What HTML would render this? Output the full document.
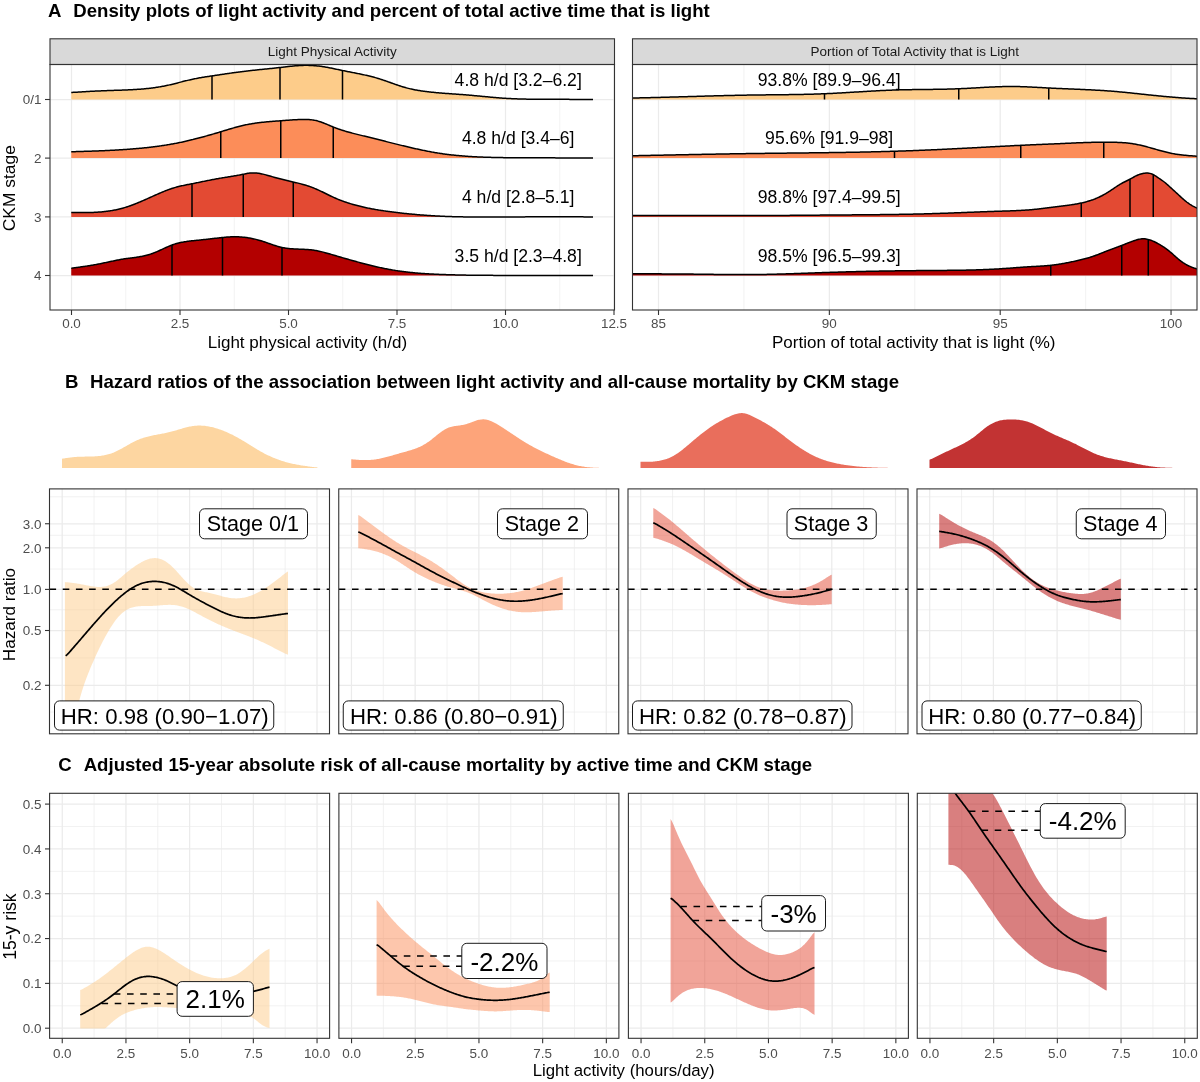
<!DOCTYPE html>
<html><head><meta charset="utf-8"><style>
html,body{margin:0;padding:0;background:#fff;}
svg{display:block;will-change:transform;font-family:"Liberation Sans", sans-serif;}
</style></head><body>
<svg width="1200" height="1082" viewBox="0 0 1200 1082">
<rect width="1200" height="1082" fill="#fff"/>
<text x="48.00" y="16.50" font-size="18.6" text-anchor="start" font-weight="bold" fill="#000" >A</text>
<text x="73.30" y="16.50" font-size="18.6" text-anchor="start" font-weight="bold" fill="#000" >Density plots of light activity and percent of total active time that is light</text>
<text x="65.00" y="387.50" font-size="18.6" text-anchor="start" font-weight="bold" fill="#000" >B</text>
<text x="90.00" y="387.50" font-size="18.6" text-anchor="start" font-weight="bold" fill="#000" >Hazard ratios of the association between light activity and all-cause mortality by CKM stage</text>
<text x="58.30" y="770.80" font-size="18.6" text-anchor="start" font-weight="bold" fill="#000" >C</text>
<text x="83.70" y="770.80" font-size="18.6" text-anchor="start" font-weight="bold" fill="#000" >Adjusted 15-year absolute risk of all-cause mortality by active time and CKM stage</text>
<rect x="50" y="64.5" width="564.5" height="245.5" fill="#fff"/>
<line x1="125.75" y1="64.5" x2="125.75" y2="310.0" stroke="#EBEBEB" stroke-width="0.65"/>
<line x1="234.25" y1="64.5" x2="234.25" y2="310.0" stroke="#EBEBEB" stroke-width="0.65"/>
<line x1="342.75" y1="64.5" x2="342.75" y2="310.0" stroke="#EBEBEB" stroke-width="0.65"/>
<line x1="451.25" y1="64.5" x2="451.25" y2="310.0" stroke="#EBEBEB" stroke-width="0.65"/>
<line x1="559.75" y1="64.5" x2="559.75" y2="310.0" stroke="#EBEBEB" stroke-width="0.65"/>
<line x1="71.5" y1="64.5" x2="71.5" y2="310.0" stroke="#EBEBEB" stroke-width="1.25"/>
<line x1="180.0" y1="64.5" x2="180.0" y2="310.0" stroke="#EBEBEB" stroke-width="1.25"/>
<line x1="288.5" y1="64.5" x2="288.5" y2="310.0" stroke="#EBEBEB" stroke-width="1.25"/>
<line x1="397.0" y1="64.5" x2="397.0" y2="310.0" stroke="#EBEBEB" stroke-width="1.25"/>
<line x1="505.5" y1="64.5" x2="505.5" y2="310.0" stroke="#EBEBEB" stroke-width="1.25"/>
<line x1="614.0" y1="64.5" x2="614.0" y2="310.0" stroke="#EBEBEB" stroke-width="1.25"/>
<line x1="50" y1="99.5" x2="614.5" y2="99.5" stroke="#EBEBEB" stroke-width="1.25"/>
<line x1="50" y1="158.1" x2="614.5" y2="158.1" stroke="#EBEBEB" stroke-width="1.25"/>
<line x1="50" y1="216.9" x2="614.5" y2="216.9" stroke="#EBEBEB" stroke-width="1.25"/>
<line x1="50" y1="275.5" x2="614.5" y2="275.5" stroke="#EBEBEB" stroke-width="1.25"/>
<clipPath id="clipA50"><rect x="50" y="64.5" width="564.5" height="245.5"/></clipPath>
<g clip-path="url(#clipA50)">
<path d="M71.25,92.46 L72.25,92.42 L73.26,92.37 L74.26,92.31 L75.26,92.25 L76.27,92.19 L77.27,92.13 L78.27,92.07 L79.28,92.01 L80.28,91.95 L81.28,91.89 L82.29,91.83 L83.29,91.77 L84.29,91.71 L85.30,91.65 L86.30,91.59 L87.30,91.54 L88.31,91.48 L89.31,91.43 L90.31,91.37 L91.32,91.32 L92.32,91.27 L93.32,91.22 L94.33,91.16 L95.33,91.12 L96.33,91.07 L97.34,91.02 L98.34,90.97 L99.34,90.93 L100.35,90.89 L101.35,90.85 L102.35,90.80 L103.36,90.76 L104.36,90.73 L105.36,90.69 L106.37,90.65 L107.37,90.62 L108.37,90.58 L109.38,90.54 L110.38,90.51 L111.38,90.48 L112.39,90.44 L113.39,90.41 L114.39,90.37 L115.40,90.34 L116.40,90.31 L117.40,90.27 L118.41,90.24 L119.41,90.20 L120.41,90.17 L121.42,90.13 L122.42,90.10 L123.43,90.06 L124.43,90.02 L125.43,89.98 L126.44,89.94 L127.44,89.90 L128.44,89.86 L129.45,89.81 L130.45,89.76 L131.45,89.72 L132.46,89.66 L133.46,89.61 L134.46,89.56 L135.47,89.50 L136.47,89.44 L137.47,89.37 L138.48,89.30 L139.48,89.23 L140.48,89.16 L141.49,89.08 L142.49,89.00 L143.49,88.91 L144.50,88.82 L145.50,88.72 L146.50,88.62 L147.51,88.52 L148.51,88.41 L149.51,88.30 L150.52,88.18 L151.52,88.06 L152.52,87.93 L153.53,87.80 L154.53,87.66 L155.53,87.51 L156.54,87.36 L157.54,87.21 L158.54,87.05 L159.55,86.88 L160.55,86.71 L161.55,86.53 L162.56,86.35 L163.56,86.16 L164.56,85.96 L165.57,85.76 L166.57,85.55 L167.57,85.33 L168.58,85.11 L169.58,84.89 L170.58,84.65 L171.59,84.42 L172.59,84.17 L173.59,83.92 L174.60,83.67 L175.60,83.42 L176.60,83.16 L177.61,82.90 L178.61,82.64 L179.61,82.38 L180.62,82.12 L181.62,81.86 L182.62,81.60 L183.63,81.35 L184.63,81.10 L185.63,80.85 L186.64,80.61 L187.64,80.37 L188.64,80.13 L189.65,79.90 L190.65,79.68 L191.65,79.46 L192.66,79.24 L193.66,79.03 L194.66,78.83 L195.67,78.62 L196.67,78.43 L197.67,78.23 L198.68,78.05 L199.68,77.86 L200.68,77.69 L201.69,77.51 L202.69,77.34 L203.69,77.18 L204.70,77.02 L205.70,76.86 L206.70,76.70 L207.71,76.55 L208.71,76.39 L209.71,76.24 L210.72,76.09 L211.72,75.94 L212.72,75.79 L213.73,75.64 L214.73,75.49 L215.73,75.34 L216.74,75.19 L217.74,75.04 L218.74,74.89 L219.75,74.74 L220.75,74.59 L221.75,74.44 L222.76,74.29 L223.76,74.15 L224.76,74.00 L225.77,73.85 L226.77,73.71 L227.78,73.56 L228.78,73.42 L229.78,73.27 L230.79,73.13 L231.79,72.99 L232.79,72.85 L233.80,72.71 L234.80,72.57 L235.80,72.43 L236.81,72.30 L237.81,72.16 L238.81,72.03 L239.82,71.90 L240.82,71.77 L241.82,71.64 L242.83,71.52 L243.83,71.40 L244.83,71.27 L245.84,71.15 L246.84,71.03 L247.84,70.92 L248.85,70.80 L249.85,70.69 L250.85,70.58 L251.86,70.47 L252.86,70.36 L253.86,70.25 L254.87,70.14 L255.87,70.04 L256.87,69.93 L257.88,69.83 L258.88,69.73 L259.88,69.62 L260.89,69.52 L261.89,69.42 L262.89,69.31 L263.90,69.21 L264.90,69.11 L265.90,69.01 L266.91,68.91 L267.91,68.80 L268.91,68.70 L269.92,68.60 L270.92,68.49 L271.92,68.39 L272.93,68.28 L273.93,68.17 L274.93,68.06 L275.94,67.95 L276.94,67.84 L277.94,67.73 L278.95,67.62 L279.95,67.50 L280.95,67.39 L281.96,67.27 L282.96,67.15 L283.96,67.03 L284.97,66.92 L285.97,66.80 L286.97,66.68 L287.98,66.57 L288.98,66.46 L289.98,66.35 L290.99,66.24 L291.99,66.14 L292.99,66.04 L294.00,65.95 L295.00,65.86 L296.00,65.78 L297.01,65.70 L298.01,65.63 L299.01,65.57 L300.02,65.51 L301.02,65.46 L302.02,65.43 L303.03,65.39 L304.03,65.37 L305.03,65.36 L306.04,65.35 L307.04,65.36 L308.04,65.37 L309.05,65.39 L310.05,65.42 L311.05,65.46 L312.06,65.50 L313.06,65.56 L314.06,65.63 L315.07,65.70 L316.07,65.79 L317.07,65.88 L318.08,65.99 L319.08,66.10 L320.08,66.23 L321.09,66.36 L322.09,66.50 L323.09,66.65 L324.10,66.81 L325.10,66.98 L326.10,67.15 L327.11,67.33 L328.11,67.52 L329.11,67.71 L330.12,67.90 L331.12,68.10 L332.12,68.31 L333.13,68.52 L334.13,68.72 L335.14,68.94 L336.14,69.15 L337.14,69.36 L338.15,69.58 L339.15,69.79 L340.15,70.00 L341.16,70.22 L342.16,70.43 L343.16,70.63 L344.17,70.84 L345.17,71.04 L346.17,71.24 L347.18,71.44 L348.18,71.64 L349.18,71.84 L350.19,72.04 L351.19,72.24 L352.19,72.43 L353.20,72.63 L354.20,72.83 L355.20,73.02 L356.21,73.22 L357.21,73.42 L358.21,73.63 L359.22,73.83 L360.22,74.04 L361.22,74.25 L362.23,74.46 L363.23,74.67 L364.23,74.89 L365.24,75.11 L366.24,75.34 L367.24,75.57 L368.25,75.81 L369.25,76.05 L370.25,76.29 L371.26,76.54 L372.26,76.80 L373.26,77.06 L374.27,77.33 L375.27,77.61 L376.27,77.89 L377.28,78.18 L378.28,78.48 L379.28,78.79 L380.29,79.10 L381.29,79.43 L382.29,79.75 L383.30,80.09 L384.30,80.43 L385.30,80.78 L386.31,81.13 L387.31,81.48 L388.31,81.84 L389.32,82.20 L390.32,82.56 L391.32,82.92 L392.33,83.28 L393.33,83.64 L394.33,84.00 L395.34,84.36 L396.34,84.71 L397.34,85.05 L398.35,85.40 L399.35,85.73 L400.35,86.06 L401.36,86.39 L402.36,86.70 L403.36,87.01 L404.37,87.30 L405.37,87.59 L406.37,87.86 L407.38,88.13 L408.38,88.38 L409.38,88.63 L410.39,88.87 L411.39,89.09 L412.39,89.31 L413.40,89.52 L414.40,89.72 L415.40,89.91 L416.41,90.10 L417.41,90.27 L418.41,90.44 L419.42,90.61 L420.42,90.76 L421.42,90.91 L422.43,91.06 L423.43,91.20 L424.43,91.33 L425.44,91.46 L426.44,91.59 L427.44,91.71 L428.45,91.82 L429.45,91.93 L430.45,92.04 L431.46,92.15 L432.46,92.25 L433.46,92.35 L434.47,92.45 L435.47,92.54 L436.48,92.64 L437.48,92.73 L438.48,92.81 L439.49,92.90 L440.49,92.98 L441.49,93.06 L442.50,93.15 L443.50,93.22 L444.50,93.30 L445.51,93.38 L446.51,93.45 L447.51,93.53 L448.52,93.60 L449.52,93.67 L450.52,93.74 L451.53,93.82 L452.53,93.89 L453.53,93.96 L454.54,94.03 L455.54,94.10 L456.54,94.17 L457.55,94.24 L458.55,94.32 L459.55,94.39 L460.56,94.46 L461.56,94.54 L462.56,94.61 L463.57,94.69 L464.57,94.77 L465.57,94.85 L466.58,94.93 L467.58,95.01 L468.58,95.09 L469.59,95.18 L470.59,95.27 L471.59,95.36 L472.60,95.45 L473.60,95.54 L474.60,95.63 L475.61,95.72 L476.61,95.82 L477.61,95.91 L478.62,96.01 L479.62,96.10 L480.62,96.20 L481.63,96.30 L482.63,96.39 L483.63,96.49 L484.64,96.58 L485.64,96.68 L486.64,96.78 L487.65,96.87 L488.65,96.97 L489.65,97.06 L490.66,97.15 L491.66,97.24 L492.66,97.33 L493.67,97.42 L494.67,97.51 L495.67,97.59 L496.68,97.68 L497.68,97.76 L498.68,97.84 L499.69,97.92 L500.69,98.00 L501.69,98.07 L502.70,98.14 L503.70,98.21 L504.70,98.28 L505.71,98.34 L506.71,98.40 L507.71,98.46 L508.72,98.51 L509.72,98.57 L510.72,98.62 L511.73,98.66 L512.73,98.71 L513.73,98.75 L514.74,98.79 L515.74,98.83 L516.74,98.87 L517.75,98.90 L518.75,98.94 L519.75,98.97 L520.76,98.99 L521.76,99.02 L522.76,99.05 L523.77,99.07 L524.77,99.09 L525.77,99.11 L526.78,99.13 L527.78,99.15 L528.78,99.16 L529.79,99.18 L530.79,99.19 L531.79,99.20 L532.80,99.21 L533.80,99.22 L534.80,99.23 L535.81,99.24 L536.81,99.25 L537.81,99.25 L538.82,99.26 L539.82,99.27 L540.83,99.27 L541.83,99.27 L542.83,99.28 L543.84,99.28 L544.84,99.29 L545.84,99.29 L546.85,99.29 L547.85,99.29 L548.85,99.30 L549.86,99.30 L550.86,99.30 L551.86,99.31 L552.87,99.31 L553.87,99.31 L554.87,99.32 L555.88,99.32 L556.88,99.32 L557.88,99.33 L558.89,99.33 L559.89,99.33 L560.89,99.34 L561.90,99.34 L562.90,99.35 L563.90,99.35 L564.91,99.35 L565.91,99.36 L566.91,99.36 L567.92,99.37 L568.92,99.37 L569.92,99.38 L570.93,99.38 L571.93,99.39 L572.93,99.39 L573.94,99.40 L574.94,99.40 L575.94,99.41 L576.95,99.41 L577.95,99.42 L578.95,99.42 L579.96,99.43 L580.96,99.43 L581.96,99.44 L582.97,99.44 L583.97,99.45 L584.97,99.46 L585.98,99.46 L586.98,99.47 L587.98,99.47 L588.99,99.48 L589.99,99.48 L590.99,99.49 L592.00,99.49 L593.00,99.50 L593.00,99.50 L71.25,99.50Z" fill="#FDCC8A"/>
<line x1="212" y1="99.5" x2="212" y2="75.90" stroke="#000" stroke-width="1.5"/>
<line x1="280" y1="99.5" x2="280" y2="67.50" stroke="#000" stroke-width="1.5"/>
<line x1="342.5" y1="99.5" x2="342.5" y2="70.50" stroke="#000" stroke-width="1.5"/>
<path d="M71.25,92.46 L72.25,92.42 L73.26,92.37 L74.26,92.31 L75.26,92.25 L76.27,92.19 L77.27,92.13 L78.27,92.07 L79.28,92.01 L80.28,91.95 L81.28,91.89 L82.29,91.83 L83.29,91.77 L84.29,91.71 L85.30,91.65 L86.30,91.59 L87.30,91.54 L88.31,91.48 L89.31,91.43 L90.31,91.37 L91.32,91.32 L92.32,91.27 L93.32,91.22 L94.33,91.16 L95.33,91.12 L96.33,91.07 L97.34,91.02 L98.34,90.97 L99.34,90.93 L100.35,90.89 L101.35,90.85 L102.35,90.80 L103.36,90.76 L104.36,90.73 L105.36,90.69 L106.37,90.65 L107.37,90.62 L108.37,90.58 L109.38,90.54 L110.38,90.51 L111.38,90.48 L112.39,90.44 L113.39,90.41 L114.39,90.37 L115.40,90.34 L116.40,90.31 L117.40,90.27 L118.41,90.24 L119.41,90.20 L120.41,90.17 L121.42,90.13 L122.42,90.10 L123.43,90.06 L124.43,90.02 L125.43,89.98 L126.44,89.94 L127.44,89.90 L128.44,89.86 L129.45,89.81 L130.45,89.76 L131.45,89.72 L132.46,89.66 L133.46,89.61 L134.46,89.56 L135.47,89.50 L136.47,89.44 L137.47,89.37 L138.48,89.30 L139.48,89.23 L140.48,89.16 L141.49,89.08 L142.49,89.00 L143.49,88.91 L144.50,88.82 L145.50,88.72 L146.50,88.62 L147.51,88.52 L148.51,88.41 L149.51,88.30 L150.52,88.18 L151.52,88.06 L152.52,87.93 L153.53,87.80 L154.53,87.66 L155.53,87.51 L156.54,87.36 L157.54,87.21 L158.54,87.05 L159.55,86.88 L160.55,86.71 L161.55,86.53 L162.56,86.35 L163.56,86.16 L164.56,85.96 L165.57,85.76 L166.57,85.55 L167.57,85.33 L168.58,85.11 L169.58,84.89 L170.58,84.65 L171.59,84.42 L172.59,84.17 L173.59,83.92 L174.60,83.67 L175.60,83.42 L176.60,83.16 L177.61,82.90 L178.61,82.64 L179.61,82.38 L180.62,82.12 L181.62,81.86 L182.62,81.60 L183.63,81.35 L184.63,81.10 L185.63,80.85 L186.64,80.61 L187.64,80.37 L188.64,80.13 L189.65,79.90 L190.65,79.68 L191.65,79.46 L192.66,79.24 L193.66,79.03 L194.66,78.83 L195.67,78.62 L196.67,78.43 L197.67,78.23 L198.68,78.05 L199.68,77.86 L200.68,77.69 L201.69,77.51 L202.69,77.34 L203.69,77.18 L204.70,77.02 L205.70,76.86 L206.70,76.70 L207.71,76.55 L208.71,76.39 L209.71,76.24 L210.72,76.09 L211.72,75.94 L212.72,75.79 L213.73,75.64 L214.73,75.49 L215.73,75.34 L216.74,75.19 L217.74,75.04 L218.74,74.89 L219.75,74.74 L220.75,74.59 L221.75,74.44 L222.76,74.29 L223.76,74.15 L224.76,74.00 L225.77,73.85 L226.77,73.71 L227.78,73.56 L228.78,73.42 L229.78,73.27 L230.79,73.13 L231.79,72.99 L232.79,72.85 L233.80,72.71 L234.80,72.57 L235.80,72.43 L236.81,72.30 L237.81,72.16 L238.81,72.03 L239.82,71.90 L240.82,71.77 L241.82,71.64 L242.83,71.52 L243.83,71.40 L244.83,71.27 L245.84,71.15 L246.84,71.03 L247.84,70.92 L248.85,70.80 L249.85,70.69 L250.85,70.58 L251.86,70.47 L252.86,70.36 L253.86,70.25 L254.87,70.14 L255.87,70.04 L256.87,69.93 L257.88,69.83 L258.88,69.73 L259.88,69.62 L260.89,69.52 L261.89,69.42 L262.89,69.31 L263.90,69.21 L264.90,69.11 L265.90,69.01 L266.91,68.91 L267.91,68.80 L268.91,68.70 L269.92,68.60 L270.92,68.49 L271.92,68.39 L272.93,68.28 L273.93,68.17 L274.93,68.06 L275.94,67.95 L276.94,67.84 L277.94,67.73 L278.95,67.62 L279.95,67.50 L280.95,67.39 L281.96,67.27 L282.96,67.15 L283.96,67.03 L284.97,66.92 L285.97,66.80 L286.97,66.68 L287.98,66.57 L288.98,66.46 L289.98,66.35 L290.99,66.24 L291.99,66.14 L292.99,66.04 L294.00,65.95 L295.00,65.86 L296.00,65.78 L297.01,65.70 L298.01,65.63 L299.01,65.57 L300.02,65.51 L301.02,65.46 L302.02,65.43 L303.03,65.39 L304.03,65.37 L305.03,65.36 L306.04,65.35 L307.04,65.36 L308.04,65.37 L309.05,65.39 L310.05,65.42 L311.05,65.46 L312.06,65.50 L313.06,65.56 L314.06,65.63 L315.07,65.70 L316.07,65.79 L317.07,65.88 L318.08,65.99 L319.08,66.10 L320.08,66.23 L321.09,66.36 L322.09,66.50 L323.09,66.65 L324.10,66.81 L325.10,66.98 L326.10,67.15 L327.11,67.33 L328.11,67.52 L329.11,67.71 L330.12,67.90 L331.12,68.10 L332.12,68.31 L333.13,68.52 L334.13,68.72 L335.14,68.94 L336.14,69.15 L337.14,69.36 L338.15,69.58 L339.15,69.79 L340.15,70.00 L341.16,70.22 L342.16,70.43 L343.16,70.63 L344.17,70.84 L345.17,71.04 L346.17,71.24 L347.18,71.44 L348.18,71.64 L349.18,71.84 L350.19,72.04 L351.19,72.24 L352.19,72.43 L353.20,72.63 L354.20,72.83 L355.20,73.02 L356.21,73.22 L357.21,73.42 L358.21,73.63 L359.22,73.83 L360.22,74.04 L361.22,74.25 L362.23,74.46 L363.23,74.67 L364.23,74.89 L365.24,75.11 L366.24,75.34 L367.24,75.57 L368.25,75.81 L369.25,76.05 L370.25,76.29 L371.26,76.54 L372.26,76.80 L373.26,77.06 L374.27,77.33 L375.27,77.61 L376.27,77.89 L377.28,78.18 L378.28,78.48 L379.28,78.79 L380.29,79.10 L381.29,79.43 L382.29,79.75 L383.30,80.09 L384.30,80.43 L385.30,80.78 L386.31,81.13 L387.31,81.48 L388.31,81.84 L389.32,82.20 L390.32,82.56 L391.32,82.92 L392.33,83.28 L393.33,83.64 L394.33,84.00 L395.34,84.36 L396.34,84.71 L397.34,85.05 L398.35,85.40 L399.35,85.73 L400.35,86.06 L401.36,86.39 L402.36,86.70 L403.36,87.01 L404.37,87.30 L405.37,87.59 L406.37,87.86 L407.38,88.13 L408.38,88.38 L409.38,88.63 L410.39,88.87 L411.39,89.09 L412.39,89.31 L413.40,89.52 L414.40,89.72 L415.40,89.91 L416.41,90.10 L417.41,90.27 L418.41,90.44 L419.42,90.61 L420.42,90.76 L421.42,90.91 L422.43,91.06 L423.43,91.20 L424.43,91.33 L425.44,91.46 L426.44,91.59 L427.44,91.71 L428.45,91.82 L429.45,91.93 L430.45,92.04 L431.46,92.15 L432.46,92.25 L433.46,92.35 L434.47,92.45 L435.47,92.54 L436.48,92.64 L437.48,92.73 L438.48,92.81 L439.49,92.90 L440.49,92.98 L441.49,93.06 L442.50,93.15 L443.50,93.22 L444.50,93.30 L445.51,93.38 L446.51,93.45 L447.51,93.53 L448.52,93.60 L449.52,93.67 L450.52,93.74 L451.53,93.82 L452.53,93.89 L453.53,93.96 L454.54,94.03 L455.54,94.10 L456.54,94.17 L457.55,94.24 L458.55,94.32 L459.55,94.39 L460.56,94.46 L461.56,94.54 L462.56,94.61 L463.57,94.69 L464.57,94.77 L465.57,94.85 L466.58,94.93 L467.58,95.01 L468.58,95.09 L469.59,95.18 L470.59,95.27 L471.59,95.36 L472.60,95.45 L473.60,95.54 L474.60,95.63 L475.61,95.72 L476.61,95.82 L477.61,95.91 L478.62,96.01 L479.62,96.10 L480.62,96.20 L481.63,96.30 L482.63,96.39 L483.63,96.49 L484.64,96.58 L485.64,96.68 L486.64,96.78 L487.65,96.87 L488.65,96.97 L489.65,97.06 L490.66,97.15 L491.66,97.24 L492.66,97.33 L493.67,97.42 L494.67,97.51 L495.67,97.59 L496.68,97.68 L497.68,97.76 L498.68,97.84 L499.69,97.92 L500.69,98.00 L501.69,98.07 L502.70,98.14 L503.70,98.21 L504.70,98.28 L505.71,98.34 L506.71,98.40 L507.71,98.46 L508.72,98.51 L509.72,98.57 L510.72,98.62 L511.73,98.66 L512.73,98.71 L513.73,98.75 L514.74,98.79 L515.74,98.83 L516.74,98.87 L517.75,98.90 L518.75,98.94 L519.75,98.97 L520.76,98.99 L521.76,99.02 L522.76,99.05 L523.77,99.07 L524.77,99.09 L525.77,99.11 L526.78,99.13 L527.78,99.15 L528.78,99.16 L529.79,99.18 L530.79,99.19 L531.79,99.20 L532.80,99.21 L533.80,99.22 L534.80,99.23 L535.81,99.24 L536.81,99.25 L537.81,99.25 L538.82,99.26 L539.82,99.27 L540.83,99.27 L541.83,99.27 L542.83,99.28 L543.84,99.28 L544.84,99.29 L545.84,99.29 L546.85,99.29 L547.85,99.29 L548.85,99.30 L549.86,99.30 L550.86,99.30 L551.86,99.31 L552.87,99.31 L553.87,99.31 L554.87,99.32 L555.88,99.32 L556.88,99.32 L557.88,99.33 L558.89,99.33 L559.89,99.33 L560.89,99.34 L561.90,99.34 L562.90,99.35 L563.90,99.35 L564.91,99.35 L565.91,99.36 L566.91,99.36 L567.92,99.37 L568.92,99.37 L569.92,99.38 L570.93,99.38 L571.93,99.39 L572.93,99.39 L573.94,99.40 L574.94,99.40 L575.94,99.41 L576.95,99.41 L577.95,99.42 L578.95,99.42 L579.96,99.43 L580.96,99.43 L581.96,99.44 L582.97,99.44 L583.97,99.45 L584.97,99.46 L585.98,99.46 L586.98,99.47 L587.98,99.47 L588.99,99.48 L589.99,99.48 L590.99,99.49 L592.00,99.49 L593.00,99.50" fill="none" stroke="#000" stroke-width="1.5" stroke-linejoin="round"/>
<path d="M71.25,151.73 L72.25,151.71 L73.26,151.69 L74.26,151.66 L75.26,151.63 L76.27,151.60 L77.27,151.57 L78.27,151.54 L79.28,151.51 L80.28,151.48 L81.28,151.45 L82.29,151.42 L83.29,151.39 L84.29,151.36 L85.30,151.33 L86.30,151.30 L87.30,151.27 L88.31,151.23 L89.31,151.20 L90.31,151.17 L91.32,151.13 L92.32,151.10 L93.32,151.06 L94.33,151.03 L95.33,150.99 L96.33,150.95 L97.34,150.91 L98.34,150.88 L99.34,150.84 L100.35,150.80 L101.35,150.75 L102.35,150.71 L103.36,150.67 L104.36,150.63 L105.36,150.58 L106.37,150.54 L107.37,150.49 L108.37,150.44 L109.38,150.40 L110.38,150.35 L111.38,150.30 L112.39,150.25 L113.39,150.19 L114.39,150.14 L115.40,150.09 L116.40,150.03 L117.40,149.97 L118.41,149.91 L119.41,149.85 L120.41,149.79 L121.42,149.73 L122.42,149.67 L123.43,149.60 L124.43,149.54 L125.43,149.47 L126.44,149.40 L127.44,149.33 L128.44,149.26 L129.45,149.18 L130.45,149.11 L131.45,149.03 L132.46,148.95 L133.46,148.87 L134.46,148.79 L135.47,148.70 L136.47,148.62 L137.47,148.53 L138.48,148.44 L139.48,148.35 L140.48,148.25 L141.49,148.16 L142.49,148.06 L143.49,147.96 L144.50,147.86 L145.50,147.75 L146.50,147.64 L147.51,147.53 L148.51,147.42 L149.51,147.31 L150.52,147.19 L151.52,147.07 L152.52,146.95 L153.53,146.83 L154.53,146.70 L155.53,146.57 L156.54,146.44 L157.54,146.30 L158.54,146.17 L159.55,146.03 L160.55,145.88 L161.55,145.74 L162.56,145.59 L163.56,145.44 L164.56,145.28 L165.57,145.12 L166.57,144.96 L167.57,144.80 L168.58,144.63 L169.58,144.46 L170.58,144.29 L171.59,144.11 L172.59,143.93 L173.59,143.75 L174.60,143.56 L175.60,143.37 L176.60,143.18 L177.61,142.98 L178.61,142.78 L179.61,142.57 L180.62,142.37 L181.62,142.15 L182.62,141.94 L183.63,141.72 L184.63,141.50 L185.63,141.27 L186.64,141.04 L187.64,140.81 L188.64,140.58 L189.65,140.34 L190.65,140.10 L191.65,139.85 L192.66,139.61 L193.66,139.35 L194.66,139.10 L195.67,138.85 L196.67,138.59 L197.67,138.33 L198.68,138.06 L199.68,137.80 L200.68,137.53 L201.69,137.26 L202.69,136.98 L203.69,136.71 L204.70,136.43 L205.70,136.15 L206.70,135.87 L207.71,135.59 L208.71,135.30 L209.71,135.01 L210.72,134.72 L211.72,134.43 L212.72,134.14 L213.73,133.85 L214.73,133.55 L215.73,133.25 L216.74,132.96 L217.74,132.66 L218.74,132.35 L219.75,132.05 L220.75,131.75 L221.75,131.44 L222.76,131.14 L223.76,130.83 L224.76,130.53 L225.77,130.22 L226.77,129.92 L227.78,129.62 L228.78,129.32 L229.78,129.02 L230.79,128.72 L231.79,128.43 L232.79,128.14 L233.80,127.85 L234.80,127.57 L235.80,127.29 L236.81,127.02 L237.81,126.75 L238.81,126.49 L239.82,126.23 L240.82,125.98 L241.82,125.74 L242.83,125.50 L243.83,125.27 L244.83,125.05 L245.84,124.84 L246.84,124.63 L247.84,124.43 L248.85,124.24 L249.85,124.06 L250.85,123.89 L251.86,123.72 L252.86,123.56 L253.86,123.40 L254.87,123.26 L255.87,123.11 L256.87,122.98 L257.88,122.84 L258.88,122.72 L259.88,122.60 L260.89,122.48 L261.89,122.37 L262.89,122.26 L263.90,122.16 L264.90,122.05 L265.90,121.96 L266.91,121.86 L267.91,121.77 L268.91,121.68 L269.92,121.60 L270.92,121.51 L271.92,121.43 L272.93,121.35 L273.93,121.27 L274.93,121.19 L275.94,121.12 L276.94,121.04 L277.94,120.96 L278.95,120.89 L279.95,120.81 L280.95,120.73 L281.96,120.66 L282.96,120.58 L283.96,120.50 L284.97,120.43 L285.97,120.35 L286.97,120.28 L287.98,120.20 L288.98,120.13 L289.98,120.06 L290.99,119.99 L291.99,119.92 L292.99,119.86 L294.00,119.80 L295.00,119.74 L296.00,119.69 L297.01,119.64 L298.01,119.59 L299.01,119.55 L300.02,119.51 L301.02,119.48 L302.02,119.45 L303.03,119.43 L304.03,119.43 L305.03,119.43 L306.04,119.44 L307.04,119.47 L308.04,119.52 L309.05,119.58 L310.05,119.66 L311.05,119.76 L312.06,119.88 L313.06,120.02 L314.06,120.18 L315.07,120.38 L316.07,120.59 L317.07,120.84 L318.08,121.11 L319.08,121.41 L320.08,121.73 L321.09,122.07 L322.09,122.43 L323.09,122.80 L324.10,123.20 L325.10,123.60 L326.10,124.01 L327.11,124.43 L328.11,124.85 L329.11,125.27 L330.12,125.69 L331.12,126.11 L332.12,126.53 L333.13,126.94 L334.13,127.33 L335.14,127.72 L336.14,128.10 L337.14,128.47 L338.15,128.84 L339.15,129.19 L340.15,129.53 L341.16,129.87 L342.16,130.19 L343.16,130.51 L344.17,130.82 L345.17,131.13 L346.17,131.43 L347.18,131.72 L348.18,132.01 L349.18,132.29 L350.19,132.57 L351.19,132.84 L352.19,133.11 L353.20,133.37 L354.20,133.63 L355.20,133.89 L356.21,134.14 L357.21,134.39 L358.21,134.64 L359.22,134.88 L360.22,135.13 L361.22,135.37 L362.23,135.62 L363.23,135.86 L364.23,136.10 L365.24,136.35 L366.24,136.59 L367.24,136.83 L368.25,137.08 L369.25,137.32 L370.25,137.57 L371.26,137.82 L372.26,138.07 L373.26,138.32 L374.27,138.57 L375.27,138.82 L376.27,139.07 L377.28,139.32 L378.28,139.58 L379.28,139.83 L380.29,140.08 L381.29,140.34 L382.29,140.59 L383.30,140.84 L384.30,141.10 L385.30,141.35 L386.31,141.61 L387.31,141.86 L388.31,142.11 L389.32,142.37 L390.32,142.62 L391.32,142.87 L392.33,143.12 L393.33,143.38 L394.33,143.63 L395.34,143.88 L396.34,144.13 L397.34,144.38 L398.35,144.63 L399.35,144.87 L400.35,145.12 L401.36,145.37 L402.36,145.61 L403.36,145.85 L404.37,146.10 L405.37,146.34 L406.37,146.58 L407.38,146.81 L408.38,147.05 L409.38,147.29 L410.39,147.52 L411.39,147.75 L412.39,147.98 L413.40,148.21 L414.40,148.44 L415.40,148.66 L416.41,148.88 L417.41,149.10 L418.41,149.32 L419.42,149.54 L420.42,149.75 L421.42,149.96 L422.43,150.17 L423.43,150.38 L424.43,150.58 L425.44,150.78 L426.44,150.98 L427.44,151.18 L428.45,151.37 L429.45,151.56 L430.45,151.75 L431.46,151.93 L432.46,152.12 L433.46,152.29 L434.47,152.47 L435.47,152.64 L436.48,152.81 L437.48,152.97 L438.48,153.13 L439.49,153.29 L440.49,153.45 L441.49,153.60 L442.50,153.74 L443.50,153.89 L444.50,154.03 L445.51,154.16 L446.51,154.29 L447.51,154.42 L448.52,154.55 L449.52,154.67 L450.52,154.78 L451.53,154.90 L452.53,155.01 L453.53,155.12 L454.54,155.22 L455.54,155.32 L456.54,155.42 L457.55,155.52 L458.55,155.61 L459.55,155.70 L460.56,155.79 L461.56,155.87 L462.56,155.95 L463.57,156.03 L464.57,156.11 L465.57,156.18 L466.58,156.25 L467.58,156.32 L468.58,156.39 L469.59,156.45 L470.59,156.51 L471.59,156.57 L472.60,156.63 L473.60,156.69 L474.60,156.74 L475.61,156.79 L476.61,156.84 L477.61,156.89 L478.62,156.94 L479.62,156.98 L480.62,157.02 L481.63,157.06 L482.63,157.10 L483.63,157.14 L484.64,157.18 L485.64,157.21 L486.64,157.25 L487.65,157.28 L488.65,157.31 L489.65,157.34 L490.66,157.37 L491.66,157.40 L492.66,157.42 L493.67,157.45 L494.67,157.47 L495.67,157.49 L496.68,157.51 L497.68,157.53 L498.68,157.55 L499.69,157.57 L500.69,157.59 L501.69,157.60 L502.70,157.62 L503.70,157.63 L504.70,157.64 L505.71,157.66 L506.71,157.67 L507.71,157.68 L508.72,157.69 L509.72,157.70 L510.72,157.71 L511.73,157.72 L512.73,157.72 L513.73,157.73 L514.74,157.74 L515.74,157.74 L516.74,157.75 L517.75,157.76 L518.75,157.76 L519.75,157.77 L520.76,157.77 L521.76,157.77 L522.76,157.78 L523.77,157.78 L524.77,157.78 L525.77,157.79 L526.78,157.79 L527.78,157.79 L528.78,157.80 L529.79,157.80 L530.79,157.80 L531.79,157.81 L532.80,157.81 L533.80,157.81 L534.80,157.81 L535.81,157.82 L536.81,157.82 L537.81,157.82 L538.82,157.83 L539.82,157.83 L540.83,157.83 L541.83,157.83 L542.83,157.84 L543.84,157.84 L544.84,157.84 L545.84,157.85 L546.85,157.85 L547.85,157.85 L548.85,157.86 L549.86,157.86 L550.86,157.86 L551.86,157.87 L552.87,157.87 L553.87,157.87 L554.87,157.87 L555.88,157.88 L556.88,157.88 L557.88,157.88 L558.89,157.89 L559.89,157.89 L560.89,157.89 L561.90,157.90 L562.90,157.90 L563.90,157.90 L564.91,157.91 L565.91,157.91 L566.91,157.91 L567.92,157.92 L568.92,157.92 L569.92,157.92 L570.93,157.93 L571.93,157.93 L572.93,157.93 L573.94,157.94 L574.94,157.94 L575.94,157.94 L576.95,157.95 L577.95,157.95 L578.95,157.95 L579.96,157.96 L580.96,157.96 L581.96,157.96 L582.97,157.97 L583.97,157.97 L584.97,157.97 L585.98,157.98 L586.98,157.98 L587.98,157.98 L588.99,157.99 L589.99,157.99 L590.99,157.99 L592.00,158.00 L593.00,158.00 L593.00,158.10 L71.25,158.10Z" fill="#FC8D59"/>
<line x1="220.75" y1="158.1" x2="220.75" y2="131.75" stroke="#000" stroke-width="1.5"/>
<line x1="280.75" y1="158.1" x2="280.75" y2="120.75" stroke="#000" stroke-width="1.5"/>
<line x1="333.25" y1="158.1" x2="333.25" y2="126.98" stroke="#000" stroke-width="1.5"/>
<path d="M71.25,151.73 L72.25,151.71 L73.26,151.69 L74.26,151.66 L75.26,151.63 L76.27,151.60 L77.27,151.57 L78.27,151.54 L79.28,151.51 L80.28,151.48 L81.28,151.45 L82.29,151.42 L83.29,151.39 L84.29,151.36 L85.30,151.33 L86.30,151.30 L87.30,151.27 L88.31,151.23 L89.31,151.20 L90.31,151.17 L91.32,151.13 L92.32,151.10 L93.32,151.06 L94.33,151.03 L95.33,150.99 L96.33,150.95 L97.34,150.91 L98.34,150.88 L99.34,150.84 L100.35,150.80 L101.35,150.75 L102.35,150.71 L103.36,150.67 L104.36,150.63 L105.36,150.58 L106.37,150.54 L107.37,150.49 L108.37,150.44 L109.38,150.40 L110.38,150.35 L111.38,150.30 L112.39,150.25 L113.39,150.19 L114.39,150.14 L115.40,150.09 L116.40,150.03 L117.40,149.97 L118.41,149.91 L119.41,149.85 L120.41,149.79 L121.42,149.73 L122.42,149.67 L123.43,149.60 L124.43,149.54 L125.43,149.47 L126.44,149.40 L127.44,149.33 L128.44,149.26 L129.45,149.18 L130.45,149.11 L131.45,149.03 L132.46,148.95 L133.46,148.87 L134.46,148.79 L135.47,148.70 L136.47,148.62 L137.47,148.53 L138.48,148.44 L139.48,148.35 L140.48,148.25 L141.49,148.16 L142.49,148.06 L143.49,147.96 L144.50,147.86 L145.50,147.75 L146.50,147.64 L147.51,147.53 L148.51,147.42 L149.51,147.31 L150.52,147.19 L151.52,147.07 L152.52,146.95 L153.53,146.83 L154.53,146.70 L155.53,146.57 L156.54,146.44 L157.54,146.30 L158.54,146.17 L159.55,146.03 L160.55,145.88 L161.55,145.74 L162.56,145.59 L163.56,145.44 L164.56,145.28 L165.57,145.12 L166.57,144.96 L167.57,144.80 L168.58,144.63 L169.58,144.46 L170.58,144.29 L171.59,144.11 L172.59,143.93 L173.59,143.75 L174.60,143.56 L175.60,143.37 L176.60,143.18 L177.61,142.98 L178.61,142.78 L179.61,142.57 L180.62,142.37 L181.62,142.15 L182.62,141.94 L183.63,141.72 L184.63,141.50 L185.63,141.27 L186.64,141.04 L187.64,140.81 L188.64,140.58 L189.65,140.34 L190.65,140.10 L191.65,139.85 L192.66,139.61 L193.66,139.35 L194.66,139.10 L195.67,138.85 L196.67,138.59 L197.67,138.33 L198.68,138.06 L199.68,137.80 L200.68,137.53 L201.69,137.26 L202.69,136.98 L203.69,136.71 L204.70,136.43 L205.70,136.15 L206.70,135.87 L207.71,135.59 L208.71,135.30 L209.71,135.01 L210.72,134.72 L211.72,134.43 L212.72,134.14 L213.73,133.85 L214.73,133.55 L215.73,133.25 L216.74,132.96 L217.74,132.66 L218.74,132.35 L219.75,132.05 L220.75,131.75 L221.75,131.44 L222.76,131.14 L223.76,130.83 L224.76,130.53 L225.77,130.22 L226.77,129.92 L227.78,129.62 L228.78,129.32 L229.78,129.02 L230.79,128.72 L231.79,128.43 L232.79,128.14 L233.80,127.85 L234.80,127.57 L235.80,127.29 L236.81,127.02 L237.81,126.75 L238.81,126.49 L239.82,126.23 L240.82,125.98 L241.82,125.74 L242.83,125.50 L243.83,125.27 L244.83,125.05 L245.84,124.84 L246.84,124.63 L247.84,124.43 L248.85,124.24 L249.85,124.06 L250.85,123.89 L251.86,123.72 L252.86,123.56 L253.86,123.40 L254.87,123.26 L255.87,123.11 L256.87,122.98 L257.88,122.84 L258.88,122.72 L259.88,122.60 L260.89,122.48 L261.89,122.37 L262.89,122.26 L263.90,122.16 L264.90,122.05 L265.90,121.96 L266.91,121.86 L267.91,121.77 L268.91,121.68 L269.92,121.60 L270.92,121.51 L271.92,121.43 L272.93,121.35 L273.93,121.27 L274.93,121.19 L275.94,121.12 L276.94,121.04 L277.94,120.96 L278.95,120.89 L279.95,120.81 L280.95,120.73 L281.96,120.66 L282.96,120.58 L283.96,120.50 L284.97,120.43 L285.97,120.35 L286.97,120.28 L287.98,120.20 L288.98,120.13 L289.98,120.06 L290.99,119.99 L291.99,119.92 L292.99,119.86 L294.00,119.80 L295.00,119.74 L296.00,119.69 L297.01,119.64 L298.01,119.59 L299.01,119.55 L300.02,119.51 L301.02,119.48 L302.02,119.45 L303.03,119.43 L304.03,119.43 L305.03,119.43 L306.04,119.44 L307.04,119.47 L308.04,119.52 L309.05,119.58 L310.05,119.66 L311.05,119.76 L312.06,119.88 L313.06,120.02 L314.06,120.18 L315.07,120.38 L316.07,120.59 L317.07,120.84 L318.08,121.11 L319.08,121.41 L320.08,121.73 L321.09,122.07 L322.09,122.43 L323.09,122.80 L324.10,123.20 L325.10,123.60 L326.10,124.01 L327.11,124.43 L328.11,124.85 L329.11,125.27 L330.12,125.69 L331.12,126.11 L332.12,126.53 L333.13,126.94 L334.13,127.33 L335.14,127.72 L336.14,128.10 L337.14,128.47 L338.15,128.84 L339.15,129.19 L340.15,129.53 L341.16,129.87 L342.16,130.19 L343.16,130.51 L344.17,130.82 L345.17,131.13 L346.17,131.43 L347.18,131.72 L348.18,132.01 L349.18,132.29 L350.19,132.57 L351.19,132.84 L352.19,133.11 L353.20,133.37 L354.20,133.63 L355.20,133.89 L356.21,134.14 L357.21,134.39 L358.21,134.64 L359.22,134.88 L360.22,135.13 L361.22,135.37 L362.23,135.62 L363.23,135.86 L364.23,136.10 L365.24,136.35 L366.24,136.59 L367.24,136.83 L368.25,137.08 L369.25,137.32 L370.25,137.57 L371.26,137.82 L372.26,138.07 L373.26,138.32 L374.27,138.57 L375.27,138.82 L376.27,139.07 L377.28,139.32 L378.28,139.58 L379.28,139.83 L380.29,140.08 L381.29,140.34 L382.29,140.59 L383.30,140.84 L384.30,141.10 L385.30,141.35 L386.31,141.61 L387.31,141.86 L388.31,142.11 L389.32,142.37 L390.32,142.62 L391.32,142.87 L392.33,143.12 L393.33,143.38 L394.33,143.63 L395.34,143.88 L396.34,144.13 L397.34,144.38 L398.35,144.63 L399.35,144.87 L400.35,145.12 L401.36,145.37 L402.36,145.61 L403.36,145.85 L404.37,146.10 L405.37,146.34 L406.37,146.58 L407.38,146.81 L408.38,147.05 L409.38,147.29 L410.39,147.52 L411.39,147.75 L412.39,147.98 L413.40,148.21 L414.40,148.44 L415.40,148.66 L416.41,148.88 L417.41,149.10 L418.41,149.32 L419.42,149.54 L420.42,149.75 L421.42,149.96 L422.43,150.17 L423.43,150.38 L424.43,150.58 L425.44,150.78 L426.44,150.98 L427.44,151.18 L428.45,151.37 L429.45,151.56 L430.45,151.75 L431.46,151.93 L432.46,152.12 L433.46,152.29 L434.47,152.47 L435.47,152.64 L436.48,152.81 L437.48,152.97 L438.48,153.13 L439.49,153.29 L440.49,153.45 L441.49,153.60 L442.50,153.74 L443.50,153.89 L444.50,154.03 L445.51,154.16 L446.51,154.29 L447.51,154.42 L448.52,154.55 L449.52,154.67 L450.52,154.78 L451.53,154.90 L452.53,155.01 L453.53,155.12 L454.54,155.22 L455.54,155.32 L456.54,155.42 L457.55,155.52 L458.55,155.61 L459.55,155.70 L460.56,155.79 L461.56,155.87 L462.56,155.95 L463.57,156.03 L464.57,156.11 L465.57,156.18 L466.58,156.25 L467.58,156.32 L468.58,156.39 L469.59,156.45 L470.59,156.51 L471.59,156.57 L472.60,156.63 L473.60,156.69 L474.60,156.74 L475.61,156.79 L476.61,156.84 L477.61,156.89 L478.62,156.94 L479.62,156.98 L480.62,157.02 L481.63,157.06 L482.63,157.10 L483.63,157.14 L484.64,157.18 L485.64,157.21 L486.64,157.25 L487.65,157.28 L488.65,157.31 L489.65,157.34 L490.66,157.37 L491.66,157.40 L492.66,157.42 L493.67,157.45 L494.67,157.47 L495.67,157.49 L496.68,157.51 L497.68,157.53 L498.68,157.55 L499.69,157.57 L500.69,157.59 L501.69,157.60 L502.70,157.62 L503.70,157.63 L504.70,157.64 L505.71,157.66 L506.71,157.67 L507.71,157.68 L508.72,157.69 L509.72,157.70 L510.72,157.71 L511.73,157.72 L512.73,157.72 L513.73,157.73 L514.74,157.74 L515.74,157.74 L516.74,157.75 L517.75,157.76 L518.75,157.76 L519.75,157.77 L520.76,157.77 L521.76,157.77 L522.76,157.78 L523.77,157.78 L524.77,157.78 L525.77,157.79 L526.78,157.79 L527.78,157.79 L528.78,157.80 L529.79,157.80 L530.79,157.80 L531.79,157.81 L532.80,157.81 L533.80,157.81 L534.80,157.81 L535.81,157.82 L536.81,157.82 L537.81,157.82 L538.82,157.83 L539.82,157.83 L540.83,157.83 L541.83,157.83 L542.83,157.84 L543.84,157.84 L544.84,157.84 L545.84,157.85 L546.85,157.85 L547.85,157.85 L548.85,157.86 L549.86,157.86 L550.86,157.86 L551.86,157.87 L552.87,157.87 L553.87,157.87 L554.87,157.87 L555.88,157.88 L556.88,157.88 L557.88,157.88 L558.89,157.89 L559.89,157.89 L560.89,157.89 L561.90,157.90 L562.90,157.90 L563.90,157.90 L564.91,157.91 L565.91,157.91 L566.91,157.91 L567.92,157.92 L568.92,157.92 L569.92,157.92 L570.93,157.93 L571.93,157.93 L572.93,157.93 L573.94,157.94 L574.94,157.94 L575.94,157.94 L576.95,157.95 L577.95,157.95 L578.95,157.95 L579.96,157.96 L580.96,157.96 L581.96,157.96 L582.97,157.97 L583.97,157.97 L584.97,157.97 L585.98,157.98 L586.98,157.98 L587.98,157.98 L588.99,157.99 L589.99,157.99 L590.99,157.99 L592.00,158.00 L593.00,158.00" fill="none" stroke="#000" stroke-width="1.5" stroke-linejoin="round"/>
<path d="M71.25,212.51 L72.25,212.52 L73.26,212.53 L74.26,212.54 L75.26,212.55 L76.27,212.56 L77.27,212.57 L78.27,212.58 L79.28,212.58 L80.28,212.59 L81.28,212.59 L82.29,212.59 L83.29,212.59 L84.29,212.59 L85.30,212.58 L86.30,212.57 L87.30,212.55 L88.31,212.54 L89.31,212.51 L90.31,212.49 L91.32,212.46 L92.32,212.43 L93.32,212.39 L94.33,212.34 L95.33,212.29 L96.33,212.24 L97.34,212.18 L98.34,212.11 L99.34,212.04 L100.35,211.96 L101.35,211.88 L102.35,211.79 L103.36,211.69 L104.36,211.58 L105.36,211.47 L106.37,211.35 L107.37,211.22 L108.37,211.08 L109.38,210.94 L110.38,210.79 L111.38,210.62 L112.39,210.45 L113.39,210.27 L114.39,210.09 L115.40,209.89 L116.40,209.68 L117.40,209.46 L118.41,209.24 L119.41,209.00 L120.41,208.75 L121.42,208.49 L122.42,208.22 L123.43,207.94 L124.43,207.65 L125.43,207.35 L126.44,207.04 L127.44,206.71 L128.44,206.38 L129.45,206.03 L130.45,205.68 L131.45,205.32 L132.46,204.94 L133.46,204.56 L134.46,204.18 L135.47,203.78 L136.47,203.38 L137.47,202.97 L138.48,202.55 L139.48,202.13 L140.48,201.71 L141.49,201.28 L142.49,200.84 L143.49,200.40 L144.50,199.96 L145.50,199.52 L146.50,199.07 L147.51,198.62 L148.51,198.17 L149.51,197.72 L150.52,197.27 L151.52,196.81 L152.52,196.36 L153.53,195.91 L154.53,195.46 L155.53,195.01 L156.54,194.57 L157.54,194.13 L158.54,193.69 L159.55,193.25 L160.55,192.82 L161.55,192.40 L162.56,191.98 L163.56,191.57 L164.56,191.17 L165.57,190.77 L166.57,190.38 L167.57,190.00 L168.58,189.63 L169.58,189.27 L170.58,188.92 L171.59,188.58 L172.59,188.26 L173.59,187.94 L174.60,187.64 L175.60,187.35 L176.60,187.07 L177.61,186.80 L178.61,186.55 L179.61,186.30 L180.62,186.07 L181.62,185.84 L182.62,185.62 L183.63,185.40 L184.63,185.19 L185.63,184.99 L186.64,184.79 L187.64,184.59 L188.64,184.40 L189.65,184.20 L190.65,184.01 L191.65,183.81 L192.66,183.62 L193.66,183.42 L194.66,183.22 L195.67,183.02 L196.67,182.82 L197.67,182.62 L198.68,182.42 L199.68,182.21 L200.68,182.01 L201.69,181.80 L202.69,181.60 L203.69,181.39 L204.70,181.19 L205.70,180.99 L206.70,180.78 L207.71,180.58 L208.71,180.38 L209.71,180.18 L210.72,179.98 L211.72,179.79 L212.72,179.59 L213.73,179.40 L214.73,179.21 L215.73,179.02 L216.74,178.84 L217.74,178.65 L218.74,178.47 L219.75,178.30 L220.75,178.13 L221.75,177.96 L222.76,177.79 L223.76,177.62 L224.76,177.46 L225.77,177.30 L226.77,177.14 L227.78,176.98 L228.78,176.82 L229.78,176.66 L230.79,176.50 L231.79,176.34 L232.79,176.17 L233.80,176.00 L234.80,175.83 L235.80,175.66 L236.81,175.49 L237.81,175.31 L238.81,175.12 L239.82,174.93 L240.82,174.74 L241.82,174.54 L242.83,174.33 L243.83,174.12 L244.83,173.92 L245.84,173.71 L246.84,173.52 L247.84,173.35 L248.85,173.20 L249.85,173.07 L250.85,172.98 L251.86,172.92 L252.86,172.89 L253.86,172.90 L254.87,172.94 L255.87,173.00 L256.87,173.10 L257.88,173.22 L258.88,173.36 L259.88,173.53 L260.89,173.71 L261.89,173.92 L262.89,174.14 L263.90,174.38 L264.90,174.63 L265.90,174.89 L266.91,175.16 L267.91,175.44 L268.91,175.73 L269.92,176.02 L270.92,176.31 L271.92,176.60 L272.93,176.90 L273.93,177.19 L274.93,177.47 L275.94,177.75 L276.94,178.03 L277.94,178.30 L278.95,178.57 L279.95,178.83 L280.95,179.08 L281.96,179.33 L282.96,179.58 L283.96,179.83 L284.97,180.07 L285.97,180.31 L286.97,180.54 L287.98,180.78 L288.98,181.01 L289.98,181.25 L290.99,181.48 L291.99,181.71 L292.99,181.94 L294.00,182.17 L295.00,182.41 L296.00,182.65 L297.01,182.88 L298.01,183.13 L299.01,183.37 L300.02,183.63 L301.02,183.89 L302.02,184.15 L303.03,184.42 L304.03,184.71 L305.03,185.00 L306.04,185.30 L307.04,185.61 L308.04,185.93 L309.05,186.27 L310.05,186.61 L311.05,186.98 L312.06,187.35 L313.06,187.74 L314.06,188.15 L315.07,188.57 L316.07,189.00 L317.07,189.44 L318.08,189.90 L319.08,190.36 L320.08,190.83 L321.09,191.31 L322.09,191.79 L323.09,192.28 L324.10,192.77 L325.10,193.27 L326.10,193.76 L327.11,194.25 L328.11,194.74 L329.11,195.23 L330.12,195.72 L331.12,196.20 L332.12,196.67 L333.13,197.14 L334.13,197.60 L335.14,198.04 L336.14,198.48 L337.14,198.91 L338.15,199.33 L339.15,199.73 L340.15,200.13 L341.16,200.52 L342.16,200.89 L343.16,201.26 L344.17,201.62 L345.17,201.97 L346.17,202.31 L347.18,202.65 L348.18,202.97 L349.18,203.29 L350.19,203.60 L351.19,203.90 L352.19,204.20 L353.20,204.49 L354.20,204.77 L355.20,205.05 L356.21,205.32 L357.21,205.58 L358.21,205.84 L359.22,206.09 L360.22,206.34 L361.22,206.58 L362.23,206.81 L363.23,207.05 L364.23,207.27 L365.24,207.49 L366.24,207.71 L367.24,207.92 L368.25,208.12 L369.25,208.33 L370.25,208.52 L371.26,208.72 L372.26,208.91 L373.26,209.09 L374.27,209.27 L375.27,209.45 L376.27,209.62 L377.28,209.79 L378.28,209.96 L379.28,210.12 L380.29,210.28 L381.29,210.43 L382.29,210.59 L383.30,210.74 L384.30,210.88 L385.30,211.03 L386.31,211.17 L387.31,211.31 L388.31,211.45 L389.32,211.58 L390.32,211.72 L391.32,211.85 L392.33,211.98 L393.33,212.10 L394.33,212.23 L395.34,212.35 L396.34,212.47 L397.34,212.59 L398.35,212.71 L399.35,212.83 L400.35,212.94 L401.36,213.05 L402.36,213.16 L403.36,213.27 L404.37,213.38 L405.37,213.49 L406.37,213.59 L407.38,213.69 L408.38,213.80 L409.38,213.89 L410.39,213.99 L411.39,214.09 L412.39,214.18 L413.40,214.27 L414.40,214.37 L415.40,214.45 L416.41,214.54 L417.41,214.63 L418.41,214.71 L419.42,214.79 L420.42,214.88 L421.42,214.95 L422.43,215.03 L423.43,215.11 L424.43,215.18 L425.44,215.25 L426.44,215.33 L427.44,215.40 L428.45,215.46 L429.45,215.53 L430.45,215.59 L431.46,215.66 L432.46,215.72 L433.46,215.78 L434.47,215.84 L435.47,215.89 L436.48,215.95 L437.48,216.00 L438.48,216.05 L439.49,216.11 L440.49,216.15 L441.49,216.20 L442.50,216.25 L443.50,216.29 L444.50,216.33 L445.51,216.38 L446.51,216.42 L447.51,216.45 L448.52,216.49 L449.52,216.53 L450.52,216.56 L451.53,216.59 L452.53,216.63 L453.53,216.66 L454.54,216.68 L455.54,216.71 L456.54,216.74 L457.55,216.76 L458.55,216.79 L459.55,216.81 L460.56,216.83 L461.56,216.85 L462.56,216.87 L463.57,216.89 L464.57,216.91 L465.57,216.92 L466.58,216.94 L467.58,216.95 L468.58,216.97 L469.59,216.98 L470.59,216.99 L471.59,217.00 L472.60,217.01 L473.60,217.02 L474.60,217.03 L475.61,217.04 L476.61,217.04 L477.61,217.05 L478.62,217.05 L479.62,217.06 L480.62,217.06 L481.63,217.06 L482.63,217.07 L483.63,217.07 L484.64,217.07 L485.64,217.07 L486.64,217.07 L487.65,217.07 L488.65,217.07 L489.65,217.06 L490.66,217.06 L491.66,217.06 L492.66,217.06 L493.67,217.05 L494.67,217.05 L495.67,217.05 L496.68,217.04 L497.68,217.04 L498.68,217.03 L499.69,217.03 L500.69,217.02 L501.69,217.02 L502.70,217.01 L503.70,217.00 L504.70,217.00 L505.71,216.99 L506.71,216.98 L507.71,216.98 L508.72,216.97 L509.72,216.96 L510.72,216.96 L511.73,216.95 L512.73,216.94 L513.73,216.94 L514.74,216.93 L515.74,216.93 L516.74,216.92 L517.75,216.91 L518.75,216.91 L519.75,216.90 L520.76,216.90 L521.76,216.89 L522.76,216.89 L523.77,216.88 L524.77,216.88 L525.77,216.87 L526.78,216.87 L527.78,216.86 L528.78,216.86 L529.79,216.86 L530.79,216.85 L531.79,216.85 L532.80,216.85 L533.80,216.84 L534.80,216.84 L535.81,216.84 L536.81,216.84 L537.81,216.84 L538.82,216.83 L539.82,216.83 L540.83,216.83 L541.83,216.83 L542.83,216.83 L543.84,216.83 L544.84,216.83 L545.84,216.82 L546.85,216.82 L547.85,216.82 L548.85,216.82 L549.86,216.82 L550.86,216.82 L551.86,216.82 L552.87,216.82 L553.87,216.82 L554.87,216.82 L555.88,216.82 L556.88,216.83 L557.88,216.83 L558.89,216.83 L559.89,216.83 L560.89,216.83 L561.90,216.83 L562.90,216.83 L563.90,216.83 L564.91,216.83 L565.91,216.84 L566.91,216.84 L567.92,216.84 L568.92,216.84 L569.92,216.84 L570.93,216.84 L571.93,216.85 L572.93,216.85 L573.94,216.85 L574.94,216.85 L575.94,216.86 L576.95,216.86 L577.95,216.86 L578.95,216.86 L579.96,216.87 L580.96,216.87 L581.96,216.87 L582.97,216.87 L583.97,216.88 L584.97,216.88 L585.98,216.88 L586.98,216.88 L587.98,216.89 L588.99,216.89 L589.99,216.89 L590.99,216.89 L592.00,216.90 L593.00,216.90 L593.00,216.90 L71.25,216.90Z" fill="#E34A33"/>
<line x1="192" y1="216.9" x2="192" y2="183.75" stroke="#000" stroke-width="1.5"/>
<line x1="243.25" y1="216.9" x2="243.25" y2="174.24" stroke="#000" stroke-width="1.5"/>
<line x1="293.25" y1="216.9" x2="293.25" y2="182.00" stroke="#000" stroke-width="1.5"/>
<path d="M71.25,212.51 L72.25,212.52 L73.26,212.53 L74.26,212.54 L75.26,212.55 L76.27,212.56 L77.27,212.57 L78.27,212.58 L79.28,212.58 L80.28,212.59 L81.28,212.59 L82.29,212.59 L83.29,212.59 L84.29,212.59 L85.30,212.58 L86.30,212.57 L87.30,212.55 L88.31,212.54 L89.31,212.51 L90.31,212.49 L91.32,212.46 L92.32,212.43 L93.32,212.39 L94.33,212.34 L95.33,212.29 L96.33,212.24 L97.34,212.18 L98.34,212.11 L99.34,212.04 L100.35,211.96 L101.35,211.88 L102.35,211.79 L103.36,211.69 L104.36,211.58 L105.36,211.47 L106.37,211.35 L107.37,211.22 L108.37,211.08 L109.38,210.94 L110.38,210.79 L111.38,210.62 L112.39,210.45 L113.39,210.27 L114.39,210.09 L115.40,209.89 L116.40,209.68 L117.40,209.46 L118.41,209.24 L119.41,209.00 L120.41,208.75 L121.42,208.49 L122.42,208.22 L123.43,207.94 L124.43,207.65 L125.43,207.35 L126.44,207.04 L127.44,206.71 L128.44,206.38 L129.45,206.03 L130.45,205.68 L131.45,205.32 L132.46,204.94 L133.46,204.56 L134.46,204.18 L135.47,203.78 L136.47,203.38 L137.47,202.97 L138.48,202.55 L139.48,202.13 L140.48,201.71 L141.49,201.28 L142.49,200.84 L143.49,200.40 L144.50,199.96 L145.50,199.52 L146.50,199.07 L147.51,198.62 L148.51,198.17 L149.51,197.72 L150.52,197.27 L151.52,196.81 L152.52,196.36 L153.53,195.91 L154.53,195.46 L155.53,195.01 L156.54,194.57 L157.54,194.13 L158.54,193.69 L159.55,193.25 L160.55,192.82 L161.55,192.40 L162.56,191.98 L163.56,191.57 L164.56,191.17 L165.57,190.77 L166.57,190.38 L167.57,190.00 L168.58,189.63 L169.58,189.27 L170.58,188.92 L171.59,188.58 L172.59,188.26 L173.59,187.94 L174.60,187.64 L175.60,187.35 L176.60,187.07 L177.61,186.80 L178.61,186.55 L179.61,186.30 L180.62,186.07 L181.62,185.84 L182.62,185.62 L183.63,185.40 L184.63,185.19 L185.63,184.99 L186.64,184.79 L187.64,184.59 L188.64,184.40 L189.65,184.20 L190.65,184.01 L191.65,183.81 L192.66,183.62 L193.66,183.42 L194.66,183.22 L195.67,183.02 L196.67,182.82 L197.67,182.62 L198.68,182.42 L199.68,182.21 L200.68,182.01 L201.69,181.80 L202.69,181.60 L203.69,181.39 L204.70,181.19 L205.70,180.99 L206.70,180.78 L207.71,180.58 L208.71,180.38 L209.71,180.18 L210.72,179.98 L211.72,179.79 L212.72,179.59 L213.73,179.40 L214.73,179.21 L215.73,179.02 L216.74,178.84 L217.74,178.65 L218.74,178.47 L219.75,178.30 L220.75,178.13 L221.75,177.96 L222.76,177.79 L223.76,177.62 L224.76,177.46 L225.77,177.30 L226.77,177.14 L227.78,176.98 L228.78,176.82 L229.78,176.66 L230.79,176.50 L231.79,176.34 L232.79,176.17 L233.80,176.00 L234.80,175.83 L235.80,175.66 L236.81,175.49 L237.81,175.31 L238.81,175.12 L239.82,174.93 L240.82,174.74 L241.82,174.54 L242.83,174.33 L243.83,174.12 L244.83,173.92 L245.84,173.71 L246.84,173.52 L247.84,173.35 L248.85,173.20 L249.85,173.07 L250.85,172.98 L251.86,172.92 L252.86,172.89 L253.86,172.90 L254.87,172.94 L255.87,173.00 L256.87,173.10 L257.88,173.22 L258.88,173.36 L259.88,173.53 L260.89,173.71 L261.89,173.92 L262.89,174.14 L263.90,174.38 L264.90,174.63 L265.90,174.89 L266.91,175.16 L267.91,175.44 L268.91,175.73 L269.92,176.02 L270.92,176.31 L271.92,176.60 L272.93,176.90 L273.93,177.19 L274.93,177.47 L275.94,177.75 L276.94,178.03 L277.94,178.30 L278.95,178.57 L279.95,178.83 L280.95,179.08 L281.96,179.33 L282.96,179.58 L283.96,179.83 L284.97,180.07 L285.97,180.31 L286.97,180.54 L287.98,180.78 L288.98,181.01 L289.98,181.25 L290.99,181.48 L291.99,181.71 L292.99,181.94 L294.00,182.17 L295.00,182.41 L296.00,182.65 L297.01,182.88 L298.01,183.13 L299.01,183.37 L300.02,183.63 L301.02,183.89 L302.02,184.15 L303.03,184.42 L304.03,184.71 L305.03,185.00 L306.04,185.30 L307.04,185.61 L308.04,185.93 L309.05,186.27 L310.05,186.61 L311.05,186.98 L312.06,187.35 L313.06,187.74 L314.06,188.15 L315.07,188.57 L316.07,189.00 L317.07,189.44 L318.08,189.90 L319.08,190.36 L320.08,190.83 L321.09,191.31 L322.09,191.79 L323.09,192.28 L324.10,192.77 L325.10,193.27 L326.10,193.76 L327.11,194.25 L328.11,194.74 L329.11,195.23 L330.12,195.72 L331.12,196.20 L332.12,196.67 L333.13,197.14 L334.13,197.60 L335.14,198.04 L336.14,198.48 L337.14,198.91 L338.15,199.33 L339.15,199.73 L340.15,200.13 L341.16,200.52 L342.16,200.89 L343.16,201.26 L344.17,201.62 L345.17,201.97 L346.17,202.31 L347.18,202.65 L348.18,202.97 L349.18,203.29 L350.19,203.60 L351.19,203.90 L352.19,204.20 L353.20,204.49 L354.20,204.77 L355.20,205.05 L356.21,205.32 L357.21,205.58 L358.21,205.84 L359.22,206.09 L360.22,206.34 L361.22,206.58 L362.23,206.81 L363.23,207.05 L364.23,207.27 L365.24,207.49 L366.24,207.71 L367.24,207.92 L368.25,208.12 L369.25,208.33 L370.25,208.52 L371.26,208.72 L372.26,208.91 L373.26,209.09 L374.27,209.27 L375.27,209.45 L376.27,209.62 L377.28,209.79 L378.28,209.96 L379.28,210.12 L380.29,210.28 L381.29,210.43 L382.29,210.59 L383.30,210.74 L384.30,210.88 L385.30,211.03 L386.31,211.17 L387.31,211.31 L388.31,211.45 L389.32,211.58 L390.32,211.72 L391.32,211.85 L392.33,211.98 L393.33,212.10 L394.33,212.23 L395.34,212.35 L396.34,212.47 L397.34,212.59 L398.35,212.71 L399.35,212.83 L400.35,212.94 L401.36,213.05 L402.36,213.16 L403.36,213.27 L404.37,213.38 L405.37,213.49 L406.37,213.59 L407.38,213.69 L408.38,213.80 L409.38,213.89 L410.39,213.99 L411.39,214.09 L412.39,214.18 L413.40,214.27 L414.40,214.37 L415.40,214.45 L416.41,214.54 L417.41,214.63 L418.41,214.71 L419.42,214.79 L420.42,214.88 L421.42,214.95 L422.43,215.03 L423.43,215.11 L424.43,215.18 L425.44,215.25 L426.44,215.33 L427.44,215.40 L428.45,215.46 L429.45,215.53 L430.45,215.59 L431.46,215.66 L432.46,215.72 L433.46,215.78 L434.47,215.84 L435.47,215.89 L436.48,215.95 L437.48,216.00 L438.48,216.05 L439.49,216.11 L440.49,216.15 L441.49,216.20 L442.50,216.25 L443.50,216.29 L444.50,216.33 L445.51,216.38 L446.51,216.42 L447.51,216.45 L448.52,216.49 L449.52,216.53 L450.52,216.56 L451.53,216.59 L452.53,216.63 L453.53,216.66 L454.54,216.68 L455.54,216.71 L456.54,216.74 L457.55,216.76 L458.55,216.79 L459.55,216.81 L460.56,216.83 L461.56,216.85 L462.56,216.87 L463.57,216.89 L464.57,216.91 L465.57,216.92 L466.58,216.94 L467.58,216.95 L468.58,216.97 L469.59,216.98 L470.59,216.99 L471.59,217.00 L472.60,217.01 L473.60,217.02 L474.60,217.03 L475.61,217.04 L476.61,217.04 L477.61,217.05 L478.62,217.05 L479.62,217.06 L480.62,217.06 L481.63,217.06 L482.63,217.07 L483.63,217.07 L484.64,217.07 L485.64,217.07 L486.64,217.07 L487.65,217.07 L488.65,217.07 L489.65,217.06 L490.66,217.06 L491.66,217.06 L492.66,217.06 L493.67,217.05 L494.67,217.05 L495.67,217.05 L496.68,217.04 L497.68,217.04 L498.68,217.03 L499.69,217.03 L500.69,217.02 L501.69,217.02 L502.70,217.01 L503.70,217.00 L504.70,217.00 L505.71,216.99 L506.71,216.98 L507.71,216.98 L508.72,216.97 L509.72,216.96 L510.72,216.96 L511.73,216.95 L512.73,216.94 L513.73,216.94 L514.74,216.93 L515.74,216.93 L516.74,216.92 L517.75,216.91 L518.75,216.91 L519.75,216.90 L520.76,216.90 L521.76,216.89 L522.76,216.89 L523.77,216.88 L524.77,216.88 L525.77,216.87 L526.78,216.87 L527.78,216.86 L528.78,216.86 L529.79,216.86 L530.79,216.85 L531.79,216.85 L532.80,216.85 L533.80,216.84 L534.80,216.84 L535.81,216.84 L536.81,216.84 L537.81,216.84 L538.82,216.83 L539.82,216.83 L540.83,216.83 L541.83,216.83 L542.83,216.83 L543.84,216.83 L544.84,216.83 L545.84,216.82 L546.85,216.82 L547.85,216.82 L548.85,216.82 L549.86,216.82 L550.86,216.82 L551.86,216.82 L552.87,216.82 L553.87,216.82 L554.87,216.82 L555.88,216.82 L556.88,216.83 L557.88,216.83 L558.89,216.83 L559.89,216.83 L560.89,216.83 L561.90,216.83 L562.90,216.83 L563.90,216.83 L564.91,216.83 L565.91,216.84 L566.91,216.84 L567.92,216.84 L568.92,216.84 L569.92,216.84 L570.93,216.84 L571.93,216.85 L572.93,216.85 L573.94,216.85 L574.94,216.85 L575.94,216.86 L576.95,216.86 L577.95,216.86 L578.95,216.86 L579.96,216.87 L580.96,216.87 L581.96,216.87 L582.97,216.87 L583.97,216.88 L584.97,216.88 L585.98,216.88 L586.98,216.88 L587.98,216.89 L588.99,216.89 L589.99,216.89 L590.99,216.89 L592.00,216.90 L593.00,216.90" fill="none" stroke="#000" stroke-width="1.5" stroke-linejoin="round"/>
<path d="M71.25,268.15 L72.25,268.07 L73.26,267.96 L74.26,267.84 L75.26,267.70 L76.27,267.56 L77.27,267.43 L78.27,267.29 L79.28,267.15 L80.28,267.00 L81.28,266.86 L82.29,266.72 L83.29,266.57 L84.29,266.42 L85.30,266.27 L86.30,266.12 L87.30,265.96 L88.31,265.81 L89.31,265.65 L90.31,265.48 L91.32,265.32 L92.32,265.15 L93.32,264.98 L94.33,264.80 L95.33,264.62 L96.33,264.44 L97.34,264.26 L98.34,264.07 L99.34,263.87 L100.35,263.67 L101.35,263.47 L102.35,263.27 L103.36,263.06 L104.36,262.85 L105.36,262.63 L106.37,262.42 L107.37,262.20 L108.37,261.99 L109.38,261.77 L110.38,261.55 L111.38,261.34 L112.39,261.12 L113.39,260.91 L114.39,260.70 L115.40,260.49 L116.40,260.29 L117.40,260.09 L118.41,259.90 L119.41,259.71 L120.41,259.52 L121.42,259.34 L122.42,259.17 L123.43,259.01 L124.43,258.85 L125.43,258.70 L126.44,258.55 L127.44,258.42 L128.44,258.28 L129.45,258.15 L130.45,258.03 L131.45,257.90 L132.46,257.78 L133.46,257.65 L134.46,257.52 L135.47,257.39 L136.47,257.25 L137.47,257.10 L138.48,256.95 L139.48,256.79 L140.48,256.61 L141.49,256.43 L142.49,256.23 L143.49,256.02 L144.50,255.79 L145.50,255.55 L146.50,255.29 L147.51,255.02 L148.51,254.73 L149.51,254.43 L150.52,254.11 L151.52,253.77 L152.52,253.42 L153.53,253.05 L154.53,252.66 L155.53,252.26 L156.54,251.84 L157.54,251.41 L158.54,250.96 L159.55,250.51 L160.55,250.05 L161.55,249.59 L162.56,249.12 L163.56,248.65 L164.56,248.19 L165.57,247.73 L166.57,247.27 L167.57,246.83 L168.58,246.39 L169.58,245.98 L170.58,245.57 L171.59,245.19 L172.59,244.82 L173.59,244.47 L174.60,244.14 L175.60,243.84 L176.60,243.55 L177.61,243.28 L178.61,243.02 L179.61,242.78 L180.62,242.56 L181.62,242.35 L182.62,242.15 L183.63,241.97 L184.63,241.80 L185.63,241.64 L186.64,241.48 L187.64,241.34 L188.64,241.21 L189.65,241.08 L190.65,240.96 L191.65,240.85 L192.66,240.74 L193.66,240.63 L194.66,240.53 L195.67,240.43 L196.67,240.33 L197.67,240.23 L198.68,240.13 L199.68,240.03 L200.68,239.93 L201.69,239.82 L202.69,239.72 L203.69,239.61 L204.70,239.50 L205.70,239.39 L206.70,239.28 L207.71,239.16 L208.71,239.05 L209.71,238.93 L210.72,238.82 L211.72,238.70 L212.72,238.59 L213.73,238.47 L214.73,238.36 L215.73,238.24 L216.74,238.13 L217.74,238.02 L218.74,237.91 L219.75,237.80 L220.75,237.69 L221.75,237.58 L222.76,237.48 L223.76,237.38 L224.76,237.28 L225.77,237.19 L226.77,237.10 L227.78,237.02 L228.78,236.95 L229.78,236.89 L230.79,236.84 L231.79,236.79 L232.79,236.76 L233.80,236.74 L234.80,236.74 L235.80,236.74 L236.81,236.76 L237.81,236.79 L238.81,236.83 L239.82,236.89 L240.82,236.96 L241.82,237.04 L242.83,237.13 L243.83,237.23 L244.83,237.35 L245.84,237.47 L246.84,237.61 L247.84,237.76 L248.85,237.93 L249.85,238.10 L250.85,238.29 L251.86,238.48 L252.86,238.69 L253.86,238.91 L254.87,239.14 L255.87,239.39 L256.87,239.64 L257.88,239.90 L258.88,240.18 L259.88,240.47 L260.89,240.77 L261.89,241.07 L262.89,241.39 L263.90,241.72 L264.90,242.06 L265.90,242.40 L266.91,242.74 L267.91,243.10 L268.91,243.45 L269.92,243.80 L270.92,244.15 L271.92,244.50 L272.93,244.85 L273.93,245.18 L274.93,245.51 L275.94,245.83 L276.94,246.14 L277.94,246.44 L278.95,246.72 L279.95,246.98 L280.95,247.23 L281.96,247.46 L282.96,247.67 L283.96,247.86 L284.97,248.03 L285.97,248.19 L286.97,248.32 L287.98,248.45 L288.98,248.56 L289.98,248.65 L290.99,248.74 L291.99,248.81 L292.99,248.87 L294.00,248.93 L295.00,248.98 L296.00,249.03 L297.01,249.07 L298.01,249.10 L299.01,249.14 L300.02,249.17 L301.02,249.21 L302.02,249.24 L303.03,249.28 L304.03,249.33 L305.03,249.38 L306.04,249.43 L307.04,249.49 L308.04,249.57 L309.05,249.65 L310.05,249.74 L311.05,249.85 L312.06,249.97 L313.06,250.10 L314.06,250.25 L315.07,250.41 L316.07,250.58 L317.07,250.77 L318.08,250.97 L319.08,251.18 L320.08,251.41 L321.09,251.64 L322.09,251.88 L323.09,252.13 L324.10,252.39 L325.10,252.65 L326.10,252.92 L327.11,253.20 L328.11,253.48 L329.11,253.77 L330.12,254.06 L331.12,254.35 L332.12,254.65 L333.13,254.95 L334.13,255.24 L335.14,255.54 L336.14,255.84 L337.14,256.13 L338.15,256.43 L339.15,256.72 L340.15,257.02 L341.16,257.31 L342.16,257.60 L343.16,257.89 L344.17,258.18 L345.17,258.47 L346.17,258.76 L347.18,259.05 L348.18,259.33 L349.18,259.62 L350.19,259.90 L351.19,260.19 L352.19,260.47 L353.20,260.75 L354.20,261.03 L355.20,261.30 L356.21,261.58 L357.21,261.86 L358.21,262.13 L359.22,262.40 L360.22,262.67 L361.22,262.94 L362.23,263.21 L363.23,263.47 L364.23,263.73 L365.24,264.00 L366.24,264.25 L367.24,264.51 L368.25,264.76 L369.25,265.02 L370.25,265.27 L371.26,265.51 L372.26,265.76 L373.26,266.00 L374.27,266.24 L375.27,266.47 L376.27,266.71 L377.28,266.94 L378.28,267.16 L379.28,267.39 L380.29,267.61 L381.29,267.82 L382.29,268.04 L383.30,268.25 L384.30,268.45 L385.30,268.66 L386.31,268.85 L387.31,269.05 L388.31,269.24 L389.32,269.43 L390.32,269.61 L391.32,269.79 L392.33,269.96 L393.33,270.13 L394.33,270.30 L395.34,270.46 L396.34,270.62 L397.34,270.77 L398.35,270.92 L399.35,271.07 L400.35,271.21 L401.36,271.34 L402.36,271.48 L403.36,271.61 L404.37,271.73 L405.37,271.86 L406.37,271.98 L407.38,272.09 L408.38,272.21 L409.38,272.31 L410.39,272.42 L411.39,272.52 L412.39,272.62 L413.40,272.72 L414.40,272.81 L415.40,272.90 L416.41,272.99 L417.41,273.08 L418.41,273.16 L419.42,273.24 L420.42,273.31 L421.42,273.39 L422.43,273.46 L423.43,273.53 L424.43,273.60 L425.44,273.66 L426.44,273.73 L427.44,273.79 L428.45,273.85 L429.45,273.90 L430.45,273.96 L431.46,274.01 L432.46,274.06 L433.46,274.11 L434.47,274.16 L435.47,274.21 L436.48,274.25 L437.48,274.30 L438.48,274.34 L439.49,274.38 L440.49,274.42 L441.49,274.46 L442.50,274.50 L443.50,274.53 L444.50,274.57 L445.51,274.60 L446.51,274.64 L447.51,274.67 L448.52,274.70 L449.52,274.73 L450.52,274.76 L451.53,274.79 L452.53,274.82 L453.53,274.85 L454.54,274.87 L455.54,274.90 L456.54,274.92 L457.55,274.95 L458.55,274.97 L459.55,274.99 L460.56,275.01 L461.56,275.04 L462.56,275.06 L463.57,275.07 L464.57,275.09 L465.57,275.11 L466.58,275.13 L467.58,275.14 L468.58,275.16 L469.59,275.18 L470.59,275.19 L471.59,275.20 L472.60,275.22 L473.60,275.23 L474.60,275.24 L475.61,275.25 L476.61,275.26 L477.61,275.27 L478.62,275.28 L479.62,275.29 L480.62,275.30 L481.63,275.31 L482.63,275.32 L483.63,275.32 L484.64,275.33 L485.64,275.34 L486.64,275.34 L487.65,275.35 L488.65,275.36 L489.65,275.36 L490.66,275.36 L491.66,275.37 L492.66,275.37 L493.67,275.38 L494.67,275.38 L495.67,275.38 L496.68,275.39 L497.68,275.39 L498.68,275.39 L499.69,275.39 L500.69,275.39 L501.69,275.39 L502.70,275.40 L503.70,275.40 L504.70,275.40 L505.71,275.40 L506.71,275.40 L507.71,275.40 L508.72,275.40 L509.72,275.40 L510.72,275.40 L511.73,275.40 L512.73,275.40 L513.73,275.40 L514.74,275.40 L515.74,275.40 L516.74,275.40 L517.75,275.40 L518.75,275.40 L519.75,275.40 L520.76,275.40 L521.76,275.40 L522.76,275.40 L523.77,275.40 L524.77,275.40 L525.77,275.40 L526.78,275.40 L527.78,275.40 L528.78,275.40 L529.79,275.40 L530.79,275.40 L531.79,275.40 L532.80,275.40 L533.80,275.41 L534.80,275.41 L535.81,275.41 L536.81,275.41 L537.81,275.41 L538.82,275.41 L539.82,275.41 L540.83,275.41 L541.83,275.41 L542.83,275.41 L543.84,275.41 L544.84,275.42 L545.84,275.42 L546.85,275.42 L547.85,275.42 L548.85,275.42 L549.86,275.42 L550.86,275.42 L551.86,275.42 L552.87,275.43 L553.87,275.43 L554.87,275.43 L555.88,275.43 L556.88,275.43 L557.88,275.43 L558.89,275.44 L559.89,275.44 L560.89,275.44 L561.90,275.44 L562.90,275.44 L563.90,275.44 L564.91,275.45 L565.91,275.45 L566.91,275.45 L567.92,275.45 L568.92,275.45 L569.92,275.45 L570.93,275.46 L571.93,275.46 L572.93,275.46 L573.94,275.46 L574.94,275.46 L575.94,275.47 L576.95,275.47 L577.95,275.47 L578.95,275.47 L579.96,275.47 L580.96,275.48 L581.96,275.48 L582.97,275.48 L583.97,275.48 L584.97,275.48 L585.98,275.49 L586.98,275.49 L587.98,275.49 L588.99,275.49 L589.99,275.49 L590.99,275.50 L592.00,275.50 L593.00,275.50 L593.00,275.50 L71.25,275.50Z" fill="#B30000"/>
<line x1="172" y1="275.5" x2="172" y2="245.04" stroke="#000" stroke-width="1.5"/>
<line x1="222.5" y1="275.5" x2="222.5" y2="237.50" stroke="#000" stroke-width="1.5"/>
<line x1="282" y1="275.5" x2="282" y2="247.47" stroke="#000" stroke-width="1.5"/>
<path d="M71.25,268.15 L72.25,268.07 L73.26,267.96 L74.26,267.84 L75.26,267.70 L76.27,267.56 L77.27,267.43 L78.27,267.29 L79.28,267.15 L80.28,267.00 L81.28,266.86 L82.29,266.72 L83.29,266.57 L84.29,266.42 L85.30,266.27 L86.30,266.12 L87.30,265.96 L88.31,265.81 L89.31,265.65 L90.31,265.48 L91.32,265.32 L92.32,265.15 L93.32,264.98 L94.33,264.80 L95.33,264.62 L96.33,264.44 L97.34,264.26 L98.34,264.07 L99.34,263.87 L100.35,263.67 L101.35,263.47 L102.35,263.27 L103.36,263.06 L104.36,262.85 L105.36,262.63 L106.37,262.42 L107.37,262.20 L108.37,261.99 L109.38,261.77 L110.38,261.55 L111.38,261.34 L112.39,261.12 L113.39,260.91 L114.39,260.70 L115.40,260.49 L116.40,260.29 L117.40,260.09 L118.41,259.90 L119.41,259.71 L120.41,259.52 L121.42,259.34 L122.42,259.17 L123.43,259.01 L124.43,258.85 L125.43,258.70 L126.44,258.55 L127.44,258.42 L128.44,258.28 L129.45,258.15 L130.45,258.03 L131.45,257.90 L132.46,257.78 L133.46,257.65 L134.46,257.52 L135.47,257.39 L136.47,257.25 L137.47,257.10 L138.48,256.95 L139.48,256.79 L140.48,256.61 L141.49,256.43 L142.49,256.23 L143.49,256.02 L144.50,255.79 L145.50,255.55 L146.50,255.29 L147.51,255.02 L148.51,254.73 L149.51,254.43 L150.52,254.11 L151.52,253.77 L152.52,253.42 L153.53,253.05 L154.53,252.66 L155.53,252.26 L156.54,251.84 L157.54,251.41 L158.54,250.96 L159.55,250.51 L160.55,250.05 L161.55,249.59 L162.56,249.12 L163.56,248.65 L164.56,248.19 L165.57,247.73 L166.57,247.27 L167.57,246.83 L168.58,246.39 L169.58,245.98 L170.58,245.57 L171.59,245.19 L172.59,244.82 L173.59,244.47 L174.60,244.14 L175.60,243.84 L176.60,243.55 L177.61,243.28 L178.61,243.02 L179.61,242.78 L180.62,242.56 L181.62,242.35 L182.62,242.15 L183.63,241.97 L184.63,241.80 L185.63,241.64 L186.64,241.48 L187.64,241.34 L188.64,241.21 L189.65,241.08 L190.65,240.96 L191.65,240.85 L192.66,240.74 L193.66,240.63 L194.66,240.53 L195.67,240.43 L196.67,240.33 L197.67,240.23 L198.68,240.13 L199.68,240.03 L200.68,239.93 L201.69,239.82 L202.69,239.72 L203.69,239.61 L204.70,239.50 L205.70,239.39 L206.70,239.28 L207.71,239.16 L208.71,239.05 L209.71,238.93 L210.72,238.82 L211.72,238.70 L212.72,238.59 L213.73,238.47 L214.73,238.36 L215.73,238.24 L216.74,238.13 L217.74,238.02 L218.74,237.91 L219.75,237.80 L220.75,237.69 L221.75,237.58 L222.76,237.48 L223.76,237.38 L224.76,237.28 L225.77,237.19 L226.77,237.10 L227.78,237.02 L228.78,236.95 L229.78,236.89 L230.79,236.84 L231.79,236.79 L232.79,236.76 L233.80,236.74 L234.80,236.74 L235.80,236.74 L236.81,236.76 L237.81,236.79 L238.81,236.83 L239.82,236.89 L240.82,236.96 L241.82,237.04 L242.83,237.13 L243.83,237.23 L244.83,237.35 L245.84,237.47 L246.84,237.61 L247.84,237.76 L248.85,237.93 L249.85,238.10 L250.85,238.29 L251.86,238.48 L252.86,238.69 L253.86,238.91 L254.87,239.14 L255.87,239.39 L256.87,239.64 L257.88,239.90 L258.88,240.18 L259.88,240.47 L260.89,240.77 L261.89,241.07 L262.89,241.39 L263.90,241.72 L264.90,242.06 L265.90,242.40 L266.91,242.74 L267.91,243.10 L268.91,243.45 L269.92,243.80 L270.92,244.15 L271.92,244.50 L272.93,244.85 L273.93,245.18 L274.93,245.51 L275.94,245.83 L276.94,246.14 L277.94,246.44 L278.95,246.72 L279.95,246.98 L280.95,247.23 L281.96,247.46 L282.96,247.67 L283.96,247.86 L284.97,248.03 L285.97,248.19 L286.97,248.32 L287.98,248.45 L288.98,248.56 L289.98,248.65 L290.99,248.74 L291.99,248.81 L292.99,248.87 L294.00,248.93 L295.00,248.98 L296.00,249.03 L297.01,249.07 L298.01,249.10 L299.01,249.14 L300.02,249.17 L301.02,249.21 L302.02,249.24 L303.03,249.28 L304.03,249.33 L305.03,249.38 L306.04,249.43 L307.04,249.49 L308.04,249.57 L309.05,249.65 L310.05,249.74 L311.05,249.85 L312.06,249.97 L313.06,250.10 L314.06,250.25 L315.07,250.41 L316.07,250.58 L317.07,250.77 L318.08,250.97 L319.08,251.18 L320.08,251.41 L321.09,251.64 L322.09,251.88 L323.09,252.13 L324.10,252.39 L325.10,252.65 L326.10,252.92 L327.11,253.20 L328.11,253.48 L329.11,253.77 L330.12,254.06 L331.12,254.35 L332.12,254.65 L333.13,254.95 L334.13,255.24 L335.14,255.54 L336.14,255.84 L337.14,256.13 L338.15,256.43 L339.15,256.72 L340.15,257.02 L341.16,257.31 L342.16,257.60 L343.16,257.89 L344.17,258.18 L345.17,258.47 L346.17,258.76 L347.18,259.05 L348.18,259.33 L349.18,259.62 L350.19,259.90 L351.19,260.19 L352.19,260.47 L353.20,260.75 L354.20,261.03 L355.20,261.30 L356.21,261.58 L357.21,261.86 L358.21,262.13 L359.22,262.40 L360.22,262.67 L361.22,262.94 L362.23,263.21 L363.23,263.47 L364.23,263.73 L365.24,264.00 L366.24,264.25 L367.24,264.51 L368.25,264.76 L369.25,265.02 L370.25,265.27 L371.26,265.51 L372.26,265.76 L373.26,266.00 L374.27,266.24 L375.27,266.47 L376.27,266.71 L377.28,266.94 L378.28,267.16 L379.28,267.39 L380.29,267.61 L381.29,267.82 L382.29,268.04 L383.30,268.25 L384.30,268.45 L385.30,268.66 L386.31,268.85 L387.31,269.05 L388.31,269.24 L389.32,269.43 L390.32,269.61 L391.32,269.79 L392.33,269.96 L393.33,270.13 L394.33,270.30 L395.34,270.46 L396.34,270.62 L397.34,270.77 L398.35,270.92 L399.35,271.07 L400.35,271.21 L401.36,271.34 L402.36,271.48 L403.36,271.61 L404.37,271.73 L405.37,271.86 L406.37,271.98 L407.38,272.09 L408.38,272.21 L409.38,272.31 L410.39,272.42 L411.39,272.52 L412.39,272.62 L413.40,272.72 L414.40,272.81 L415.40,272.90 L416.41,272.99 L417.41,273.08 L418.41,273.16 L419.42,273.24 L420.42,273.31 L421.42,273.39 L422.43,273.46 L423.43,273.53 L424.43,273.60 L425.44,273.66 L426.44,273.73 L427.44,273.79 L428.45,273.85 L429.45,273.90 L430.45,273.96 L431.46,274.01 L432.46,274.06 L433.46,274.11 L434.47,274.16 L435.47,274.21 L436.48,274.25 L437.48,274.30 L438.48,274.34 L439.49,274.38 L440.49,274.42 L441.49,274.46 L442.50,274.50 L443.50,274.53 L444.50,274.57 L445.51,274.60 L446.51,274.64 L447.51,274.67 L448.52,274.70 L449.52,274.73 L450.52,274.76 L451.53,274.79 L452.53,274.82 L453.53,274.85 L454.54,274.87 L455.54,274.90 L456.54,274.92 L457.55,274.95 L458.55,274.97 L459.55,274.99 L460.56,275.01 L461.56,275.04 L462.56,275.06 L463.57,275.07 L464.57,275.09 L465.57,275.11 L466.58,275.13 L467.58,275.14 L468.58,275.16 L469.59,275.18 L470.59,275.19 L471.59,275.20 L472.60,275.22 L473.60,275.23 L474.60,275.24 L475.61,275.25 L476.61,275.26 L477.61,275.27 L478.62,275.28 L479.62,275.29 L480.62,275.30 L481.63,275.31 L482.63,275.32 L483.63,275.32 L484.64,275.33 L485.64,275.34 L486.64,275.34 L487.65,275.35 L488.65,275.36 L489.65,275.36 L490.66,275.36 L491.66,275.37 L492.66,275.37 L493.67,275.38 L494.67,275.38 L495.67,275.38 L496.68,275.39 L497.68,275.39 L498.68,275.39 L499.69,275.39 L500.69,275.39 L501.69,275.39 L502.70,275.40 L503.70,275.40 L504.70,275.40 L505.71,275.40 L506.71,275.40 L507.71,275.40 L508.72,275.40 L509.72,275.40 L510.72,275.40 L511.73,275.40 L512.73,275.40 L513.73,275.40 L514.74,275.40 L515.74,275.40 L516.74,275.40 L517.75,275.40 L518.75,275.40 L519.75,275.40 L520.76,275.40 L521.76,275.40 L522.76,275.40 L523.77,275.40 L524.77,275.40 L525.77,275.40 L526.78,275.40 L527.78,275.40 L528.78,275.40 L529.79,275.40 L530.79,275.40 L531.79,275.40 L532.80,275.40 L533.80,275.41 L534.80,275.41 L535.81,275.41 L536.81,275.41 L537.81,275.41 L538.82,275.41 L539.82,275.41 L540.83,275.41 L541.83,275.41 L542.83,275.41 L543.84,275.41 L544.84,275.42 L545.84,275.42 L546.85,275.42 L547.85,275.42 L548.85,275.42 L549.86,275.42 L550.86,275.42 L551.86,275.42 L552.87,275.43 L553.87,275.43 L554.87,275.43 L555.88,275.43 L556.88,275.43 L557.88,275.43 L558.89,275.44 L559.89,275.44 L560.89,275.44 L561.90,275.44 L562.90,275.44 L563.90,275.44 L564.91,275.45 L565.91,275.45 L566.91,275.45 L567.92,275.45 L568.92,275.45 L569.92,275.45 L570.93,275.46 L571.93,275.46 L572.93,275.46 L573.94,275.46 L574.94,275.46 L575.94,275.47 L576.95,275.47 L577.95,275.47 L578.95,275.47 L579.96,275.47 L580.96,275.48 L581.96,275.48 L582.97,275.48 L583.97,275.48 L584.97,275.48 L585.98,275.49 L586.98,275.49 L587.98,275.49 L588.99,275.49 L589.99,275.49 L590.99,275.50 L592.00,275.50 L593.00,275.50" fill="none" stroke="#000" stroke-width="1.5" stroke-linejoin="round"/>
</g>
<text x="518.20" y="85.75" font-size="17.6" text-anchor="middle" font-weight="normal" fill="#000" >4.8 h/d [3.2–6.2]</text>
<text x="518.20" y="144.35" font-size="17.6" text-anchor="middle" font-weight="normal" fill="#000" >4.8 h/d [3.4–6]</text>
<text x="518.20" y="203.15" font-size="17.6" text-anchor="middle" font-weight="normal" fill="#000" >4 h/d [2.8–5.1]</text>
<text x="518.20" y="261.75" font-size="17.6" text-anchor="middle" font-weight="normal" fill="#000" >3.5 h/d [2.3–4.8]</text>
<rect x="50" y="38.8" width="564.5" height="25.700000000000003" fill="#D9D9D9" stroke="#333333" stroke-width="1.1"/>
<text x="332.25" y="56.40" font-size="13.5" text-anchor="middle" font-weight="normal" fill="#1A1A1A" >Light Physical Activity</text>
<rect x="50" y="64.5" width="564.5" height="245.5" fill="none" stroke="#333333" stroke-width="1.1"/>
<rect x="632.5" y="64.5" width="564.5" height="245.5" fill="#fff"/>
<line x1="743.925" y1="64.5" x2="743.925" y2="310.0" stroke="#EBEBEB" stroke-width="0.65"/>
<line x1="914.7750000000001" y1="64.5" x2="914.7750000000001" y2="310.0" stroke="#EBEBEB" stroke-width="0.65"/>
<line x1="1085.625" y1="64.5" x2="1085.625" y2="310.0" stroke="#EBEBEB" stroke-width="0.65"/>
<line x1="658.5" y1="64.5" x2="658.5" y2="310.0" stroke="#EBEBEB" stroke-width="1.25"/>
<line x1="829.35" y1="64.5" x2="829.35" y2="310.0" stroke="#EBEBEB" stroke-width="1.25"/>
<line x1="1000.2" y1="64.5" x2="1000.2" y2="310.0" stroke="#EBEBEB" stroke-width="1.25"/>
<line x1="1171.0500000000002" y1="64.5" x2="1171.0500000000002" y2="310.0" stroke="#EBEBEB" stroke-width="1.25"/>
<line x1="632.5" y1="99.5" x2="1197" y2="99.5" stroke="#EBEBEB" stroke-width="1.25"/>
<line x1="632.5" y1="158.1" x2="1197" y2="158.1" stroke="#EBEBEB" stroke-width="1.25"/>
<line x1="632.5" y1="216.9" x2="1197" y2="216.9" stroke="#EBEBEB" stroke-width="1.25"/>
<line x1="632.5" y1="275.5" x2="1197" y2="275.5" stroke="#EBEBEB" stroke-width="1.25"/>
<clipPath id="clipA632"><rect x="632.5" y="64.5" width="564.5" height="245.5"/></clipPath>
<g clip-path="url(#clipA632)">
<path d="M620.00,98.19 L621.00,98.18 L622.00,98.17 L623.01,98.15 L624.01,98.14 L625.01,98.12 L626.01,98.11 L627.01,98.09 L628.01,98.08 L629.02,98.06 L630.02,98.04 L631.02,98.03 L632.02,98.01 L633.02,97.99 L634.02,97.97 L635.03,97.95 L636.03,97.93 L637.03,97.92 L638.03,97.90 L639.03,97.88 L640.03,97.86 L641.04,97.84 L642.04,97.81 L643.04,97.79 L644.04,97.77 L645.04,97.75 L646.04,97.73 L647.05,97.70 L648.05,97.68 L649.05,97.66 L650.05,97.64 L651.05,97.61 L652.05,97.59 L653.06,97.56 L654.06,97.54 L655.06,97.51 L656.06,97.49 L657.06,97.46 L658.06,97.44 L659.07,97.41 L660.07,97.39 L661.07,97.36 L662.07,97.34 L663.07,97.31 L664.07,97.28 L665.08,97.26 L666.08,97.23 L667.08,97.20 L668.08,97.17 L669.08,97.15 L670.08,97.12 L671.09,97.09 L672.09,97.06 L673.09,97.04 L674.09,97.01 L675.09,96.98 L676.10,96.95 L677.10,96.92 L678.10,96.90 L679.10,96.87 L680.10,96.84 L681.10,96.81 L682.11,96.78 L683.11,96.75 L684.11,96.72 L685.11,96.69 L686.11,96.67 L687.11,96.64 L688.12,96.61 L689.12,96.58 L690.12,96.55 L691.12,96.52 L692.12,96.49 L693.12,96.46 L694.13,96.43 L695.13,96.41 L696.13,96.38 L697.13,96.35 L698.13,96.32 L699.13,96.29 L700.14,96.26 L701.14,96.23 L702.14,96.21 L703.14,96.18 L704.14,96.15 L705.14,96.12 L706.15,96.09 L707.15,96.06 L708.15,96.04 L709.15,96.01 L710.15,95.98 L711.15,95.95 L712.16,95.93 L713.16,95.90 L714.16,95.87 L715.16,95.85 L716.16,95.82 L717.16,95.79 L718.17,95.77 L719.17,95.74 L720.17,95.72 L721.17,95.69 L722.17,95.66 L723.17,95.64 L724.18,95.61 L725.18,95.59 L726.18,95.57 L727.18,95.54 L728.18,95.52 L729.19,95.49 L730.19,95.47 L731.19,95.45 L732.19,95.43 L733.19,95.40 L734.19,95.38 L735.20,95.36 L736.20,95.34 L737.20,95.32 L738.20,95.30 L739.20,95.27 L740.20,95.25 L741.21,95.23 L742.21,95.22 L743.21,95.20 L744.21,95.18 L745.21,95.16 L746.21,95.14 L747.22,95.12 L748.22,95.11 L749.22,95.09 L750.22,95.07 L751.22,95.06 L752.22,95.04 L753.23,95.03 L754.23,95.01 L755.23,95.00 L756.23,94.98 L757.23,94.97 L758.23,94.96 L759.24,94.94 L760.24,94.93 L761.24,94.92 L762.24,94.91 L763.24,94.90 L764.24,94.89 L765.25,94.88 L766.25,94.86 L767.25,94.85 L768.25,94.84 L769.25,94.83 L770.25,94.82 L771.26,94.81 L772.26,94.80 L773.26,94.79 L774.26,94.78 L775.26,94.77 L776.26,94.76 L777.27,94.75 L778.27,94.74 L779.27,94.73 L780.27,94.72 L781.27,94.71 L782.28,94.70 L783.28,94.69 L784.28,94.68 L785.28,94.67 L786.28,94.66 L787.28,94.64 L788.29,94.63 L789.29,94.62 L790.29,94.61 L791.29,94.59 L792.29,94.58 L793.29,94.56 L794.30,94.55 L795.30,94.53 L796.30,94.52 L797.30,94.50 L798.30,94.48 L799.30,94.47 L800.31,94.45 L801.31,94.43 L802.31,94.41 L803.31,94.39 L804.31,94.37 L805.31,94.35 L806.32,94.32 L807.32,94.30 L808.32,94.28 L809.32,94.25 L810.32,94.22 L811.32,94.20 L812.33,94.17 L813.33,94.14 L814.33,94.11 L815.33,94.08 L816.33,94.05 L817.33,94.02 L818.34,93.98 L819.34,93.95 L820.34,93.91 L821.34,93.87 L822.34,93.83 L823.34,93.80 L824.35,93.75 L825.35,93.71 L826.35,93.67 L827.35,93.62 L828.35,93.58 L829.35,93.53 L830.36,93.48 L831.36,93.44 L832.36,93.39 L833.36,93.34 L834.36,93.28 L835.37,93.23 L836.37,93.18 L837.37,93.12 L838.37,93.07 L839.37,93.01 L840.37,92.96 L841.38,92.90 L842.38,92.84 L843.38,92.79 L844.38,92.73 L845.38,92.67 L846.38,92.61 L847.39,92.55 L848.39,92.49 L849.39,92.43 L850.39,92.37 L851.39,92.31 L852.39,92.25 L853.40,92.19 L854.40,92.12 L855.40,92.06 L856.40,92.00 L857.40,91.94 L858.40,91.88 L859.41,91.82 L860.41,91.76 L861.41,91.69 L862.41,91.63 L863.41,91.57 L864.41,91.51 L865.42,91.45 L866.42,91.39 L867.42,91.33 L868.42,91.27 L869.42,91.22 L870.42,91.16 L871.43,91.10 L872.43,91.04 L873.43,90.99 L874.43,90.93 L875.43,90.88 L876.43,90.82 L877.44,90.77 L878.44,90.72 L879.44,90.67 L880.44,90.61 L881.44,90.57 L882.44,90.52 L883.45,90.47 L884.45,90.42 L885.45,90.38 L886.45,90.33 L887.45,90.29 L888.46,90.25 L889.46,90.20 L890.46,90.17 L891.46,90.13 L892.46,90.09 L893.46,90.05 L894.47,90.02 L895.47,89.99 L896.47,89.96 L897.47,89.93 L898.47,89.90 L899.47,89.87 L900.48,89.84 L901.48,89.82 L902.48,89.80 L903.48,89.77 L904.48,89.75 L905.48,89.73 L906.49,89.71 L907.49,89.69 L908.49,89.68 L909.49,89.66 L910.49,89.64 L911.49,89.63 L912.50,89.61 L913.50,89.60 L914.50,89.59 L915.50,89.57 L916.50,89.56 L917.50,89.55 L918.51,89.54 L919.51,89.53 L920.51,89.51 L921.51,89.50 L922.51,89.49 L923.51,89.48 L924.52,89.47 L925.52,89.46 L926.52,89.45 L927.52,89.44 L928.52,89.43 L929.52,89.41 L930.53,89.40 L931.53,89.39 L932.53,89.38 L933.53,89.37 L934.53,89.35 L935.53,89.34 L936.54,89.32 L937.54,89.31 L938.54,89.29 L939.54,89.28 L940.54,89.26 L941.54,89.24 L942.55,89.22 L943.55,89.20 L944.55,89.18 L945.55,89.16 L946.55,89.14 L947.56,89.11 L948.56,89.09 L949.56,89.06 L950.56,89.03 L951.56,89.00 L952.56,88.97 L953.57,88.94 L954.57,88.91 L955.57,88.87 L956.57,88.83 L957.57,88.79 L958.57,88.75 L959.58,88.71 L960.58,88.67 L961.58,88.62 L962.58,88.58 L963.58,88.53 L964.58,88.48 L965.59,88.43 L966.59,88.38 L967.59,88.32 L968.59,88.27 L969.59,88.22 L970.59,88.16 L971.60,88.11 L972.60,88.05 L973.60,87.99 L974.60,87.94 L975.60,87.88 L976.60,87.82 L977.61,87.76 L978.61,87.71 L979.61,87.65 L980.61,87.59 L981.61,87.54 L982.61,87.48 L983.62,87.43 L984.62,87.37 L985.62,87.32 L986.62,87.26 L987.62,87.21 L988.62,87.16 L989.63,87.11 L990.63,87.06 L991.63,87.01 L992.63,86.97 L993.63,86.92 L994.63,86.88 L995.64,86.84 L996.64,86.80 L997.64,86.76 L998.64,86.73 L999.64,86.70 L1000.65,86.66 L1001.65,86.64 L1002.65,86.61 L1003.65,86.59 L1004.65,86.57 L1005.65,86.55 L1006.66,86.53 L1007.66,86.52 L1008.66,86.51 L1009.66,86.51 L1010.66,86.50 L1011.66,86.50 L1012.67,86.51 L1013.67,86.51 L1014.67,86.52 L1015.67,86.54 L1016.67,86.55 L1017.67,86.57 L1018.68,86.60 L1019.68,86.62 L1020.68,86.65 L1021.68,86.68 L1022.68,86.71 L1023.68,86.75 L1024.69,86.78 L1025.69,86.82 L1026.69,86.86 L1027.69,86.91 L1028.69,86.95 L1029.69,87.00 L1030.70,87.05 L1031.70,87.09 L1032.70,87.14 L1033.70,87.19 L1034.70,87.25 L1035.70,87.30 L1036.71,87.35 L1037.71,87.41 L1038.71,87.46 L1039.71,87.51 L1040.71,87.57 L1041.71,87.62 L1042.72,87.68 L1043.72,87.73 L1044.72,87.79 L1045.72,87.84 L1046.72,87.89 L1047.72,87.95 L1048.73,88.00 L1049.73,88.05 L1050.73,88.10 L1051.73,88.15 L1052.73,88.20 L1053.74,88.24 L1054.74,88.29 L1055.74,88.34 L1056.74,88.38 L1057.74,88.43 L1058.74,88.47 L1059.75,88.52 L1060.75,88.56 L1061.75,88.60 L1062.75,88.64 L1063.75,88.69 L1064.75,88.73 L1065.76,88.77 L1066.76,88.81 L1067.76,88.85 L1068.76,88.90 L1069.76,88.94 L1070.76,88.98 L1071.77,89.02 L1072.77,89.06 L1073.77,89.10 L1074.77,89.14 L1075.77,89.19 L1076.77,89.23 L1077.78,89.27 L1078.78,89.31 L1079.78,89.36 L1080.78,89.40 L1081.78,89.44 L1082.78,89.49 L1083.79,89.53 L1084.79,89.58 L1085.79,89.63 L1086.79,89.67 L1087.79,89.72 L1088.79,89.77 L1089.80,89.82 L1090.80,89.87 L1091.80,89.92 L1092.80,89.97 L1093.80,90.02 L1094.80,90.08 L1095.81,90.13 L1096.81,90.19 L1097.81,90.25 L1098.81,90.31 L1099.81,90.37 L1100.81,90.43 L1101.82,90.49 L1102.82,90.55 L1103.82,90.62 L1104.82,90.69 L1105.82,90.75 L1106.83,90.82 L1107.83,90.90 L1108.83,90.97 L1109.83,91.04 L1110.83,91.12 L1111.83,91.20 L1112.84,91.28 L1113.84,91.36 L1114.84,91.45 L1115.84,91.53 L1116.84,91.62 L1117.84,91.71 L1118.85,91.80 L1119.85,91.89 L1120.85,91.98 L1121.85,92.08 L1122.85,92.17 L1123.85,92.27 L1124.86,92.37 L1125.86,92.46 L1126.86,92.56 L1127.86,92.67 L1128.86,92.77 L1129.86,92.87 L1130.87,92.97 L1131.87,93.08 L1132.87,93.18 L1133.87,93.29 L1134.87,93.39 L1135.87,93.50 L1136.88,93.60 L1137.88,93.71 L1138.88,93.82 L1139.88,93.92 L1140.88,94.03 L1141.88,94.14 L1142.89,94.25 L1143.89,94.35 L1144.89,94.46 L1145.89,94.57 L1146.89,94.67 L1147.89,94.78 L1148.90,94.88 L1149.90,94.99 L1150.90,95.09 L1151.90,95.20 L1152.90,95.30 L1153.90,95.40 L1154.91,95.50 L1155.91,95.61 L1156.91,95.71 L1157.91,95.81 L1158.91,95.90 L1159.92,96.00 L1160.92,96.10 L1161.92,96.20 L1162.92,96.29 L1163.92,96.39 L1164.92,96.48 L1165.93,96.57 L1166.93,96.66 L1167.93,96.75 L1168.93,96.84 L1169.93,96.93 L1170.93,97.02 L1171.94,97.10 L1172.94,97.19 L1173.94,97.27 L1174.94,97.35 L1175.94,97.43 L1176.94,97.51 L1177.95,97.59 L1178.95,97.66 L1179.95,97.74 L1180.95,97.81 L1181.95,97.88 L1182.95,97.95 L1183.96,98.02 L1184.96,98.09 L1185.96,98.15 L1186.96,98.21 L1187.96,98.28 L1188.96,98.33 L1189.97,98.39 L1190.97,98.45 L1191.97,98.50 L1192.97,98.56 L1193.97,98.61 L1194.97,98.65 L1195.98,98.70 L1196.98,98.75 L1197.98,98.79 L1198.98,98.83 L1199.98,98.87 L1200.98,98.91 L1201.99,98.94 L1202.99,98.98 L1203.99,99.01 L1204.99,99.04 L1205.99,99.08 L1206.99,99.11 L1208.00,99.14 L1209.00,99.16 L1210.00,99.18 L1210.00,99.50 L620.00,99.50Z" fill="#FDCC8A"/>
<line x1="824.5" y1="99.5" x2="824.5" y2="93.75" stroke="#000" stroke-width="1.5"/>
<line x1="958.75" y1="99.5" x2="958.75" y2="88.75" stroke="#000" stroke-width="1.5"/>
<line x1="1048.75" y1="99.5" x2="1048.75" y2="88.00" stroke="#000" stroke-width="1.5"/>
<path d="M620.00,98.19 L621.00,98.18 L622.00,98.17 L623.01,98.15 L624.01,98.14 L625.01,98.12 L626.01,98.11 L627.01,98.09 L628.01,98.08 L629.02,98.06 L630.02,98.04 L631.02,98.03 L632.02,98.01 L633.02,97.99 L634.02,97.97 L635.03,97.95 L636.03,97.93 L637.03,97.92 L638.03,97.90 L639.03,97.88 L640.03,97.86 L641.04,97.84 L642.04,97.81 L643.04,97.79 L644.04,97.77 L645.04,97.75 L646.04,97.73 L647.05,97.70 L648.05,97.68 L649.05,97.66 L650.05,97.64 L651.05,97.61 L652.05,97.59 L653.06,97.56 L654.06,97.54 L655.06,97.51 L656.06,97.49 L657.06,97.46 L658.06,97.44 L659.07,97.41 L660.07,97.39 L661.07,97.36 L662.07,97.34 L663.07,97.31 L664.07,97.28 L665.08,97.26 L666.08,97.23 L667.08,97.20 L668.08,97.17 L669.08,97.15 L670.08,97.12 L671.09,97.09 L672.09,97.06 L673.09,97.04 L674.09,97.01 L675.09,96.98 L676.10,96.95 L677.10,96.92 L678.10,96.90 L679.10,96.87 L680.10,96.84 L681.10,96.81 L682.11,96.78 L683.11,96.75 L684.11,96.72 L685.11,96.69 L686.11,96.67 L687.11,96.64 L688.12,96.61 L689.12,96.58 L690.12,96.55 L691.12,96.52 L692.12,96.49 L693.12,96.46 L694.13,96.43 L695.13,96.41 L696.13,96.38 L697.13,96.35 L698.13,96.32 L699.13,96.29 L700.14,96.26 L701.14,96.23 L702.14,96.21 L703.14,96.18 L704.14,96.15 L705.14,96.12 L706.15,96.09 L707.15,96.06 L708.15,96.04 L709.15,96.01 L710.15,95.98 L711.15,95.95 L712.16,95.93 L713.16,95.90 L714.16,95.87 L715.16,95.85 L716.16,95.82 L717.16,95.79 L718.17,95.77 L719.17,95.74 L720.17,95.72 L721.17,95.69 L722.17,95.66 L723.17,95.64 L724.18,95.61 L725.18,95.59 L726.18,95.57 L727.18,95.54 L728.18,95.52 L729.19,95.49 L730.19,95.47 L731.19,95.45 L732.19,95.43 L733.19,95.40 L734.19,95.38 L735.20,95.36 L736.20,95.34 L737.20,95.32 L738.20,95.30 L739.20,95.27 L740.20,95.25 L741.21,95.23 L742.21,95.22 L743.21,95.20 L744.21,95.18 L745.21,95.16 L746.21,95.14 L747.22,95.12 L748.22,95.11 L749.22,95.09 L750.22,95.07 L751.22,95.06 L752.22,95.04 L753.23,95.03 L754.23,95.01 L755.23,95.00 L756.23,94.98 L757.23,94.97 L758.23,94.96 L759.24,94.94 L760.24,94.93 L761.24,94.92 L762.24,94.91 L763.24,94.90 L764.24,94.89 L765.25,94.88 L766.25,94.86 L767.25,94.85 L768.25,94.84 L769.25,94.83 L770.25,94.82 L771.26,94.81 L772.26,94.80 L773.26,94.79 L774.26,94.78 L775.26,94.77 L776.26,94.76 L777.27,94.75 L778.27,94.74 L779.27,94.73 L780.27,94.72 L781.27,94.71 L782.28,94.70 L783.28,94.69 L784.28,94.68 L785.28,94.67 L786.28,94.66 L787.28,94.64 L788.29,94.63 L789.29,94.62 L790.29,94.61 L791.29,94.59 L792.29,94.58 L793.29,94.56 L794.30,94.55 L795.30,94.53 L796.30,94.52 L797.30,94.50 L798.30,94.48 L799.30,94.47 L800.31,94.45 L801.31,94.43 L802.31,94.41 L803.31,94.39 L804.31,94.37 L805.31,94.35 L806.32,94.32 L807.32,94.30 L808.32,94.28 L809.32,94.25 L810.32,94.22 L811.32,94.20 L812.33,94.17 L813.33,94.14 L814.33,94.11 L815.33,94.08 L816.33,94.05 L817.33,94.02 L818.34,93.98 L819.34,93.95 L820.34,93.91 L821.34,93.87 L822.34,93.83 L823.34,93.80 L824.35,93.75 L825.35,93.71 L826.35,93.67 L827.35,93.62 L828.35,93.58 L829.35,93.53 L830.36,93.48 L831.36,93.44 L832.36,93.39 L833.36,93.34 L834.36,93.28 L835.37,93.23 L836.37,93.18 L837.37,93.12 L838.37,93.07 L839.37,93.01 L840.37,92.96 L841.38,92.90 L842.38,92.84 L843.38,92.79 L844.38,92.73 L845.38,92.67 L846.38,92.61 L847.39,92.55 L848.39,92.49 L849.39,92.43 L850.39,92.37 L851.39,92.31 L852.39,92.25 L853.40,92.19 L854.40,92.12 L855.40,92.06 L856.40,92.00 L857.40,91.94 L858.40,91.88 L859.41,91.82 L860.41,91.76 L861.41,91.69 L862.41,91.63 L863.41,91.57 L864.41,91.51 L865.42,91.45 L866.42,91.39 L867.42,91.33 L868.42,91.27 L869.42,91.22 L870.42,91.16 L871.43,91.10 L872.43,91.04 L873.43,90.99 L874.43,90.93 L875.43,90.88 L876.43,90.82 L877.44,90.77 L878.44,90.72 L879.44,90.67 L880.44,90.61 L881.44,90.57 L882.44,90.52 L883.45,90.47 L884.45,90.42 L885.45,90.38 L886.45,90.33 L887.45,90.29 L888.46,90.25 L889.46,90.20 L890.46,90.17 L891.46,90.13 L892.46,90.09 L893.46,90.05 L894.47,90.02 L895.47,89.99 L896.47,89.96 L897.47,89.93 L898.47,89.90 L899.47,89.87 L900.48,89.84 L901.48,89.82 L902.48,89.80 L903.48,89.77 L904.48,89.75 L905.48,89.73 L906.49,89.71 L907.49,89.69 L908.49,89.68 L909.49,89.66 L910.49,89.64 L911.49,89.63 L912.50,89.61 L913.50,89.60 L914.50,89.59 L915.50,89.57 L916.50,89.56 L917.50,89.55 L918.51,89.54 L919.51,89.53 L920.51,89.51 L921.51,89.50 L922.51,89.49 L923.51,89.48 L924.52,89.47 L925.52,89.46 L926.52,89.45 L927.52,89.44 L928.52,89.43 L929.52,89.41 L930.53,89.40 L931.53,89.39 L932.53,89.38 L933.53,89.37 L934.53,89.35 L935.53,89.34 L936.54,89.32 L937.54,89.31 L938.54,89.29 L939.54,89.28 L940.54,89.26 L941.54,89.24 L942.55,89.22 L943.55,89.20 L944.55,89.18 L945.55,89.16 L946.55,89.14 L947.56,89.11 L948.56,89.09 L949.56,89.06 L950.56,89.03 L951.56,89.00 L952.56,88.97 L953.57,88.94 L954.57,88.91 L955.57,88.87 L956.57,88.83 L957.57,88.79 L958.57,88.75 L959.58,88.71 L960.58,88.67 L961.58,88.62 L962.58,88.58 L963.58,88.53 L964.58,88.48 L965.59,88.43 L966.59,88.38 L967.59,88.32 L968.59,88.27 L969.59,88.22 L970.59,88.16 L971.60,88.11 L972.60,88.05 L973.60,87.99 L974.60,87.94 L975.60,87.88 L976.60,87.82 L977.61,87.76 L978.61,87.71 L979.61,87.65 L980.61,87.59 L981.61,87.54 L982.61,87.48 L983.62,87.43 L984.62,87.37 L985.62,87.32 L986.62,87.26 L987.62,87.21 L988.62,87.16 L989.63,87.11 L990.63,87.06 L991.63,87.01 L992.63,86.97 L993.63,86.92 L994.63,86.88 L995.64,86.84 L996.64,86.80 L997.64,86.76 L998.64,86.73 L999.64,86.70 L1000.65,86.66 L1001.65,86.64 L1002.65,86.61 L1003.65,86.59 L1004.65,86.57 L1005.65,86.55 L1006.66,86.53 L1007.66,86.52 L1008.66,86.51 L1009.66,86.51 L1010.66,86.50 L1011.66,86.50 L1012.67,86.51 L1013.67,86.51 L1014.67,86.52 L1015.67,86.54 L1016.67,86.55 L1017.67,86.57 L1018.68,86.60 L1019.68,86.62 L1020.68,86.65 L1021.68,86.68 L1022.68,86.71 L1023.68,86.75 L1024.69,86.78 L1025.69,86.82 L1026.69,86.86 L1027.69,86.91 L1028.69,86.95 L1029.69,87.00 L1030.70,87.05 L1031.70,87.09 L1032.70,87.14 L1033.70,87.19 L1034.70,87.25 L1035.70,87.30 L1036.71,87.35 L1037.71,87.41 L1038.71,87.46 L1039.71,87.51 L1040.71,87.57 L1041.71,87.62 L1042.72,87.68 L1043.72,87.73 L1044.72,87.79 L1045.72,87.84 L1046.72,87.89 L1047.72,87.95 L1048.73,88.00 L1049.73,88.05 L1050.73,88.10 L1051.73,88.15 L1052.73,88.20 L1053.74,88.24 L1054.74,88.29 L1055.74,88.34 L1056.74,88.38 L1057.74,88.43 L1058.74,88.47 L1059.75,88.52 L1060.75,88.56 L1061.75,88.60 L1062.75,88.64 L1063.75,88.69 L1064.75,88.73 L1065.76,88.77 L1066.76,88.81 L1067.76,88.85 L1068.76,88.90 L1069.76,88.94 L1070.76,88.98 L1071.77,89.02 L1072.77,89.06 L1073.77,89.10 L1074.77,89.14 L1075.77,89.19 L1076.77,89.23 L1077.78,89.27 L1078.78,89.31 L1079.78,89.36 L1080.78,89.40 L1081.78,89.44 L1082.78,89.49 L1083.79,89.53 L1084.79,89.58 L1085.79,89.63 L1086.79,89.67 L1087.79,89.72 L1088.79,89.77 L1089.80,89.82 L1090.80,89.87 L1091.80,89.92 L1092.80,89.97 L1093.80,90.02 L1094.80,90.08 L1095.81,90.13 L1096.81,90.19 L1097.81,90.25 L1098.81,90.31 L1099.81,90.37 L1100.81,90.43 L1101.82,90.49 L1102.82,90.55 L1103.82,90.62 L1104.82,90.69 L1105.82,90.75 L1106.83,90.82 L1107.83,90.90 L1108.83,90.97 L1109.83,91.04 L1110.83,91.12 L1111.83,91.20 L1112.84,91.28 L1113.84,91.36 L1114.84,91.45 L1115.84,91.53 L1116.84,91.62 L1117.84,91.71 L1118.85,91.80 L1119.85,91.89 L1120.85,91.98 L1121.85,92.08 L1122.85,92.17 L1123.85,92.27 L1124.86,92.37 L1125.86,92.46 L1126.86,92.56 L1127.86,92.67 L1128.86,92.77 L1129.86,92.87 L1130.87,92.97 L1131.87,93.08 L1132.87,93.18 L1133.87,93.29 L1134.87,93.39 L1135.87,93.50 L1136.88,93.60 L1137.88,93.71 L1138.88,93.82 L1139.88,93.92 L1140.88,94.03 L1141.88,94.14 L1142.89,94.25 L1143.89,94.35 L1144.89,94.46 L1145.89,94.57 L1146.89,94.67 L1147.89,94.78 L1148.90,94.88 L1149.90,94.99 L1150.90,95.09 L1151.90,95.20 L1152.90,95.30 L1153.90,95.40 L1154.91,95.50 L1155.91,95.61 L1156.91,95.71 L1157.91,95.81 L1158.91,95.90 L1159.92,96.00 L1160.92,96.10 L1161.92,96.20 L1162.92,96.29 L1163.92,96.39 L1164.92,96.48 L1165.93,96.57 L1166.93,96.66 L1167.93,96.75 L1168.93,96.84 L1169.93,96.93 L1170.93,97.02 L1171.94,97.10 L1172.94,97.19 L1173.94,97.27 L1174.94,97.35 L1175.94,97.43 L1176.94,97.51 L1177.95,97.59 L1178.95,97.66 L1179.95,97.74 L1180.95,97.81 L1181.95,97.88 L1182.95,97.95 L1183.96,98.02 L1184.96,98.09 L1185.96,98.15 L1186.96,98.21 L1187.96,98.28 L1188.96,98.33 L1189.97,98.39 L1190.97,98.45 L1191.97,98.50 L1192.97,98.56 L1193.97,98.61 L1194.97,98.65 L1195.98,98.70 L1196.98,98.75 L1197.98,98.79 L1198.98,98.83 L1199.98,98.87 L1200.98,98.91 L1201.99,98.94 L1202.99,98.98 L1203.99,99.01 L1204.99,99.04 L1205.99,99.08 L1206.99,99.11 L1208.00,99.14 L1209.00,99.16 L1210.00,99.18" fill="none" stroke="#000" stroke-width="1.5" stroke-linejoin="round"/>
<path d="M620.00,155.99 L621.00,155.97 L622.00,155.96 L623.01,155.94 L624.01,155.92 L625.01,155.90 L626.01,155.88 L627.01,155.86 L628.01,155.84 L629.02,155.82 L630.02,155.80 L631.02,155.78 L632.02,155.76 L633.02,155.74 L634.02,155.72 L635.03,155.70 L636.03,155.68 L637.03,155.66 L638.03,155.64 L639.03,155.62 L640.03,155.60 L641.04,155.58 L642.04,155.56 L643.04,155.54 L644.04,155.52 L645.04,155.50 L646.04,155.48 L647.05,155.46 L648.05,155.44 L649.05,155.41 L650.05,155.39 L651.05,155.37 L652.05,155.35 L653.06,155.33 L654.06,155.31 L655.06,155.29 L656.06,155.27 L657.06,155.25 L658.06,155.23 L659.07,155.21 L660.07,155.19 L661.07,155.17 L662.07,155.15 L663.07,155.13 L664.07,155.11 L665.08,155.09 L666.08,155.07 L667.08,155.05 L668.08,155.03 L669.08,155.01 L670.08,154.99 L671.09,154.97 L672.09,154.95 L673.09,154.93 L674.09,154.91 L675.09,154.89 L676.10,154.87 L677.10,154.85 L678.10,154.83 L679.10,154.81 L680.10,154.79 L681.10,154.77 L682.11,154.75 L683.11,154.73 L684.11,154.71 L685.11,154.69 L686.11,154.67 L687.11,154.65 L688.12,154.63 L689.12,154.61 L690.12,154.59 L691.12,154.57 L692.12,154.55 L693.12,154.53 L694.13,154.51 L695.13,154.50 L696.13,154.48 L697.13,154.46 L698.13,154.44 L699.13,154.42 L700.14,154.40 L701.14,154.38 L702.14,154.36 L703.14,154.34 L704.14,154.33 L705.14,154.31 L706.15,154.29 L707.15,154.27 L708.15,154.25 L709.15,154.23 L710.15,154.22 L711.15,154.20 L712.16,154.18 L713.16,154.16 L714.16,154.14 L715.16,154.13 L716.16,154.11 L717.16,154.09 L718.17,154.07 L719.17,154.06 L720.17,154.04 L721.17,154.02 L722.17,154.00 L723.17,153.99 L724.18,153.97 L725.18,153.95 L726.18,153.94 L727.18,153.92 L728.18,153.90 L729.19,153.89 L730.19,153.87 L731.19,153.85 L732.19,153.84 L733.19,153.82 L734.19,153.81 L735.20,153.79 L736.20,153.77 L737.20,153.76 L738.20,153.74 L739.20,153.73 L740.20,153.71 L741.21,153.70 L742.21,153.68 L743.21,153.67 L744.21,153.65 L745.21,153.64 L746.21,153.62 L747.22,153.61 L748.22,153.59 L749.22,153.58 L750.22,153.57 L751.22,153.55 L752.22,153.54 L753.23,153.52 L754.23,153.51 L755.23,153.50 L756.23,153.48 L757.23,153.47 L758.23,153.46 L759.24,153.44 L760.24,153.43 L761.24,153.42 L762.24,153.41 L763.24,153.39 L764.24,153.38 L765.25,153.37 L766.25,153.36 L767.25,153.35 L768.25,153.33 L769.25,153.32 L770.25,153.31 L771.26,153.30 L772.26,153.29 L773.26,153.27 L774.26,153.26 L775.26,153.25 L776.26,153.24 L777.27,153.23 L778.27,153.22 L779.27,153.21 L780.27,153.20 L781.27,153.18 L782.28,153.17 L783.28,153.16 L784.28,153.15 L785.28,153.14 L786.28,153.13 L787.28,153.12 L788.29,153.11 L789.29,153.10 L790.29,153.08 L791.29,153.07 L792.29,153.06 L793.29,153.05 L794.30,153.04 L795.30,153.03 L796.30,153.02 L797.30,153.01 L798.30,153.00 L799.30,152.99 L800.31,152.97 L801.31,152.96 L802.31,152.95 L803.31,152.94 L804.31,152.93 L805.31,152.92 L806.32,152.91 L807.32,152.90 L808.32,152.88 L809.32,152.87 L810.32,152.86 L811.32,152.85 L812.33,152.84 L813.33,152.83 L814.33,152.81 L815.33,152.80 L816.33,152.79 L817.33,152.78 L818.34,152.76 L819.34,152.75 L820.34,152.74 L821.34,152.73 L822.34,152.71 L823.34,152.70 L824.35,152.69 L825.35,152.68 L826.35,152.66 L827.35,152.65 L828.35,152.64 L829.35,152.62 L830.36,152.61 L831.36,152.59 L832.36,152.58 L833.36,152.57 L834.36,152.55 L835.37,152.54 L836.37,152.52 L837.37,152.51 L838.37,152.49 L839.37,152.48 L840.37,152.46 L841.38,152.45 L842.38,152.43 L843.38,152.41 L844.38,152.40 L845.38,152.38 L846.38,152.36 L847.39,152.35 L848.39,152.33 L849.39,152.31 L850.39,152.30 L851.39,152.28 L852.39,152.26 L853.40,152.24 L854.40,152.22 L855.40,152.20 L856.40,152.19 L857.40,152.17 L858.40,152.15 L859.41,152.13 L860.41,152.11 L861.41,152.09 L862.41,152.07 L863.41,152.05 L864.41,152.03 L865.42,152.00 L866.42,151.98 L867.42,151.96 L868.42,151.94 L869.42,151.92 L870.42,151.89 L871.43,151.87 L872.43,151.85 L873.43,151.82 L874.43,151.80 L875.43,151.78 L876.43,151.75 L877.44,151.73 L878.44,151.70 L879.44,151.68 L880.44,151.65 L881.44,151.62 L882.44,151.60 L883.45,151.57 L884.45,151.54 L885.45,151.52 L886.45,151.49 L887.45,151.46 L888.46,151.43 L889.46,151.40 L890.46,151.37 L891.46,151.34 L892.46,151.31 L893.46,151.28 L894.47,151.25 L895.47,151.22 L896.47,151.19 L897.47,151.16 L898.47,151.12 L899.47,151.09 L900.48,151.06 L901.48,151.02 L902.48,150.99 L903.48,150.96 L904.48,150.92 L905.48,150.89 L906.49,150.85 L907.49,150.81 L908.49,150.78 L909.49,150.74 L910.49,150.70 L911.49,150.67 L912.50,150.63 L913.50,150.59 L914.50,150.55 L915.50,150.52 L916.50,150.48 L917.50,150.44 L918.51,150.40 L919.51,150.36 L920.51,150.32 L921.51,150.28 L922.51,150.24 L923.51,150.19 L924.52,150.15 L925.52,150.11 L926.52,150.07 L927.52,150.03 L928.52,149.98 L929.52,149.94 L930.53,149.90 L931.53,149.85 L932.53,149.81 L933.53,149.77 L934.53,149.72 L935.53,149.68 L936.54,149.63 L937.54,149.59 L938.54,149.54 L939.54,149.49 L940.54,149.45 L941.54,149.40 L942.55,149.36 L943.55,149.31 L944.55,149.26 L945.55,149.21 L946.55,149.17 L947.56,149.12 L948.56,149.07 L949.56,149.02 L950.56,148.97 L951.56,148.92 L952.56,148.87 L953.57,148.82 L954.57,148.77 L955.57,148.72 L956.57,148.67 L957.57,148.62 L958.57,148.57 L959.58,148.52 L960.58,148.47 L961.58,148.42 L962.58,148.37 L963.58,148.32 L964.58,148.26 L965.59,148.21 L966.59,148.16 L967.59,148.11 L968.59,148.05 L969.59,148.00 L970.59,147.95 L971.60,147.89 L972.60,147.84 L973.60,147.79 L974.60,147.73 L975.60,147.68 L976.60,147.63 L977.61,147.57 L978.61,147.52 L979.61,147.47 L980.61,147.41 L981.61,147.36 L982.61,147.31 L983.62,147.25 L984.62,147.20 L985.62,147.14 L986.62,147.09 L987.62,147.04 L988.62,146.98 L989.63,146.93 L990.63,146.87 L991.63,146.82 L992.63,146.77 L993.63,146.71 L994.63,146.66 L995.64,146.61 L996.64,146.55 L997.64,146.50 L998.64,146.45 L999.64,146.39 L1000.65,146.34 L1001.65,146.29 L1002.65,146.24 L1003.65,146.18 L1004.65,146.13 L1005.65,146.08 L1006.66,146.03 L1007.66,145.98 L1008.66,145.93 L1009.66,145.88 L1010.66,145.82 L1011.66,145.77 L1012.67,145.72 L1013.67,145.67 L1014.67,145.62 L1015.67,145.57 L1016.67,145.52 L1017.67,145.48 L1018.68,145.43 L1019.68,145.38 L1020.68,145.33 L1021.68,145.28 L1022.68,145.24 L1023.68,145.19 L1024.69,145.14 L1025.69,145.10 L1026.69,145.05 L1027.69,145.00 L1028.69,144.96 L1029.69,144.91 L1030.70,144.87 L1031.70,144.83 L1032.70,144.78 L1033.70,144.74 L1034.70,144.70 L1035.70,144.65 L1036.71,144.61 L1037.71,144.57 L1038.71,144.53 L1039.71,144.48 L1040.71,144.44 L1041.71,144.40 L1042.72,144.36 L1043.72,144.32 L1044.72,144.28 L1045.72,144.24 L1046.72,144.19 L1047.72,144.15 L1048.73,144.11 L1049.73,144.07 L1050.73,144.03 L1051.73,143.98 L1052.73,143.94 L1053.74,143.90 L1054.74,143.86 L1055.74,143.81 L1056.74,143.77 L1057.74,143.72 L1058.74,143.68 L1059.75,143.63 L1060.75,143.59 L1061.75,143.54 L1062.75,143.50 L1063.75,143.45 L1064.75,143.41 L1065.76,143.36 L1066.76,143.32 L1067.76,143.27 L1068.76,143.22 L1069.76,143.18 L1070.76,143.13 L1071.77,143.09 L1072.77,143.04 L1073.77,143.00 L1074.77,142.96 L1075.77,142.91 L1076.77,142.87 L1077.78,142.83 L1078.78,142.79 L1079.78,142.75 L1080.78,142.71 L1081.78,142.67 L1082.78,142.64 L1083.79,142.60 L1084.79,142.57 L1085.79,142.53 L1086.79,142.50 L1087.79,142.47 L1088.79,142.44 L1089.80,142.41 L1090.80,142.38 L1091.80,142.36 L1092.80,142.33 L1093.80,142.31 L1094.80,142.29 L1095.81,142.27 L1096.81,142.26 L1097.81,142.24 L1098.81,142.23 L1099.81,142.22 L1100.81,142.21 L1101.82,142.20 L1102.82,142.19 L1103.82,142.19 L1104.82,142.19 L1105.82,142.19 L1106.83,142.19 L1107.83,142.20 L1108.83,142.20 L1109.83,142.21 L1110.83,142.23 L1111.83,142.24 L1112.84,142.26 L1113.84,142.28 L1114.84,142.30 L1115.84,142.33 L1116.84,142.36 L1117.84,142.39 L1118.85,142.43 L1119.85,142.47 L1120.85,142.52 L1121.85,142.57 L1122.85,142.63 L1123.85,142.70 L1124.86,142.78 L1125.86,142.86 L1126.86,142.96 L1127.86,143.06 L1128.86,143.18 L1129.86,143.30 L1130.87,143.44 L1131.87,143.59 L1132.87,143.74 L1133.87,143.91 L1134.87,144.09 L1135.87,144.27 L1136.88,144.47 L1137.88,144.67 L1138.88,144.88 L1139.88,145.10 L1140.88,145.33 L1141.88,145.57 L1142.89,145.81 L1143.89,146.06 L1144.89,146.31 L1145.89,146.57 L1146.89,146.83 L1147.89,147.10 L1148.90,147.37 L1149.90,147.65 L1150.90,147.93 L1151.90,148.21 L1152.90,148.49 L1153.90,148.78 L1154.91,149.06 L1155.91,149.35 L1156.91,149.63 L1157.91,149.91 L1158.91,150.20 L1159.92,150.48 L1160.92,150.75 L1161.92,151.03 L1162.92,151.30 L1163.92,151.56 L1164.92,151.82 L1165.93,152.08 L1166.93,152.32 L1167.93,152.56 L1168.93,152.79 L1169.93,153.01 L1170.93,153.23 L1171.94,153.43 L1172.94,153.62 L1173.94,153.81 L1174.94,153.98 L1175.94,154.14 L1176.94,154.30 L1177.95,154.44 L1178.95,154.58 L1179.95,154.71 L1180.95,154.84 L1181.95,154.96 L1182.95,155.07 L1183.96,155.17 L1184.96,155.27 L1185.96,155.37 L1186.96,155.46 L1187.96,155.55 L1188.96,155.63 L1189.97,155.71 L1190.97,155.79 L1191.97,155.87 L1192.97,155.94 L1193.97,156.02 L1194.97,156.09 L1195.98,156.16 L1196.98,156.23 L1197.98,156.31 L1198.98,156.38 L1199.98,156.45 L1200.98,156.53 L1201.99,156.60 L1202.99,156.68 L1203.99,156.75 L1204.99,156.82 L1205.99,156.90 L1206.99,156.97 L1208.00,157.04 L1209.00,157.10 L1210.00,157.15 L1210.00,158.10 L620.00,158.10Z" fill="#FC8D59"/>
<line x1="894.5" y1="158.1" x2="894.5" y2="151.25" stroke="#000" stroke-width="1.5"/>
<line x1="1020.75" y1="158.1" x2="1020.75" y2="145.33" stroke="#000" stroke-width="1.5"/>
<line x1="1103.75" y1="158.1" x2="1103.75" y2="142.19" stroke="#000" stroke-width="1.5"/>
<path d="M620.00,155.99 L621.00,155.97 L622.00,155.96 L623.01,155.94 L624.01,155.92 L625.01,155.90 L626.01,155.88 L627.01,155.86 L628.01,155.84 L629.02,155.82 L630.02,155.80 L631.02,155.78 L632.02,155.76 L633.02,155.74 L634.02,155.72 L635.03,155.70 L636.03,155.68 L637.03,155.66 L638.03,155.64 L639.03,155.62 L640.03,155.60 L641.04,155.58 L642.04,155.56 L643.04,155.54 L644.04,155.52 L645.04,155.50 L646.04,155.48 L647.05,155.46 L648.05,155.44 L649.05,155.41 L650.05,155.39 L651.05,155.37 L652.05,155.35 L653.06,155.33 L654.06,155.31 L655.06,155.29 L656.06,155.27 L657.06,155.25 L658.06,155.23 L659.07,155.21 L660.07,155.19 L661.07,155.17 L662.07,155.15 L663.07,155.13 L664.07,155.11 L665.08,155.09 L666.08,155.07 L667.08,155.05 L668.08,155.03 L669.08,155.01 L670.08,154.99 L671.09,154.97 L672.09,154.95 L673.09,154.93 L674.09,154.91 L675.09,154.89 L676.10,154.87 L677.10,154.85 L678.10,154.83 L679.10,154.81 L680.10,154.79 L681.10,154.77 L682.11,154.75 L683.11,154.73 L684.11,154.71 L685.11,154.69 L686.11,154.67 L687.11,154.65 L688.12,154.63 L689.12,154.61 L690.12,154.59 L691.12,154.57 L692.12,154.55 L693.12,154.53 L694.13,154.51 L695.13,154.50 L696.13,154.48 L697.13,154.46 L698.13,154.44 L699.13,154.42 L700.14,154.40 L701.14,154.38 L702.14,154.36 L703.14,154.34 L704.14,154.33 L705.14,154.31 L706.15,154.29 L707.15,154.27 L708.15,154.25 L709.15,154.23 L710.15,154.22 L711.15,154.20 L712.16,154.18 L713.16,154.16 L714.16,154.14 L715.16,154.13 L716.16,154.11 L717.16,154.09 L718.17,154.07 L719.17,154.06 L720.17,154.04 L721.17,154.02 L722.17,154.00 L723.17,153.99 L724.18,153.97 L725.18,153.95 L726.18,153.94 L727.18,153.92 L728.18,153.90 L729.19,153.89 L730.19,153.87 L731.19,153.85 L732.19,153.84 L733.19,153.82 L734.19,153.81 L735.20,153.79 L736.20,153.77 L737.20,153.76 L738.20,153.74 L739.20,153.73 L740.20,153.71 L741.21,153.70 L742.21,153.68 L743.21,153.67 L744.21,153.65 L745.21,153.64 L746.21,153.62 L747.22,153.61 L748.22,153.59 L749.22,153.58 L750.22,153.57 L751.22,153.55 L752.22,153.54 L753.23,153.52 L754.23,153.51 L755.23,153.50 L756.23,153.48 L757.23,153.47 L758.23,153.46 L759.24,153.44 L760.24,153.43 L761.24,153.42 L762.24,153.41 L763.24,153.39 L764.24,153.38 L765.25,153.37 L766.25,153.36 L767.25,153.35 L768.25,153.33 L769.25,153.32 L770.25,153.31 L771.26,153.30 L772.26,153.29 L773.26,153.27 L774.26,153.26 L775.26,153.25 L776.26,153.24 L777.27,153.23 L778.27,153.22 L779.27,153.21 L780.27,153.20 L781.27,153.18 L782.28,153.17 L783.28,153.16 L784.28,153.15 L785.28,153.14 L786.28,153.13 L787.28,153.12 L788.29,153.11 L789.29,153.10 L790.29,153.08 L791.29,153.07 L792.29,153.06 L793.29,153.05 L794.30,153.04 L795.30,153.03 L796.30,153.02 L797.30,153.01 L798.30,153.00 L799.30,152.99 L800.31,152.97 L801.31,152.96 L802.31,152.95 L803.31,152.94 L804.31,152.93 L805.31,152.92 L806.32,152.91 L807.32,152.90 L808.32,152.88 L809.32,152.87 L810.32,152.86 L811.32,152.85 L812.33,152.84 L813.33,152.83 L814.33,152.81 L815.33,152.80 L816.33,152.79 L817.33,152.78 L818.34,152.76 L819.34,152.75 L820.34,152.74 L821.34,152.73 L822.34,152.71 L823.34,152.70 L824.35,152.69 L825.35,152.68 L826.35,152.66 L827.35,152.65 L828.35,152.64 L829.35,152.62 L830.36,152.61 L831.36,152.59 L832.36,152.58 L833.36,152.57 L834.36,152.55 L835.37,152.54 L836.37,152.52 L837.37,152.51 L838.37,152.49 L839.37,152.48 L840.37,152.46 L841.38,152.45 L842.38,152.43 L843.38,152.41 L844.38,152.40 L845.38,152.38 L846.38,152.36 L847.39,152.35 L848.39,152.33 L849.39,152.31 L850.39,152.30 L851.39,152.28 L852.39,152.26 L853.40,152.24 L854.40,152.22 L855.40,152.20 L856.40,152.19 L857.40,152.17 L858.40,152.15 L859.41,152.13 L860.41,152.11 L861.41,152.09 L862.41,152.07 L863.41,152.05 L864.41,152.03 L865.42,152.00 L866.42,151.98 L867.42,151.96 L868.42,151.94 L869.42,151.92 L870.42,151.89 L871.43,151.87 L872.43,151.85 L873.43,151.82 L874.43,151.80 L875.43,151.78 L876.43,151.75 L877.44,151.73 L878.44,151.70 L879.44,151.68 L880.44,151.65 L881.44,151.62 L882.44,151.60 L883.45,151.57 L884.45,151.54 L885.45,151.52 L886.45,151.49 L887.45,151.46 L888.46,151.43 L889.46,151.40 L890.46,151.37 L891.46,151.34 L892.46,151.31 L893.46,151.28 L894.47,151.25 L895.47,151.22 L896.47,151.19 L897.47,151.16 L898.47,151.12 L899.47,151.09 L900.48,151.06 L901.48,151.02 L902.48,150.99 L903.48,150.96 L904.48,150.92 L905.48,150.89 L906.49,150.85 L907.49,150.81 L908.49,150.78 L909.49,150.74 L910.49,150.70 L911.49,150.67 L912.50,150.63 L913.50,150.59 L914.50,150.55 L915.50,150.52 L916.50,150.48 L917.50,150.44 L918.51,150.40 L919.51,150.36 L920.51,150.32 L921.51,150.28 L922.51,150.24 L923.51,150.19 L924.52,150.15 L925.52,150.11 L926.52,150.07 L927.52,150.03 L928.52,149.98 L929.52,149.94 L930.53,149.90 L931.53,149.85 L932.53,149.81 L933.53,149.77 L934.53,149.72 L935.53,149.68 L936.54,149.63 L937.54,149.59 L938.54,149.54 L939.54,149.49 L940.54,149.45 L941.54,149.40 L942.55,149.36 L943.55,149.31 L944.55,149.26 L945.55,149.21 L946.55,149.17 L947.56,149.12 L948.56,149.07 L949.56,149.02 L950.56,148.97 L951.56,148.92 L952.56,148.87 L953.57,148.82 L954.57,148.77 L955.57,148.72 L956.57,148.67 L957.57,148.62 L958.57,148.57 L959.58,148.52 L960.58,148.47 L961.58,148.42 L962.58,148.37 L963.58,148.32 L964.58,148.26 L965.59,148.21 L966.59,148.16 L967.59,148.11 L968.59,148.05 L969.59,148.00 L970.59,147.95 L971.60,147.89 L972.60,147.84 L973.60,147.79 L974.60,147.73 L975.60,147.68 L976.60,147.63 L977.61,147.57 L978.61,147.52 L979.61,147.47 L980.61,147.41 L981.61,147.36 L982.61,147.31 L983.62,147.25 L984.62,147.20 L985.62,147.14 L986.62,147.09 L987.62,147.04 L988.62,146.98 L989.63,146.93 L990.63,146.87 L991.63,146.82 L992.63,146.77 L993.63,146.71 L994.63,146.66 L995.64,146.61 L996.64,146.55 L997.64,146.50 L998.64,146.45 L999.64,146.39 L1000.65,146.34 L1001.65,146.29 L1002.65,146.24 L1003.65,146.18 L1004.65,146.13 L1005.65,146.08 L1006.66,146.03 L1007.66,145.98 L1008.66,145.93 L1009.66,145.88 L1010.66,145.82 L1011.66,145.77 L1012.67,145.72 L1013.67,145.67 L1014.67,145.62 L1015.67,145.57 L1016.67,145.52 L1017.67,145.48 L1018.68,145.43 L1019.68,145.38 L1020.68,145.33 L1021.68,145.28 L1022.68,145.24 L1023.68,145.19 L1024.69,145.14 L1025.69,145.10 L1026.69,145.05 L1027.69,145.00 L1028.69,144.96 L1029.69,144.91 L1030.70,144.87 L1031.70,144.83 L1032.70,144.78 L1033.70,144.74 L1034.70,144.70 L1035.70,144.65 L1036.71,144.61 L1037.71,144.57 L1038.71,144.53 L1039.71,144.48 L1040.71,144.44 L1041.71,144.40 L1042.72,144.36 L1043.72,144.32 L1044.72,144.28 L1045.72,144.24 L1046.72,144.19 L1047.72,144.15 L1048.73,144.11 L1049.73,144.07 L1050.73,144.03 L1051.73,143.98 L1052.73,143.94 L1053.74,143.90 L1054.74,143.86 L1055.74,143.81 L1056.74,143.77 L1057.74,143.72 L1058.74,143.68 L1059.75,143.63 L1060.75,143.59 L1061.75,143.54 L1062.75,143.50 L1063.75,143.45 L1064.75,143.41 L1065.76,143.36 L1066.76,143.32 L1067.76,143.27 L1068.76,143.22 L1069.76,143.18 L1070.76,143.13 L1071.77,143.09 L1072.77,143.04 L1073.77,143.00 L1074.77,142.96 L1075.77,142.91 L1076.77,142.87 L1077.78,142.83 L1078.78,142.79 L1079.78,142.75 L1080.78,142.71 L1081.78,142.67 L1082.78,142.64 L1083.79,142.60 L1084.79,142.57 L1085.79,142.53 L1086.79,142.50 L1087.79,142.47 L1088.79,142.44 L1089.80,142.41 L1090.80,142.38 L1091.80,142.36 L1092.80,142.33 L1093.80,142.31 L1094.80,142.29 L1095.81,142.27 L1096.81,142.26 L1097.81,142.24 L1098.81,142.23 L1099.81,142.22 L1100.81,142.21 L1101.82,142.20 L1102.82,142.19 L1103.82,142.19 L1104.82,142.19 L1105.82,142.19 L1106.83,142.19 L1107.83,142.20 L1108.83,142.20 L1109.83,142.21 L1110.83,142.23 L1111.83,142.24 L1112.84,142.26 L1113.84,142.28 L1114.84,142.30 L1115.84,142.33 L1116.84,142.36 L1117.84,142.39 L1118.85,142.43 L1119.85,142.47 L1120.85,142.52 L1121.85,142.57 L1122.85,142.63 L1123.85,142.70 L1124.86,142.78 L1125.86,142.86 L1126.86,142.96 L1127.86,143.06 L1128.86,143.18 L1129.86,143.30 L1130.87,143.44 L1131.87,143.59 L1132.87,143.74 L1133.87,143.91 L1134.87,144.09 L1135.87,144.27 L1136.88,144.47 L1137.88,144.67 L1138.88,144.88 L1139.88,145.10 L1140.88,145.33 L1141.88,145.57 L1142.89,145.81 L1143.89,146.06 L1144.89,146.31 L1145.89,146.57 L1146.89,146.83 L1147.89,147.10 L1148.90,147.37 L1149.90,147.65 L1150.90,147.93 L1151.90,148.21 L1152.90,148.49 L1153.90,148.78 L1154.91,149.06 L1155.91,149.35 L1156.91,149.63 L1157.91,149.91 L1158.91,150.20 L1159.92,150.48 L1160.92,150.75 L1161.92,151.03 L1162.92,151.30 L1163.92,151.56 L1164.92,151.82 L1165.93,152.08 L1166.93,152.32 L1167.93,152.56 L1168.93,152.79 L1169.93,153.01 L1170.93,153.23 L1171.94,153.43 L1172.94,153.62 L1173.94,153.81 L1174.94,153.98 L1175.94,154.14 L1176.94,154.30 L1177.95,154.44 L1178.95,154.58 L1179.95,154.71 L1180.95,154.84 L1181.95,154.96 L1182.95,155.07 L1183.96,155.17 L1184.96,155.27 L1185.96,155.37 L1186.96,155.46 L1187.96,155.55 L1188.96,155.63 L1189.97,155.71 L1190.97,155.79 L1191.97,155.87 L1192.97,155.94 L1193.97,156.02 L1194.97,156.09 L1195.98,156.16 L1196.98,156.23 L1197.98,156.31 L1198.98,156.38 L1199.98,156.45 L1200.98,156.53 L1201.99,156.60 L1202.99,156.68 L1203.99,156.75 L1204.99,156.82 L1205.99,156.90 L1206.99,156.97 L1208.00,157.04 L1209.00,157.10 L1210.00,157.15" fill="none" stroke="#000" stroke-width="1.5" stroke-linejoin="round"/>
<path d="M620.00,215.69 L621.00,215.69 L622.00,215.68 L623.01,215.67 L624.01,215.67 L625.01,215.66 L626.01,215.65 L627.01,215.64 L628.01,215.63 L629.02,215.63 L630.02,215.62 L631.02,215.61 L632.02,215.60 L633.02,215.60 L634.02,215.59 L635.03,215.58 L636.03,215.58 L637.03,215.57 L638.03,215.57 L639.03,215.56 L640.03,215.56 L641.04,215.55 L642.04,215.55 L643.04,215.54 L644.04,215.54 L645.04,215.53 L646.04,215.53 L647.05,215.53 L648.05,215.52 L649.05,215.52 L650.05,215.52 L651.05,215.52 L652.05,215.51 L653.06,215.51 L654.06,215.51 L655.06,215.51 L656.06,215.51 L657.06,215.50 L658.06,215.50 L659.07,215.50 L660.07,215.50 L661.07,215.50 L662.07,215.50 L663.07,215.50 L664.07,215.50 L665.08,215.50 L666.08,215.50 L667.08,215.50 L668.08,215.50 L669.08,215.50 L670.08,215.50 L671.09,215.50 L672.09,215.50 L673.09,215.50 L674.09,215.50 L675.09,215.51 L676.10,215.51 L677.10,215.51 L678.10,215.51 L679.10,215.51 L680.10,215.51 L681.10,215.51 L682.11,215.52 L683.11,215.52 L684.11,215.52 L685.11,215.52 L686.11,215.52 L687.11,215.53 L688.12,215.53 L689.12,215.53 L690.12,215.53 L691.12,215.53 L692.12,215.54 L693.12,215.54 L694.13,215.54 L695.13,215.54 L696.13,215.55 L697.13,215.55 L698.13,215.55 L699.13,215.55 L700.14,215.56 L701.14,215.56 L702.14,215.56 L703.14,215.56 L704.14,215.57 L705.14,215.57 L706.15,215.57 L707.15,215.57 L708.15,215.58 L709.15,215.58 L710.15,215.58 L711.15,215.58 L712.16,215.59 L713.16,215.59 L714.16,215.59 L715.16,215.59 L716.16,215.59 L717.16,215.60 L718.17,215.60 L719.17,215.60 L720.17,215.60 L721.17,215.60 L722.17,215.60 L723.17,215.61 L724.18,215.61 L725.18,215.61 L726.18,215.61 L727.18,215.61 L728.18,215.61 L729.19,215.61 L730.19,215.61 L731.19,215.61 L732.19,215.62 L733.19,215.62 L734.19,215.62 L735.20,215.62 L736.20,215.62 L737.20,215.62 L738.20,215.62 L739.20,215.62 L740.20,215.61 L741.21,215.61 L742.21,215.61 L743.21,215.61 L744.21,215.61 L745.21,215.61 L746.21,215.61 L747.22,215.61 L748.22,215.60 L749.22,215.60 L750.22,215.60 L751.22,215.60 L752.22,215.59 L753.23,215.59 L754.23,215.59 L755.23,215.58 L756.23,215.58 L757.23,215.58 L758.23,215.57 L759.24,215.57 L760.24,215.56 L761.24,215.56 L762.24,215.56 L763.24,215.55 L764.24,215.55 L765.25,215.54 L766.25,215.54 L767.25,215.53 L768.25,215.53 L769.25,215.52 L770.25,215.51 L771.26,215.51 L772.26,215.50 L773.26,215.50 L774.26,215.49 L775.26,215.48 L776.26,215.48 L777.27,215.47 L778.27,215.46 L779.27,215.46 L780.27,215.45 L781.27,215.44 L782.28,215.44 L783.28,215.43 L784.28,215.42 L785.28,215.41 L786.28,215.41 L787.28,215.40 L788.29,215.39 L789.29,215.38 L790.29,215.37 L791.29,215.37 L792.29,215.36 L793.29,215.35 L794.30,215.34 L795.30,215.33 L796.30,215.33 L797.30,215.32 L798.30,215.31 L799.30,215.30 L800.31,215.29 L801.31,215.28 L802.31,215.28 L803.31,215.27 L804.31,215.26 L805.31,215.25 L806.32,215.24 L807.32,215.23 L808.32,215.22 L809.32,215.22 L810.32,215.21 L811.32,215.20 L812.33,215.19 L813.33,215.18 L814.33,215.17 L815.33,215.16 L816.33,215.16 L817.33,215.15 L818.34,215.14 L819.34,215.13 L820.34,215.12 L821.34,215.11 L822.34,215.10 L823.34,215.10 L824.35,215.09 L825.35,215.08 L826.35,215.07 L827.35,215.06 L828.35,215.05 L829.35,215.05 L830.36,215.04 L831.36,215.03 L832.36,215.02 L833.36,215.01 L834.36,215.01 L835.37,215.00 L836.37,214.99 L837.37,214.98 L838.37,214.97 L839.37,214.97 L840.37,214.96 L841.38,214.95 L842.38,214.94 L843.38,214.94 L844.38,214.93 L845.38,214.92 L846.38,214.91 L847.39,214.91 L848.39,214.90 L849.39,214.89 L850.39,214.88 L851.39,214.88 L852.39,214.87 L853.40,214.86 L854.40,214.85 L855.40,214.85 L856.40,214.84 L857.40,214.83 L858.40,214.82 L859.41,214.82 L860.41,214.81 L861.41,214.80 L862.41,214.79 L863.41,214.78 L864.41,214.78 L865.42,214.77 L866.42,214.76 L867.42,214.75 L868.42,214.74 L869.42,214.73 L870.42,214.72 L871.43,214.71 L872.43,214.70 L873.43,214.69 L874.43,214.68 L875.43,214.68 L876.43,214.66 L877.44,214.65 L878.44,214.64 L879.44,214.63 L880.44,214.62 L881.44,214.61 L882.44,214.60 L883.45,214.59 L884.45,214.58 L885.45,214.57 L886.45,214.55 L887.45,214.54 L888.46,214.53 L889.46,214.52 L890.46,214.50 L891.46,214.49 L892.46,214.47 L893.46,214.46 L894.47,214.45 L895.47,214.43 L896.47,214.42 L897.47,214.40 L898.47,214.39 L899.47,214.37 L900.48,214.35 L901.48,214.34 L902.48,214.32 L903.48,214.30 L904.48,214.29 L905.48,214.27 L906.49,214.25 L907.49,214.23 L908.49,214.21 L909.49,214.19 L910.49,214.17 L911.49,214.15 L912.50,214.13 L913.50,214.11 L914.50,214.09 L915.50,214.07 L916.50,214.04 L917.50,214.02 L918.51,214.00 L919.51,213.98 L920.51,213.95 L921.51,213.93 L922.51,213.90 L923.51,213.88 L924.52,213.85 L925.52,213.82 L926.52,213.80 L927.52,213.77 L928.52,213.74 L929.52,213.71 L930.53,213.68 L931.53,213.65 L932.53,213.62 L933.53,213.59 L934.53,213.56 L935.53,213.53 L936.54,213.50 L937.54,213.47 L938.54,213.44 L939.54,213.40 L940.54,213.37 L941.54,213.33 L942.55,213.30 L943.55,213.27 L944.55,213.23 L945.55,213.20 L946.55,213.16 L947.56,213.13 L948.56,213.09 L949.56,213.05 L950.56,213.02 L951.56,212.98 L952.56,212.94 L953.57,212.91 L954.57,212.87 L955.57,212.83 L956.57,212.79 L957.57,212.75 L958.57,212.72 L959.58,212.68 L960.58,212.64 L961.58,212.60 L962.58,212.56 L963.58,212.53 L964.58,212.49 L965.59,212.45 L966.59,212.41 L967.59,212.37 L968.59,212.33 L969.59,212.29 L970.59,212.26 L971.60,212.22 L972.60,212.18 L973.60,212.14 L974.60,212.10 L975.60,212.06 L976.60,212.03 L977.61,211.99 L978.61,211.95 L979.61,211.91 L980.61,211.87 L981.61,211.84 L982.61,211.80 L983.62,211.76 L984.62,211.73 L985.62,211.69 L986.62,211.65 L987.62,211.62 L988.62,211.58 L989.63,211.55 L990.63,211.51 L991.63,211.48 L992.63,211.44 L993.63,211.41 L994.63,211.37 L995.64,211.34 L996.64,211.31 L997.64,211.28 L998.64,211.24 L999.64,211.21 L1000.65,211.18 L1001.65,211.15 L1002.65,211.12 L1003.65,211.09 L1004.65,211.06 L1005.65,211.03 L1006.66,210.99 L1007.66,210.96 L1008.66,210.93 L1009.66,210.90 L1010.66,210.86 L1011.66,210.82 L1012.67,210.79 L1013.67,210.75 L1014.67,210.71 L1015.67,210.67 L1016.67,210.62 L1017.67,210.58 L1018.68,210.53 L1019.68,210.48 L1020.68,210.43 L1021.68,210.37 L1022.68,210.31 L1023.68,210.25 L1024.69,210.19 L1025.69,210.12 L1026.69,210.05 L1027.69,209.98 L1028.69,209.90 L1029.69,209.82 L1030.70,209.73 L1031.70,209.65 L1032.70,209.55 L1033.70,209.46 L1034.70,209.36 L1035.70,209.26 L1036.71,209.15 L1037.71,209.04 L1038.71,208.93 L1039.71,208.82 L1040.71,208.70 L1041.71,208.59 L1042.72,208.47 L1043.72,208.35 L1044.72,208.22 L1045.72,208.10 L1046.72,207.97 L1047.72,207.85 L1048.73,207.72 L1049.73,207.59 L1050.73,207.47 L1051.73,207.34 L1052.73,207.21 L1053.74,207.08 L1054.74,206.95 L1055.74,206.82 L1056.74,206.70 L1057.74,206.57 L1058.74,206.45 L1059.75,206.32 L1060.75,206.20 L1061.75,206.07 L1062.75,205.95 L1063.75,205.82 L1064.75,205.69 L1065.76,205.56 L1066.76,205.43 L1067.76,205.30 L1068.76,205.16 L1069.76,205.02 L1070.76,204.87 L1071.77,204.72 L1072.77,204.57 L1073.77,204.41 L1074.77,204.24 L1075.77,204.07 L1076.77,203.89 L1077.78,203.70 L1078.78,203.51 L1079.78,203.31 L1080.78,203.10 L1081.78,202.88 L1082.78,202.65 L1083.79,202.41 L1084.79,202.16 L1085.79,201.90 L1086.79,201.63 L1087.79,201.34 L1088.79,201.04 L1089.80,200.73 L1090.80,200.40 L1091.80,200.06 L1092.80,199.71 L1093.80,199.33 L1094.80,198.95 L1095.81,198.54 L1096.81,198.12 L1097.81,197.68 L1098.81,197.23 L1099.81,196.75 L1100.81,196.26 L1101.82,195.76 L1102.82,195.23 L1103.82,194.68 L1104.82,194.12 L1105.82,193.54 L1106.83,192.94 L1107.83,192.32 L1108.83,191.68 L1109.83,191.03 L1110.83,190.37 L1111.83,189.70 L1112.84,189.02 L1113.84,188.34 L1114.84,187.67 L1115.84,187.00 L1116.84,186.33 L1117.84,185.69 L1118.85,185.05 L1119.85,184.44 L1120.85,183.85 L1121.85,183.28 L1122.85,182.74 L1123.85,182.21 L1124.86,181.71 L1125.86,181.21 L1126.86,180.72 L1127.86,180.22 L1128.86,179.71 L1129.86,179.19 L1130.87,178.65 L1131.87,178.10 L1132.87,177.54 L1133.87,176.99 L1134.87,176.45 L1135.87,175.93 L1136.88,175.45 L1137.88,175.00 L1138.88,174.59 L1139.88,174.24 L1140.88,173.93 L1141.88,173.67 L1142.89,173.45 L1143.89,173.28 L1144.89,173.16 L1145.89,173.09 L1146.89,173.07 L1147.89,173.10 L1148.90,173.20 L1149.90,173.37 L1150.90,173.63 L1151.90,173.97 L1152.90,174.41 L1153.90,174.94 L1154.91,175.54 L1155.91,176.19 L1156.91,176.87 L1157.91,177.56 L1158.91,178.25 L1159.92,178.93 L1160.92,179.61 L1161.92,180.30 L1162.92,181.01 L1163.92,181.75 L1164.92,182.53 L1165.93,183.35 L1166.93,184.21 L1167.93,185.10 L1168.93,186.01 L1169.93,186.94 L1170.93,187.87 L1171.94,188.81 L1172.94,189.73 L1173.94,190.65 L1174.94,191.57 L1175.94,192.48 L1176.94,193.40 L1177.95,194.32 L1178.95,195.24 L1179.95,196.17 L1180.95,197.09 L1181.95,198.01 L1182.95,198.91 L1183.96,199.79 L1184.96,200.64 L1185.96,201.46 L1186.96,202.24 L1187.96,202.97 L1188.96,203.67 L1189.97,204.33 L1190.97,204.95 L1191.97,205.54 L1192.97,206.10 L1193.97,206.63 L1194.97,207.14 L1195.98,207.62 L1196.98,208.09 L1197.98,208.53 L1198.98,208.96 L1199.98,209.38 L1200.98,209.78 L1201.99,210.17 L1202.99,210.55 L1203.99,210.91 L1204.99,211.27 L1205.99,211.62 L1206.99,211.96 L1208.00,212.28 L1209.00,212.56 L1210.00,212.76 L1210.00,216.90 L620.00,216.90Z" fill="#E34A33"/>
<line x1="1081.25" y1="216.9" x2="1081.25" y2="202.99" stroke="#000" stroke-width="1.5"/>
<line x1="1130" y1="216.9" x2="1130" y2="179.11" stroke="#000" stroke-width="1.5"/>
<line x1="1153.25" y1="216.9" x2="1153.25" y2="174.59" stroke="#000" stroke-width="1.5"/>
<path d="M620.00,215.69 L621.00,215.69 L622.00,215.68 L623.01,215.67 L624.01,215.67 L625.01,215.66 L626.01,215.65 L627.01,215.64 L628.01,215.63 L629.02,215.63 L630.02,215.62 L631.02,215.61 L632.02,215.60 L633.02,215.60 L634.02,215.59 L635.03,215.58 L636.03,215.58 L637.03,215.57 L638.03,215.57 L639.03,215.56 L640.03,215.56 L641.04,215.55 L642.04,215.55 L643.04,215.54 L644.04,215.54 L645.04,215.53 L646.04,215.53 L647.05,215.53 L648.05,215.52 L649.05,215.52 L650.05,215.52 L651.05,215.52 L652.05,215.51 L653.06,215.51 L654.06,215.51 L655.06,215.51 L656.06,215.51 L657.06,215.50 L658.06,215.50 L659.07,215.50 L660.07,215.50 L661.07,215.50 L662.07,215.50 L663.07,215.50 L664.07,215.50 L665.08,215.50 L666.08,215.50 L667.08,215.50 L668.08,215.50 L669.08,215.50 L670.08,215.50 L671.09,215.50 L672.09,215.50 L673.09,215.50 L674.09,215.50 L675.09,215.51 L676.10,215.51 L677.10,215.51 L678.10,215.51 L679.10,215.51 L680.10,215.51 L681.10,215.51 L682.11,215.52 L683.11,215.52 L684.11,215.52 L685.11,215.52 L686.11,215.52 L687.11,215.53 L688.12,215.53 L689.12,215.53 L690.12,215.53 L691.12,215.53 L692.12,215.54 L693.12,215.54 L694.13,215.54 L695.13,215.54 L696.13,215.55 L697.13,215.55 L698.13,215.55 L699.13,215.55 L700.14,215.56 L701.14,215.56 L702.14,215.56 L703.14,215.56 L704.14,215.57 L705.14,215.57 L706.15,215.57 L707.15,215.57 L708.15,215.58 L709.15,215.58 L710.15,215.58 L711.15,215.58 L712.16,215.59 L713.16,215.59 L714.16,215.59 L715.16,215.59 L716.16,215.59 L717.16,215.60 L718.17,215.60 L719.17,215.60 L720.17,215.60 L721.17,215.60 L722.17,215.60 L723.17,215.61 L724.18,215.61 L725.18,215.61 L726.18,215.61 L727.18,215.61 L728.18,215.61 L729.19,215.61 L730.19,215.61 L731.19,215.61 L732.19,215.62 L733.19,215.62 L734.19,215.62 L735.20,215.62 L736.20,215.62 L737.20,215.62 L738.20,215.62 L739.20,215.62 L740.20,215.61 L741.21,215.61 L742.21,215.61 L743.21,215.61 L744.21,215.61 L745.21,215.61 L746.21,215.61 L747.22,215.61 L748.22,215.60 L749.22,215.60 L750.22,215.60 L751.22,215.60 L752.22,215.59 L753.23,215.59 L754.23,215.59 L755.23,215.58 L756.23,215.58 L757.23,215.58 L758.23,215.57 L759.24,215.57 L760.24,215.56 L761.24,215.56 L762.24,215.56 L763.24,215.55 L764.24,215.55 L765.25,215.54 L766.25,215.54 L767.25,215.53 L768.25,215.53 L769.25,215.52 L770.25,215.51 L771.26,215.51 L772.26,215.50 L773.26,215.50 L774.26,215.49 L775.26,215.48 L776.26,215.48 L777.27,215.47 L778.27,215.46 L779.27,215.46 L780.27,215.45 L781.27,215.44 L782.28,215.44 L783.28,215.43 L784.28,215.42 L785.28,215.41 L786.28,215.41 L787.28,215.40 L788.29,215.39 L789.29,215.38 L790.29,215.37 L791.29,215.37 L792.29,215.36 L793.29,215.35 L794.30,215.34 L795.30,215.33 L796.30,215.33 L797.30,215.32 L798.30,215.31 L799.30,215.30 L800.31,215.29 L801.31,215.28 L802.31,215.28 L803.31,215.27 L804.31,215.26 L805.31,215.25 L806.32,215.24 L807.32,215.23 L808.32,215.22 L809.32,215.22 L810.32,215.21 L811.32,215.20 L812.33,215.19 L813.33,215.18 L814.33,215.17 L815.33,215.16 L816.33,215.16 L817.33,215.15 L818.34,215.14 L819.34,215.13 L820.34,215.12 L821.34,215.11 L822.34,215.10 L823.34,215.10 L824.35,215.09 L825.35,215.08 L826.35,215.07 L827.35,215.06 L828.35,215.05 L829.35,215.05 L830.36,215.04 L831.36,215.03 L832.36,215.02 L833.36,215.01 L834.36,215.01 L835.37,215.00 L836.37,214.99 L837.37,214.98 L838.37,214.97 L839.37,214.97 L840.37,214.96 L841.38,214.95 L842.38,214.94 L843.38,214.94 L844.38,214.93 L845.38,214.92 L846.38,214.91 L847.39,214.91 L848.39,214.90 L849.39,214.89 L850.39,214.88 L851.39,214.88 L852.39,214.87 L853.40,214.86 L854.40,214.85 L855.40,214.85 L856.40,214.84 L857.40,214.83 L858.40,214.82 L859.41,214.82 L860.41,214.81 L861.41,214.80 L862.41,214.79 L863.41,214.78 L864.41,214.78 L865.42,214.77 L866.42,214.76 L867.42,214.75 L868.42,214.74 L869.42,214.73 L870.42,214.72 L871.43,214.71 L872.43,214.70 L873.43,214.69 L874.43,214.68 L875.43,214.68 L876.43,214.66 L877.44,214.65 L878.44,214.64 L879.44,214.63 L880.44,214.62 L881.44,214.61 L882.44,214.60 L883.45,214.59 L884.45,214.58 L885.45,214.57 L886.45,214.55 L887.45,214.54 L888.46,214.53 L889.46,214.52 L890.46,214.50 L891.46,214.49 L892.46,214.47 L893.46,214.46 L894.47,214.45 L895.47,214.43 L896.47,214.42 L897.47,214.40 L898.47,214.39 L899.47,214.37 L900.48,214.35 L901.48,214.34 L902.48,214.32 L903.48,214.30 L904.48,214.29 L905.48,214.27 L906.49,214.25 L907.49,214.23 L908.49,214.21 L909.49,214.19 L910.49,214.17 L911.49,214.15 L912.50,214.13 L913.50,214.11 L914.50,214.09 L915.50,214.07 L916.50,214.04 L917.50,214.02 L918.51,214.00 L919.51,213.98 L920.51,213.95 L921.51,213.93 L922.51,213.90 L923.51,213.88 L924.52,213.85 L925.52,213.82 L926.52,213.80 L927.52,213.77 L928.52,213.74 L929.52,213.71 L930.53,213.68 L931.53,213.65 L932.53,213.62 L933.53,213.59 L934.53,213.56 L935.53,213.53 L936.54,213.50 L937.54,213.47 L938.54,213.44 L939.54,213.40 L940.54,213.37 L941.54,213.33 L942.55,213.30 L943.55,213.27 L944.55,213.23 L945.55,213.20 L946.55,213.16 L947.56,213.13 L948.56,213.09 L949.56,213.05 L950.56,213.02 L951.56,212.98 L952.56,212.94 L953.57,212.91 L954.57,212.87 L955.57,212.83 L956.57,212.79 L957.57,212.75 L958.57,212.72 L959.58,212.68 L960.58,212.64 L961.58,212.60 L962.58,212.56 L963.58,212.53 L964.58,212.49 L965.59,212.45 L966.59,212.41 L967.59,212.37 L968.59,212.33 L969.59,212.29 L970.59,212.26 L971.60,212.22 L972.60,212.18 L973.60,212.14 L974.60,212.10 L975.60,212.06 L976.60,212.03 L977.61,211.99 L978.61,211.95 L979.61,211.91 L980.61,211.87 L981.61,211.84 L982.61,211.80 L983.62,211.76 L984.62,211.73 L985.62,211.69 L986.62,211.65 L987.62,211.62 L988.62,211.58 L989.63,211.55 L990.63,211.51 L991.63,211.48 L992.63,211.44 L993.63,211.41 L994.63,211.37 L995.64,211.34 L996.64,211.31 L997.64,211.28 L998.64,211.24 L999.64,211.21 L1000.65,211.18 L1001.65,211.15 L1002.65,211.12 L1003.65,211.09 L1004.65,211.06 L1005.65,211.03 L1006.66,210.99 L1007.66,210.96 L1008.66,210.93 L1009.66,210.90 L1010.66,210.86 L1011.66,210.82 L1012.67,210.79 L1013.67,210.75 L1014.67,210.71 L1015.67,210.67 L1016.67,210.62 L1017.67,210.58 L1018.68,210.53 L1019.68,210.48 L1020.68,210.43 L1021.68,210.37 L1022.68,210.31 L1023.68,210.25 L1024.69,210.19 L1025.69,210.12 L1026.69,210.05 L1027.69,209.98 L1028.69,209.90 L1029.69,209.82 L1030.70,209.73 L1031.70,209.65 L1032.70,209.55 L1033.70,209.46 L1034.70,209.36 L1035.70,209.26 L1036.71,209.15 L1037.71,209.04 L1038.71,208.93 L1039.71,208.82 L1040.71,208.70 L1041.71,208.59 L1042.72,208.47 L1043.72,208.35 L1044.72,208.22 L1045.72,208.10 L1046.72,207.97 L1047.72,207.85 L1048.73,207.72 L1049.73,207.59 L1050.73,207.47 L1051.73,207.34 L1052.73,207.21 L1053.74,207.08 L1054.74,206.95 L1055.74,206.82 L1056.74,206.70 L1057.74,206.57 L1058.74,206.45 L1059.75,206.32 L1060.75,206.20 L1061.75,206.07 L1062.75,205.95 L1063.75,205.82 L1064.75,205.69 L1065.76,205.56 L1066.76,205.43 L1067.76,205.30 L1068.76,205.16 L1069.76,205.02 L1070.76,204.87 L1071.77,204.72 L1072.77,204.57 L1073.77,204.41 L1074.77,204.24 L1075.77,204.07 L1076.77,203.89 L1077.78,203.70 L1078.78,203.51 L1079.78,203.31 L1080.78,203.10 L1081.78,202.88 L1082.78,202.65 L1083.79,202.41 L1084.79,202.16 L1085.79,201.90 L1086.79,201.63 L1087.79,201.34 L1088.79,201.04 L1089.80,200.73 L1090.80,200.40 L1091.80,200.06 L1092.80,199.71 L1093.80,199.33 L1094.80,198.95 L1095.81,198.54 L1096.81,198.12 L1097.81,197.68 L1098.81,197.23 L1099.81,196.75 L1100.81,196.26 L1101.82,195.76 L1102.82,195.23 L1103.82,194.68 L1104.82,194.12 L1105.82,193.54 L1106.83,192.94 L1107.83,192.32 L1108.83,191.68 L1109.83,191.03 L1110.83,190.37 L1111.83,189.70 L1112.84,189.02 L1113.84,188.34 L1114.84,187.67 L1115.84,187.00 L1116.84,186.33 L1117.84,185.69 L1118.85,185.05 L1119.85,184.44 L1120.85,183.85 L1121.85,183.28 L1122.85,182.74 L1123.85,182.21 L1124.86,181.71 L1125.86,181.21 L1126.86,180.72 L1127.86,180.22 L1128.86,179.71 L1129.86,179.19 L1130.87,178.65 L1131.87,178.10 L1132.87,177.54 L1133.87,176.99 L1134.87,176.45 L1135.87,175.93 L1136.88,175.45 L1137.88,175.00 L1138.88,174.59 L1139.88,174.24 L1140.88,173.93 L1141.88,173.67 L1142.89,173.45 L1143.89,173.28 L1144.89,173.16 L1145.89,173.09 L1146.89,173.07 L1147.89,173.10 L1148.90,173.20 L1149.90,173.37 L1150.90,173.63 L1151.90,173.97 L1152.90,174.41 L1153.90,174.94 L1154.91,175.54 L1155.91,176.19 L1156.91,176.87 L1157.91,177.56 L1158.91,178.25 L1159.92,178.93 L1160.92,179.61 L1161.92,180.30 L1162.92,181.01 L1163.92,181.75 L1164.92,182.53 L1165.93,183.35 L1166.93,184.21 L1167.93,185.10 L1168.93,186.01 L1169.93,186.94 L1170.93,187.87 L1171.94,188.81 L1172.94,189.73 L1173.94,190.65 L1174.94,191.57 L1175.94,192.48 L1176.94,193.40 L1177.95,194.32 L1178.95,195.24 L1179.95,196.17 L1180.95,197.09 L1181.95,198.01 L1182.95,198.91 L1183.96,199.79 L1184.96,200.64 L1185.96,201.46 L1186.96,202.24 L1187.96,202.97 L1188.96,203.67 L1189.97,204.33 L1190.97,204.95 L1191.97,205.54 L1192.97,206.10 L1193.97,206.63 L1194.97,207.14 L1195.98,207.62 L1196.98,208.09 L1197.98,208.53 L1198.98,208.96 L1199.98,209.38 L1200.98,209.78 L1201.99,210.17 L1202.99,210.55 L1203.99,210.91 L1204.99,211.27 L1205.99,211.62 L1206.99,211.96 L1208.00,212.28 L1209.00,212.56 L1210.00,212.76" fill="none" stroke="#000" stroke-width="1.5" stroke-linejoin="round"/>
<path d="M620.00,273.80 L621.00,273.80 L622.00,273.80 L623.01,273.80 L624.01,273.80 L625.01,273.80 L626.01,273.80 L627.01,273.80 L628.01,273.80 L629.02,273.80 L630.02,273.80 L631.02,273.80 L632.02,273.80 L633.02,273.80 L634.02,273.80 L635.03,273.80 L636.03,273.80 L637.03,273.80 L638.03,273.81 L639.03,273.81 L640.03,273.81 L641.04,273.81 L642.04,273.81 L643.04,273.81 L644.04,273.82 L645.04,273.82 L646.04,273.82 L647.05,273.82 L648.05,273.83 L649.05,273.83 L650.05,273.83 L651.05,273.83 L652.05,273.84 L653.06,273.84 L654.06,273.84 L655.06,273.85 L656.06,273.85 L657.06,273.86 L658.06,273.86 L659.07,273.86 L660.07,273.87 L661.07,273.87 L662.07,273.88 L663.07,273.88 L664.07,273.89 L665.08,273.89 L666.08,273.90 L667.08,273.91 L668.08,273.91 L669.08,273.92 L670.08,273.92 L671.09,273.93 L672.09,273.94 L673.09,273.94 L674.09,273.95 L675.09,273.96 L676.10,273.97 L677.10,273.97 L678.10,273.98 L679.10,273.99 L680.10,274.00 L681.10,274.01 L682.11,274.01 L683.11,274.02 L684.11,274.03 L685.11,274.04 L686.11,274.05 L687.11,274.06 L688.12,274.07 L689.12,274.08 L690.12,274.09 L691.12,274.10 L692.12,274.11 L693.12,274.12 L694.13,274.13 L695.13,274.14 L696.13,274.15 L697.13,274.17 L698.13,274.18 L699.13,274.19 L700.14,274.20 L701.14,274.21 L702.14,274.23 L703.14,274.24 L704.14,274.25 L705.14,274.27 L706.15,274.28 L707.15,274.29 L708.15,274.31 L709.15,274.32 L710.15,274.33 L711.15,274.35 L712.16,274.36 L713.16,274.37 L714.16,274.39 L715.16,274.40 L716.16,274.41 L717.16,274.42 L718.17,274.44 L719.17,274.45 L720.17,274.46 L721.17,274.47 L722.17,274.48 L723.17,274.50 L724.18,274.51 L725.18,274.52 L726.18,274.53 L727.18,274.54 L728.18,274.55 L729.19,274.55 L730.19,274.56 L731.19,274.57 L732.19,274.58 L733.19,274.59 L734.19,274.59 L735.20,274.60 L736.20,274.60 L737.20,274.61 L738.20,274.61 L739.20,274.61 L740.20,274.62 L741.21,274.62 L742.21,274.62 L743.21,274.62 L744.21,274.62 L745.21,274.62 L746.21,274.61 L747.22,274.61 L748.22,274.61 L749.22,274.60 L750.22,274.59 L751.22,274.59 L752.22,274.58 L753.23,274.57 L754.23,274.56 L755.23,274.55 L756.23,274.54 L757.23,274.53 L758.23,274.51 L759.24,274.50 L760.24,274.48 L761.24,274.47 L762.24,274.45 L763.24,274.44 L764.24,274.42 L765.25,274.40 L766.25,274.38 L767.25,274.36 L768.25,274.34 L769.25,274.32 L770.25,274.29 L771.26,274.27 L772.26,274.25 L773.26,274.22 L774.26,274.20 L775.26,274.18 L776.26,274.15 L777.27,274.12 L778.27,274.10 L779.27,274.07 L780.27,274.04 L781.27,274.01 L782.28,273.98 L783.28,273.95 L784.28,273.93 L785.28,273.89 L786.28,273.86 L787.28,273.83 L788.29,273.80 L789.29,273.77 L790.29,273.74 L791.29,273.71 L792.29,273.67 L793.29,273.64 L794.30,273.61 L795.30,273.57 L796.30,273.54 L797.30,273.51 L798.30,273.47 L799.30,273.44 L800.31,273.40 L801.31,273.37 L802.31,273.33 L803.31,273.30 L804.31,273.26 L805.31,273.23 L806.32,273.19 L807.32,273.16 L808.32,273.12 L809.32,273.09 L810.32,273.05 L811.32,273.01 L812.33,272.98 L813.33,272.94 L814.33,272.91 L815.33,272.87 L816.33,272.84 L817.33,272.80 L818.34,272.76 L819.34,272.73 L820.34,272.69 L821.34,272.66 L822.34,272.62 L823.34,272.59 L824.35,272.55 L825.35,272.52 L826.35,272.49 L827.35,272.45 L828.35,272.42 L829.35,272.38 L830.36,272.35 L831.36,272.32 L832.36,272.29 L833.36,272.25 L834.36,272.22 L835.37,272.19 L836.37,272.16 L837.37,272.13 L838.37,272.10 L839.37,272.07 L840.37,272.04 L841.38,272.01 L842.38,271.98 L843.38,271.95 L844.38,271.92 L845.38,271.89 L846.38,271.86 L847.39,271.84 L848.39,271.81 L849.39,271.78 L850.39,271.76 L851.39,271.73 L852.39,271.70 L853.40,271.68 L854.40,271.65 L855.40,271.63 L856.40,271.60 L857.40,271.58 L858.40,271.55 L859.41,271.53 L860.41,271.51 L861.41,271.48 L862.41,271.46 L863.41,271.44 L864.41,271.42 L865.42,271.39 L866.42,271.37 L867.42,271.35 L868.42,271.33 L869.42,271.31 L870.42,271.29 L871.43,271.27 L872.43,271.25 L873.43,271.23 L874.43,271.21 L875.43,271.19 L876.43,271.17 L877.44,271.15 L878.44,271.14 L879.44,271.12 L880.44,271.10 L881.44,271.08 L882.44,271.06 L883.45,271.05 L884.45,271.03 L885.45,271.01 L886.45,271.00 L887.45,270.98 L888.46,270.97 L889.46,270.95 L890.46,270.94 L891.46,270.92 L892.46,270.91 L893.46,270.89 L894.47,270.88 L895.47,270.86 L896.47,270.85 L897.47,270.84 L898.47,270.82 L899.47,270.81 L900.48,270.80 L901.48,270.78 L902.48,270.77 L903.48,270.76 L904.48,270.75 L905.48,270.73 L906.49,270.72 L907.49,270.71 L908.49,270.70 L909.49,270.69 L910.49,270.68 L911.49,270.67 L912.50,270.66 L913.50,270.65 L914.50,270.64 L915.50,270.63 L916.50,270.62 L917.50,270.61 L918.51,270.60 L919.51,270.59 L920.51,270.58 L921.51,270.57 L922.51,270.56 L923.51,270.55 L924.52,270.54 L925.52,270.54 L926.52,270.53 L927.52,270.52 L928.52,270.51 L929.52,270.50 L930.53,270.50 L931.53,270.49 L932.53,270.48 L933.53,270.47 L934.53,270.47 L935.53,270.46 L936.54,270.45 L937.54,270.45 L938.54,270.44 L939.54,270.43 L940.54,270.42 L941.54,270.42 L942.55,270.41 L943.55,270.40 L944.55,270.39 L945.55,270.39 L946.55,270.38 L947.56,270.37 L948.56,270.36 L949.56,270.35 L950.56,270.34 L951.56,270.33 L952.56,270.32 L953.57,270.31 L954.57,270.30 L955.57,270.28 L956.57,270.27 L957.57,270.26 L958.57,270.24 L959.58,270.23 L960.58,270.21 L961.58,270.20 L962.58,270.18 L963.58,270.16 L964.58,270.15 L965.59,270.13 L966.59,270.11 L967.59,270.09 L968.59,270.07 L969.59,270.04 L970.59,270.02 L971.60,270.00 L972.60,269.97 L973.60,269.94 L974.60,269.92 L975.60,269.89 L976.60,269.86 L977.61,269.83 L978.61,269.80 L979.61,269.76 L980.61,269.73 L981.61,269.69 L982.61,269.66 L983.62,269.62 L984.62,269.58 L985.62,269.54 L986.62,269.50 L987.62,269.46 L988.62,269.41 L989.63,269.37 L990.63,269.32 L991.63,269.27 L992.63,269.22 L993.63,269.17 L994.63,269.11 L995.64,269.06 L996.64,269.00 L997.64,268.94 L998.64,268.88 L999.64,268.82 L1000.65,268.76 L1001.65,268.69 L1002.65,268.62 L1003.65,268.56 L1004.65,268.49 L1005.65,268.42 L1006.66,268.34 L1007.66,268.27 L1008.66,268.20 L1009.66,268.13 L1010.66,268.05 L1011.66,267.98 L1012.67,267.90 L1013.67,267.83 L1014.67,267.75 L1015.67,267.68 L1016.67,267.60 L1017.67,267.53 L1018.68,267.45 L1019.68,267.38 L1020.68,267.31 L1021.68,267.24 L1022.68,267.17 L1023.68,267.10 L1024.69,267.03 L1025.69,266.97 L1026.69,266.90 L1027.69,266.84 L1028.69,266.78 L1029.69,266.72 L1030.70,266.66 L1031.70,266.61 L1032.70,266.55 L1033.70,266.50 L1034.70,266.45 L1035.70,266.40 L1036.71,266.34 L1037.71,266.29 L1038.71,266.23 L1039.71,266.18 L1040.71,266.12 L1041.71,266.06 L1042.72,265.99 L1043.72,265.93 L1044.72,265.85 L1045.72,265.78 L1046.72,265.70 L1047.72,265.61 L1048.73,265.52 L1049.73,265.42 L1050.73,265.32 L1051.73,265.21 L1052.73,265.09 L1053.74,264.97 L1054.74,264.84 L1055.74,264.70 L1056.74,264.56 L1057.74,264.41 L1058.74,264.26 L1059.75,264.10 L1060.75,263.93 L1061.75,263.76 L1062.75,263.59 L1063.75,263.41 L1064.75,263.23 L1065.76,263.04 L1066.76,262.85 L1067.76,262.66 L1068.76,262.46 L1069.76,262.26 L1070.76,262.06 L1071.77,261.85 L1072.77,261.64 L1073.77,261.43 L1074.77,261.21 L1075.77,260.99 L1076.77,260.77 L1077.78,260.55 L1078.78,260.32 L1079.78,260.08 L1080.78,259.84 L1081.78,259.59 L1082.78,259.34 L1083.79,259.08 L1084.79,258.82 L1085.79,258.54 L1086.79,258.26 L1087.79,257.97 L1088.79,257.68 L1089.80,257.37 L1090.80,257.05 L1091.80,256.73 L1092.80,256.39 L1093.80,256.05 L1094.80,255.69 L1095.81,255.33 L1096.81,254.96 L1097.81,254.58 L1098.81,254.19 L1099.81,253.80 L1100.81,253.40 L1101.82,253.01 L1102.82,252.61 L1103.82,252.21 L1104.82,251.81 L1105.82,251.42 L1106.83,251.02 L1107.83,250.64 L1108.83,250.25 L1109.83,249.87 L1110.83,249.50 L1111.83,249.12 L1112.84,248.75 L1113.84,248.38 L1114.84,248.02 L1115.84,247.65 L1116.84,247.28 L1117.84,246.91 L1118.85,246.53 L1119.85,246.16 L1120.85,245.77 L1121.85,245.39 L1122.85,245.00 L1123.85,244.60 L1124.86,244.21 L1125.86,243.81 L1126.86,243.41 L1127.86,243.01 L1128.86,242.62 L1129.86,242.23 L1130.87,241.85 L1131.87,241.48 L1132.87,241.12 L1133.87,240.78 L1134.87,240.45 L1135.87,240.13 L1136.88,239.84 L1137.88,239.57 L1138.88,239.33 L1139.88,239.13 L1140.88,238.97 L1141.88,238.86 L1142.89,238.80 L1143.89,238.80 L1144.89,238.86 L1145.89,238.97 L1146.89,239.14 L1147.89,239.36 L1148.90,239.63 L1149.90,239.93 L1150.90,240.28 L1151.90,240.67 L1152.90,241.08 L1153.90,241.53 L1154.91,242.00 L1155.91,242.50 L1156.91,243.01 L1157.91,243.55 L1158.91,244.10 L1159.92,244.67 L1160.92,245.27 L1161.92,245.88 L1162.92,246.52 L1163.92,247.18 L1164.92,247.87 L1165.93,248.59 L1166.93,249.33 L1167.93,250.11 L1168.93,250.90 L1169.93,251.73 L1170.93,252.57 L1171.94,253.43 L1172.94,254.31 L1173.94,255.20 L1174.94,256.10 L1175.94,256.99 L1176.94,257.86 L1177.95,258.72 L1178.95,259.55 L1179.95,260.36 L1180.95,261.13 L1181.95,261.86 L1182.95,262.56 L1183.96,263.22 L1184.96,263.84 L1185.96,264.43 L1186.96,264.98 L1187.96,265.49 L1188.96,265.97 L1189.97,266.41 L1190.97,266.83 L1191.97,267.23 L1192.97,267.60 L1193.97,267.96 L1194.97,268.29 L1195.98,268.62 L1196.98,268.93 L1197.98,269.24 L1198.98,269.54 L1199.98,269.83 L1200.98,270.11 L1201.99,270.39 L1202.99,270.66 L1203.99,270.93 L1204.99,271.20 L1205.99,271.46 L1206.99,271.72 L1208.00,271.96 L1209.00,272.16 L1210.00,272.32 L1210.00,275.50 L620.00,275.50Z" fill="#B30000"/>
<line x1="1050.75" y1="275.5" x2="1050.75" y2="265.32" stroke="#000" stroke-width="1.5"/>
<line x1="1121.75" y1="275.5" x2="1121.75" y2="245.43" stroke="#000" stroke-width="1.5"/>
<line x1="1148.25" y1="275.5" x2="1148.25" y2="239.46" stroke="#000" stroke-width="1.5"/>
<path d="M620.00,273.80 L621.00,273.80 L622.00,273.80 L623.01,273.80 L624.01,273.80 L625.01,273.80 L626.01,273.80 L627.01,273.80 L628.01,273.80 L629.02,273.80 L630.02,273.80 L631.02,273.80 L632.02,273.80 L633.02,273.80 L634.02,273.80 L635.03,273.80 L636.03,273.80 L637.03,273.80 L638.03,273.81 L639.03,273.81 L640.03,273.81 L641.04,273.81 L642.04,273.81 L643.04,273.81 L644.04,273.82 L645.04,273.82 L646.04,273.82 L647.05,273.82 L648.05,273.83 L649.05,273.83 L650.05,273.83 L651.05,273.83 L652.05,273.84 L653.06,273.84 L654.06,273.84 L655.06,273.85 L656.06,273.85 L657.06,273.86 L658.06,273.86 L659.07,273.86 L660.07,273.87 L661.07,273.87 L662.07,273.88 L663.07,273.88 L664.07,273.89 L665.08,273.89 L666.08,273.90 L667.08,273.91 L668.08,273.91 L669.08,273.92 L670.08,273.92 L671.09,273.93 L672.09,273.94 L673.09,273.94 L674.09,273.95 L675.09,273.96 L676.10,273.97 L677.10,273.97 L678.10,273.98 L679.10,273.99 L680.10,274.00 L681.10,274.01 L682.11,274.01 L683.11,274.02 L684.11,274.03 L685.11,274.04 L686.11,274.05 L687.11,274.06 L688.12,274.07 L689.12,274.08 L690.12,274.09 L691.12,274.10 L692.12,274.11 L693.12,274.12 L694.13,274.13 L695.13,274.14 L696.13,274.15 L697.13,274.17 L698.13,274.18 L699.13,274.19 L700.14,274.20 L701.14,274.21 L702.14,274.23 L703.14,274.24 L704.14,274.25 L705.14,274.27 L706.15,274.28 L707.15,274.29 L708.15,274.31 L709.15,274.32 L710.15,274.33 L711.15,274.35 L712.16,274.36 L713.16,274.37 L714.16,274.39 L715.16,274.40 L716.16,274.41 L717.16,274.42 L718.17,274.44 L719.17,274.45 L720.17,274.46 L721.17,274.47 L722.17,274.48 L723.17,274.50 L724.18,274.51 L725.18,274.52 L726.18,274.53 L727.18,274.54 L728.18,274.55 L729.19,274.55 L730.19,274.56 L731.19,274.57 L732.19,274.58 L733.19,274.59 L734.19,274.59 L735.20,274.60 L736.20,274.60 L737.20,274.61 L738.20,274.61 L739.20,274.61 L740.20,274.62 L741.21,274.62 L742.21,274.62 L743.21,274.62 L744.21,274.62 L745.21,274.62 L746.21,274.61 L747.22,274.61 L748.22,274.61 L749.22,274.60 L750.22,274.59 L751.22,274.59 L752.22,274.58 L753.23,274.57 L754.23,274.56 L755.23,274.55 L756.23,274.54 L757.23,274.53 L758.23,274.51 L759.24,274.50 L760.24,274.48 L761.24,274.47 L762.24,274.45 L763.24,274.44 L764.24,274.42 L765.25,274.40 L766.25,274.38 L767.25,274.36 L768.25,274.34 L769.25,274.32 L770.25,274.29 L771.26,274.27 L772.26,274.25 L773.26,274.22 L774.26,274.20 L775.26,274.18 L776.26,274.15 L777.27,274.12 L778.27,274.10 L779.27,274.07 L780.27,274.04 L781.27,274.01 L782.28,273.98 L783.28,273.95 L784.28,273.93 L785.28,273.89 L786.28,273.86 L787.28,273.83 L788.29,273.80 L789.29,273.77 L790.29,273.74 L791.29,273.71 L792.29,273.67 L793.29,273.64 L794.30,273.61 L795.30,273.57 L796.30,273.54 L797.30,273.51 L798.30,273.47 L799.30,273.44 L800.31,273.40 L801.31,273.37 L802.31,273.33 L803.31,273.30 L804.31,273.26 L805.31,273.23 L806.32,273.19 L807.32,273.16 L808.32,273.12 L809.32,273.09 L810.32,273.05 L811.32,273.01 L812.33,272.98 L813.33,272.94 L814.33,272.91 L815.33,272.87 L816.33,272.84 L817.33,272.80 L818.34,272.76 L819.34,272.73 L820.34,272.69 L821.34,272.66 L822.34,272.62 L823.34,272.59 L824.35,272.55 L825.35,272.52 L826.35,272.49 L827.35,272.45 L828.35,272.42 L829.35,272.38 L830.36,272.35 L831.36,272.32 L832.36,272.29 L833.36,272.25 L834.36,272.22 L835.37,272.19 L836.37,272.16 L837.37,272.13 L838.37,272.10 L839.37,272.07 L840.37,272.04 L841.38,272.01 L842.38,271.98 L843.38,271.95 L844.38,271.92 L845.38,271.89 L846.38,271.86 L847.39,271.84 L848.39,271.81 L849.39,271.78 L850.39,271.76 L851.39,271.73 L852.39,271.70 L853.40,271.68 L854.40,271.65 L855.40,271.63 L856.40,271.60 L857.40,271.58 L858.40,271.55 L859.41,271.53 L860.41,271.51 L861.41,271.48 L862.41,271.46 L863.41,271.44 L864.41,271.42 L865.42,271.39 L866.42,271.37 L867.42,271.35 L868.42,271.33 L869.42,271.31 L870.42,271.29 L871.43,271.27 L872.43,271.25 L873.43,271.23 L874.43,271.21 L875.43,271.19 L876.43,271.17 L877.44,271.15 L878.44,271.14 L879.44,271.12 L880.44,271.10 L881.44,271.08 L882.44,271.06 L883.45,271.05 L884.45,271.03 L885.45,271.01 L886.45,271.00 L887.45,270.98 L888.46,270.97 L889.46,270.95 L890.46,270.94 L891.46,270.92 L892.46,270.91 L893.46,270.89 L894.47,270.88 L895.47,270.86 L896.47,270.85 L897.47,270.84 L898.47,270.82 L899.47,270.81 L900.48,270.80 L901.48,270.78 L902.48,270.77 L903.48,270.76 L904.48,270.75 L905.48,270.73 L906.49,270.72 L907.49,270.71 L908.49,270.70 L909.49,270.69 L910.49,270.68 L911.49,270.67 L912.50,270.66 L913.50,270.65 L914.50,270.64 L915.50,270.63 L916.50,270.62 L917.50,270.61 L918.51,270.60 L919.51,270.59 L920.51,270.58 L921.51,270.57 L922.51,270.56 L923.51,270.55 L924.52,270.54 L925.52,270.54 L926.52,270.53 L927.52,270.52 L928.52,270.51 L929.52,270.50 L930.53,270.50 L931.53,270.49 L932.53,270.48 L933.53,270.47 L934.53,270.47 L935.53,270.46 L936.54,270.45 L937.54,270.45 L938.54,270.44 L939.54,270.43 L940.54,270.42 L941.54,270.42 L942.55,270.41 L943.55,270.40 L944.55,270.39 L945.55,270.39 L946.55,270.38 L947.56,270.37 L948.56,270.36 L949.56,270.35 L950.56,270.34 L951.56,270.33 L952.56,270.32 L953.57,270.31 L954.57,270.30 L955.57,270.28 L956.57,270.27 L957.57,270.26 L958.57,270.24 L959.58,270.23 L960.58,270.21 L961.58,270.20 L962.58,270.18 L963.58,270.16 L964.58,270.15 L965.59,270.13 L966.59,270.11 L967.59,270.09 L968.59,270.07 L969.59,270.04 L970.59,270.02 L971.60,270.00 L972.60,269.97 L973.60,269.94 L974.60,269.92 L975.60,269.89 L976.60,269.86 L977.61,269.83 L978.61,269.80 L979.61,269.76 L980.61,269.73 L981.61,269.69 L982.61,269.66 L983.62,269.62 L984.62,269.58 L985.62,269.54 L986.62,269.50 L987.62,269.46 L988.62,269.41 L989.63,269.37 L990.63,269.32 L991.63,269.27 L992.63,269.22 L993.63,269.17 L994.63,269.11 L995.64,269.06 L996.64,269.00 L997.64,268.94 L998.64,268.88 L999.64,268.82 L1000.65,268.76 L1001.65,268.69 L1002.65,268.62 L1003.65,268.56 L1004.65,268.49 L1005.65,268.42 L1006.66,268.34 L1007.66,268.27 L1008.66,268.20 L1009.66,268.13 L1010.66,268.05 L1011.66,267.98 L1012.67,267.90 L1013.67,267.83 L1014.67,267.75 L1015.67,267.68 L1016.67,267.60 L1017.67,267.53 L1018.68,267.45 L1019.68,267.38 L1020.68,267.31 L1021.68,267.24 L1022.68,267.17 L1023.68,267.10 L1024.69,267.03 L1025.69,266.97 L1026.69,266.90 L1027.69,266.84 L1028.69,266.78 L1029.69,266.72 L1030.70,266.66 L1031.70,266.61 L1032.70,266.55 L1033.70,266.50 L1034.70,266.45 L1035.70,266.40 L1036.71,266.34 L1037.71,266.29 L1038.71,266.23 L1039.71,266.18 L1040.71,266.12 L1041.71,266.06 L1042.72,265.99 L1043.72,265.93 L1044.72,265.85 L1045.72,265.78 L1046.72,265.70 L1047.72,265.61 L1048.73,265.52 L1049.73,265.42 L1050.73,265.32 L1051.73,265.21 L1052.73,265.09 L1053.74,264.97 L1054.74,264.84 L1055.74,264.70 L1056.74,264.56 L1057.74,264.41 L1058.74,264.26 L1059.75,264.10 L1060.75,263.93 L1061.75,263.76 L1062.75,263.59 L1063.75,263.41 L1064.75,263.23 L1065.76,263.04 L1066.76,262.85 L1067.76,262.66 L1068.76,262.46 L1069.76,262.26 L1070.76,262.06 L1071.77,261.85 L1072.77,261.64 L1073.77,261.43 L1074.77,261.21 L1075.77,260.99 L1076.77,260.77 L1077.78,260.55 L1078.78,260.32 L1079.78,260.08 L1080.78,259.84 L1081.78,259.59 L1082.78,259.34 L1083.79,259.08 L1084.79,258.82 L1085.79,258.54 L1086.79,258.26 L1087.79,257.97 L1088.79,257.68 L1089.80,257.37 L1090.80,257.05 L1091.80,256.73 L1092.80,256.39 L1093.80,256.05 L1094.80,255.69 L1095.81,255.33 L1096.81,254.96 L1097.81,254.58 L1098.81,254.19 L1099.81,253.80 L1100.81,253.40 L1101.82,253.01 L1102.82,252.61 L1103.82,252.21 L1104.82,251.81 L1105.82,251.42 L1106.83,251.02 L1107.83,250.64 L1108.83,250.25 L1109.83,249.87 L1110.83,249.50 L1111.83,249.12 L1112.84,248.75 L1113.84,248.38 L1114.84,248.02 L1115.84,247.65 L1116.84,247.28 L1117.84,246.91 L1118.85,246.53 L1119.85,246.16 L1120.85,245.77 L1121.85,245.39 L1122.85,245.00 L1123.85,244.60 L1124.86,244.21 L1125.86,243.81 L1126.86,243.41 L1127.86,243.01 L1128.86,242.62 L1129.86,242.23 L1130.87,241.85 L1131.87,241.48 L1132.87,241.12 L1133.87,240.78 L1134.87,240.45 L1135.87,240.13 L1136.88,239.84 L1137.88,239.57 L1138.88,239.33 L1139.88,239.13 L1140.88,238.97 L1141.88,238.86 L1142.89,238.80 L1143.89,238.80 L1144.89,238.86 L1145.89,238.97 L1146.89,239.14 L1147.89,239.36 L1148.90,239.63 L1149.90,239.93 L1150.90,240.28 L1151.90,240.67 L1152.90,241.08 L1153.90,241.53 L1154.91,242.00 L1155.91,242.50 L1156.91,243.01 L1157.91,243.55 L1158.91,244.10 L1159.92,244.67 L1160.92,245.27 L1161.92,245.88 L1162.92,246.52 L1163.92,247.18 L1164.92,247.87 L1165.93,248.59 L1166.93,249.33 L1167.93,250.11 L1168.93,250.90 L1169.93,251.73 L1170.93,252.57 L1171.94,253.43 L1172.94,254.31 L1173.94,255.20 L1174.94,256.10 L1175.94,256.99 L1176.94,257.86 L1177.95,258.72 L1178.95,259.55 L1179.95,260.36 L1180.95,261.13 L1181.95,261.86 L1182.95,262.56 L1183.96,263.22 L1184.96,263.84 L1185.96,264.43 L1186.96,264.98 L1187.96,265.49 L1188.96,265.97 L1189.97,266.41 L1190.97,266.83 L1191.97,267.23 L1192.97,267.60 L1193.97,267.96 L1194.97,268.29 L1195.98,268.62 L1196.98,268.93 L1197.98,269.24 L1198.98,269.54 L1199.98,269.83 L1200.98,270.11 L1201.99,270.39 L1202.99,270.66 L1203.99,270.93 L1204.99,271.20 L1205.99,271.46 L1206.99,271.72 L1208.00,271.96 L1209.00,272.16 L1210.00,272.32" fill="none" stroke="#000" stroke-width="1.5" stroke-linejoin="round"/>
</g>
<text x="829.20" y="85.75" font-size="17.6" text-anchor="middle" font-weight="normal" fill="#000" >93.8% [89.9–96.4]</text>
<text x="829.20" y="144.35" font-size="17.6" text-anchor="middle" font-weight="normal" fill="#000" >95.6% [91.9–98]</text>
<text x="829.20" y="203.15" font-size="17.6" text-anchor="middle" font-weight="normal" fill="#000" >98.8% [97.4–99.5]</text>
<text x="829.20" y="261.75" font-size="17.6" text-anchor="middle" font-weight="normal" fill="#000" >98.5% [96.5–99.3]</text>
<rect x="632.5" y="38.8" width="564.5" height="25.700000000000003" fill="#D9D9D9" stroke="#333333" stroke-width="1.1"/>
<text x="914.75" y="56.40" font-size="13.5" text-anchor="middle" font-weight="normal" fill="#1A1A1A" >Portion of Total Activity that is Light</text>
<rect x="632.5" y="64.5" width="564.5" height="245.5" fill="none" stroke="#333333" stroke-width="1.1"/>
<line x1="45" y1="99.5" x2="50" y2="99.5" stroke="#333333" stroke-width="1.1"/>
<text x="41.50" y="104.30" font-size="13.44" text-anchor="end" font-weight="normal" fill="#4D4D4D" >0/1</text>
<line x1="45" y1="158.1" x2="50" y2="158.1" stroke="#333333" stroke-width="1.1"/>
<text x="41.50" y="162.90" font-size="13.44" text-anchor="end" font-weight="normal" fill="#4D4D4D" >2</text>
<line x1="45" y1="216.9" x2="50" y2="216.9" stroke="#333333" stroke-width="1.1"/>
<text x="41.50" y="221.70" font-size="13.44" text-anchor="end" font-weight="normal" fill="#4D4D4D" >3</text>
<line x1="45" y1="275.5" x2="50" y2="275.5" stroke="#333333" stroke-width="1.1"/>
<text x="41.50" y="280.30" font-size="13.44" text-anchor="end" font-weight="normal" fill="#4D4D4D" >4</text>
<line x1="71.5" y1="310.0" x2="71.5" y2="315.0" stroke="#333333" stroke-width="1.1"/>
<text x="71.50" y="327.70" font-size="13.44" text-anchor="middle" font-weight="normal" fill="#4D4D4D" >0.0</text>
<line x1="180.0" y1="310.0" x2="180.0" y2="315.0" stroke="#333333" stroke-width="1.1"/>
<text x="180.00" y="327.70" font-size="13.44" text-anchor="middle" font-weight="normal" fill="#4D4D4D" >2.5</text>
<line x1="288.5" y1="310.0" x2="288.5" y2="315.0" stroke="#333333" stroke-width="1.1"/>
<text x="288.50" y="327.70" font-size="13.44" text-anchor="middle" font-weight="normal" fill="#4D4D4D" >5.0</text>
<line x1="397.0" y1="310.0" x2="397.0" y2="315.0" stroke="#333333" stroke-width="1.1"/>
<text x="397.00" y="327.70" font-size="13.44" text-anchor="middle" font-weight="normal" fill="#4D4D4D" >7.5</text>
<line x1="505.5" y1="310.0" x2="505.5" y2="315.0" stroke="#333333" stroke-width="1.1"/>
<text x="505.50" y="327.70" font-size="13.44" text-anchor="middle" font-weight="normal" fill="#4D4D4D" >10.0</text>
<line x1="614.0" y1="310.0" x2="614.0" y2="315.0" stroke="#333333" stroke-width="1.1"/>
<text x="614.00" y="327.70" font-size="13.44" text-anchor="middle" font-weight="normal" fill="#4D4D4D" >12.5</text>
<line x1="658.5" y1="310.0" x2="658.5" y2="315.0" stroke="#333333" stroke-width="1.1"/>
<text x="658.50" y="327.70" font-size="13.44" text-anchor="middle" font-weight="normal" fill="#4D4D4D" >85</text>
<line x1="829.35" y1="310.0" x2="829.35" y2="315.0" stroke="#333333" stroke-width="1.1"/>
<text x="829.35" y="327.70" font-size="13.44" text-anchor="middle" font-weight="normal" fill="#4D4D4D" >90</text>
<line x1="1000.2" y1="310.0" x2="1000.2" y2="315.0" stroke="#333333" stroke-width="1.1"/>
<text x="1000.20" y="327.70" font-size="13.44" text-anchor="middle" font-weight="normal" fill="#4D4D4D" >95</text>
<line x1="1171.0500000000002" y1="310.0" x2="1171.0500000000002" y2="315.0" stroke="#333333" stroke-width="1.1"/>
<text x="1171.05" y="327.70" font-size="13.44" text-anchor="middle" font-weight="normal" fill="#4D4D4D" >100</text>
<text x="307.40" y="348.10" font-size="17" text-anchor="middle" font-weight="normal" fill="#000" >Light physical activity (h/d)</text>
<text x="913.75" y="348.10" font-size="17" text-anchor="middle" font-weight="normal" fill="#000" >Portion of total activity that is light (%)</text>
<text x="0" y="0" font-size="17.4" text-anchor="middle" transform="translate(15.4,188.2) rotate(-90)">CKM stage</text>
<path d="M62.00,458.64 L63.01,458.54 L64.01,458.41 L65.02,458.27 L66.02,458.12 L67.03,457.97 L68.04,457.82 L69.04,457.68 L70.05,457.55 L71.05,457.42 L72.06,457.30 L73.06,457.20 L74.07,457.10 L75.08,457.01 L76.08,456.94 L77.09,456.87 L78.09,456.81 L79.10,456.77 L80.11,456.73 L81.11,456.69 L82.12,456.67 L83.12,456.65 L84.13,456.63 L85.14,456.61 L86.14,456.59 L87.15,456.58 L88.15,456.56 L89.16,456.54 L90.17,456.52 L91.17,456.50 L92.18,456.47 L93.18,456.43 L94.19,456.38 L95.19,456.33 L96.20,456.27 L97.21,456.19 L98.21,456.11 L99.22,456.01 L100.22,455.89 L101.23,455.76 L102.24,455.62 L103.24,455.46 L104.25,455.28 L105.25,455.08 L106.26,454.86 L107.27,454.61 L108.27,454.35 L109.28,454.06 L110.28,453.74 L111.29,453.40 L112.30,453.03 L113.30,452.64 L114.31,452.22 L115.31,451.78 L116.32,451.31 L117.32,450.83 L118.33,450.32 L119.34,449.80 L120.34,449.27 L121.35,448.72 L122.35,448.16 L123.36,447.60 L124.37,447.03 L125.37,446.45 L126.38,445.88 L127.38,445.30 L128.39,444.73 L129.40,444.16 L130.40,443.60 L131.41,443.05 L132.41,442.51 L133.42,441.99 L134.43,441.48 L135.43,440.99 L136.44,440.51 L137.44,440.06 L138.45,439.63 L139.45,439.22 L140.46,438.84 L141.47,438.47 L142.47,438.13 L143.48,437.80 L144.48,437.49 L145.49,437.19 L146.50,436.92 L147.50,436.65 L148.51,436.40 L149.51,436.16 L150.52,435.93 L151.53,435.71 L152.53,435.50 L153.54,435.29 L154.54,435.10 L155.55,434.90 L156.56,434.71 L157.56,434.52 L158.57,434.34 L159.57,434.15 L160.58,433.97 L161.58,433.78 L162.59,433.59 L163.60,433.39 L164.60,433.19 L165.61,432.98 L166.61,432.77 L167.62,432.55 L168.63,432.32 L169.63,432.07 L170.64,431.82 L171.64,431.56 L172.65,431.29 L173.66,431.01 L174.66,430.72 L175.67,430.43 L176.67,430.13 L177.68,429.84 L178.69,429.54 L179.69,429.24 L180.70,428.94 L181.70,428.65 L182.71,428.36 L183.71,428.08 L184.72,427.80 L185.73,427.54 L186.73,427.28 L187.74,427.04 L188.74,426.81 L189.75,426.60 L190.76,426.40 L191.76,426.23 L192.77,426.07 L193.77,425.93 L194.78,425.81 L195.79,425.72 L196.79,425.65 L197.80,425.60 L198.80,425.57 L199.81,425.57 L200.81,425.59 L201.82,425.63 L202.83,425.69 L203.83,425.77 L204.84,425.87 L205.84,426.00 L206.85,426.14 L207.86,426.30 L208.86,426.47 L209.87,426.67 L210.87,426.88 L211.88,427.11 L212.89,427.36 L213.89,427.62 L214.90,427.90 L215.90,428.19 L216.91,428.49 L217.92,428.81 L218.92,429.15 L219.93,429.49 L220.93,429.85 L221.94,430.23 L222.94,430.61 L223.95,431.01 L224.96,431.42 L225.96,431.84 L226.97,432.27 L227.97,432.72 L228.98,433.18 L229.99,433.64 L230.99,434.13 L232.00,434.62 L233.00,435.12 L234.01,435.64 L235.02,436.17 L236.02,436.71 L237.03,437.26 L238.03,437.82 L239.04,438.39 L240.05,438.97 L241.05,439.56 L242.06,440.16 L243.06,440.76 L244.07,441.37 L245.07,441.99 L246.08,442.61 L247.09,443.23 L248.09,443.86 L249.10,444.48 L250.10,445.11 L251.11,445.73 L252.12,446.36 L253.12,446.98 L254.13,447.60 L255.13,448.21 L256.14,448.82 L257.15,449.42 L258.15,450.02 L259.16,450.60 L260.16,451.18 L261.17,451.75 L262.18,452.30 L263.18,452.85 L264.19,453.38 L265.19,453.90 L266.20,454.41 L267.20,454.91 L268.21,455.39 L269.22,455.86 L270.22,456.32 L271.23,456.77 L272.23,457.21 L273.24,457.63 L274.25,458.05 L275.25,458.45 L276.26,458.84 L277.26,459.22 L278.27,459.59 L279.28,459.95 L280.28,460.30 L281.29,460.63 L282.29,460.96 L283.30,461.28 L284.31,461.58 L285.31,461.88 L286.32,462.16 L287.32,462.44 L288.33,462.70 L289.33,462.96 L290.34,463.20 L291.35,463.44 L292.35,463.67 L293.36,463.89 L294.36,464.10 L295.37,464.30 L296.38,464.50 L297.38,464.69 L298.39,464.87 L299.39,465.04 L300.40,465.21 L301.41,465.38 L302.41,465.54 L303.42,465.69 L304.42,465.84 L305.43,465.98 L306.44,466.12 L307.44,466.26 L308.45,466.39 L309.45,466.53 L310.46,466.65 L311.46,466.78 L312.47,466.90 L313.48,467.02 L314.48,467.14 L315.49,467.25 L316.49,467.35 L317.50,467.42 L317.50,468.00 L62.00,468.00Z" fill="#FDD6A1"/>
<rect x="49.5" y="488.9" width="280.0" height="244.89999999999998" fill="#fff"/>
<line x1="62.2" y1="488.9" x2="62.2" y2="733.8" stroke="#EBEBEB" stroke-width="1.25"/>
<line x1="94.05000000000001" y1="488.9" x2="94.05000000000001" y2="733.8" stroke="#EBEBEB" stroke-width="0.65"/>
<line x1="125.9" y1="488.9" x2="125.9" y2="733.8" stroke="#EBEBEB" stroke-width="1.25"/>
<line x1="157.75" y1="488.9" x2="157.75" y2="733.8" stroke="#EBEBEB" stroke-width="0.65"/>
<line x1="189.60000000000002" y1="488.9" x2="189.60000000000002" y2="733.8" stroke="#EBEBEB" stroke-width="1.25"/>
<line x1="221.45" y1="488.9" x2="221.45" y2="733.8" stroke="#EBEBEB" stroke-width="0.65"/>
<line x1="253.3" y1="488.9" x2="253.3" y2="733.8" stroke="#EBEBEB" stroke-width="1.25"/>
<line x1="285.15000000000003" y1="488.9" x2="285.15000000000003" y2="733.8" stroke="#EBEBEB" stroke-width="0.65"/>
<line x1="317.0" y1="488.9" x2="317.0" y2="733.8" stroke="#EBEBEB" stroke-width="1.25"/>
<line x1="49.5" y1="523.75" x2="329.5" y2="523.75" stroke="#EBEBEB" stroke-width="1.25"/>
<line x1="49.5" y1="547.8" x2="329.5" y2="547.8" stroke="#EBEBEB" stroke-width="1.25"/>
<line x1="49.5" y1="589.4" x2="329.5" y2="589.4" stroke="#EBEBEB" stroke-width="1.25"/>
<line x1="49.5" y1="630.5" x2="329.5" y2="630.5" stroke="#EBEBEB" stroke-width="1.25"/>
<line x1="49.5" y1="685.3" x2="329.5" y2="685.3" stroke="#EBEBEB" stroke-width="1.25"/>
<line x1="49.5" y1="496.8" x2="329.5" y2="496.8" stroke="#EBEBEB" stroke-width="0.65"/>
<line x1="49.5" y1="535.3" x2="329.5" y2="535.3" stroke="#EBEBEB" stroke-width="0.65"/>
<line x1="49.5" y1="569.0" x2="329.5" y2="569.0" stroke="#EBEBEB" stroke-width="0.65"/>
<line x1="49.5" y1="609.8" x2="329.5" y2="609.8" stroke="#EBEBEB" stroke-width="0.65"/>
<line x1="49.5" y1="657.9" x2="329.5" y2="657.9" stroke="#EBEBEB" stroke-width="0.65"/>
<line x1="49.5" y1="712.0" x2="329.5" y2="712.0" stroke="#EBEBEB" stroke-width="0.65"/>
<clipPath id="clipB0"><rect x="49.5" y="488.9" width="280.0" height="244.89999999999998"/></clipPath>
<g clip-path="url(#clipB0)">
<clipPath id="clipBR0"><rect x="49.5" y="488.9" width="280.0" height="212.60000000000002"/></clipPath>
<path d="M64.90,582.08 L65.90,582.14 L66.91,582.23 L67.91,582.33 L68.92,582.44 L69.92,582.56 L70.93,582.68 L71.93,582.80 L72.94,582.93 L73.94,583.06 L74.95,583.20 L75.95,583.35 L76.96,583.50 L77.96,583.66 L78.97,583.83 L79.97,584.01 L80.98,584.20 L81.98,584.39 L82.99,584.59 L83.99,584.79 L85.00,584.99 L86.00,585.20 L87.01,585.40 L88.01,585.60 L89.02,585.79 L90.02,585.98 L91.03,586.15 L92.03,586.31 L93.04,586.46 L94.04,586.60 L95.05,586.71 L96.05,586.81 L97.06,586.88 L98.06,586.93 L99.07,586.95 L100.07,586.95 L101.08,586.92 L102.08,586.85 L103.09,586.75 L104.09,586.61 L105.10,586.43 L106.10,586.20 L107.11,585.94 L108.11,585.62 L109.12,585.26 L110.12,584.84 L111.13,584.36 L112.13,583.84 L113.14,583.25 L114.14,582.62 L115.15,581.94 L116.15,581.21 L117.16,580.45 L118.16,579.66 L119.17,578.84 L120.17,578.00 L121.18,577.15 L122.18,576.29 L123.19,575.42 L124.19,574.56 L125.20,573.70 L126.20,572.86 L127.21,572.02 L128.21,571.21 L129.22,570.41 L130.22,569.63 L131.23,568.87 L132.23,568.13 L133.24,567.41 L134.24,566.70 L135.25,566.01 L136.25,565.35 L137.26,564.70 L138.26,564.07 L139.27,563.46 L140.27,562.88 L141.28,562.31 L142.28,561.77 L143.29,561.26 L144.29,560.77 L145.30,560.31 L146.30,559.89 L147.31,559.51 L148.31,559.17 L149.32,558.86 L150.32,558.61 L151.33,558.40 L152.33,558.24 L153.34,558.13 L154.34,558.08 L155.35,558.08 L156.35,558.15 L157.36,558.27 L158.36,558.44 L159.37,558.68 L160.37,558.97 L161.38,559.32 L162.38,559.73 L163.39,560.20 L164.39,560.72 L165.40,561.31 L166.40,561.95 L167.41,562.65 L168.41,563.41 L169.42,564.22 L170.42,565.08 L171.43,565.99 L172.43,566.94 L173.44,567.93 L174.44,568.95 L175.45,570.00 L176.45,571.08 L177.45,572.17 L178.46,573.28 L179.46,574.40 L180.47,575.53 L181.47,576.66 L182.48,577.78 L183.48,578.89 L184.49,579.98 L185.49,581.04 L186.50,582.07 L187.50,583.07 L188.51,584.02 L189.51,584.92 L190.52,585.76 L191.52,586.54 L192.53,587.26 L193.53,587.91 L194.54,588.50 L195.54,589.03 L196.55,589.51 L197.55,589.93 L198.56,590.31 L199.56,590.65 L200.57,590.96 L201.57,591.23 L202.58,591.48 L203.58,591.71 L204.59,591.92 L205.59,592.13 L206.60,592.33 L207.60,592.52 L208.61,592.73 L209.61,592.94 L210.62,593.16 L211.62,593.40 L212.63,593.64 L213.63,593.90 L214.64,594.17 L215.64,594.45 L216.65,594.73 L217.65,595.01 L218.66,595.30 L219.66,595.58 L220.67,595.86 L221.67,596.14 L222.68,596.41 L223.68,596.67 L224.69,596.92 L225.69,597.15 L226.70,597.37 L227.70,597.58 L228.71,597.76 L229.71,597.92 L230.72,598.06 L231.72,598.17 L232.73,598.26 L233.73,598.33 L234.74,598.37 L235.74,598.39 L236.75,598.38 L237.75,598.35 L238.76,598.29 L239.76,598.21 L240.77,598.10 L241.77,597.97 L242.78,597.82 L243.78,597.63 L244.79,597.43 L245.79,597.20 L246.80,596.94 L247.80,596.66 L248.81,596.36 L249.81,596.02 L250.82,595.67 L251.82,595.29 L252.83,594.89 L253.83,594.46 L254.84,594.01 L255.84,593.54 L256.85,593.05 L257.85,592.54 L258.86,592.01 L259.86,591.45 L260.87,590.89 L261.87,590.30 L262.88,589.69 L263.88,589.07 L264.89,588.44 L265.89,587.79 L266.90,587.12 L267.90,586.44 L268.91,585.75 L269.91,585.04 L270.92,584.33 L271.92,583.60 L272.93,582.86 L273.93,582.12 L274.94,581.36 L275.94,580.60 L276.95,579.82 L277.95,579.04 L278.96,578.26 L279.96,577.47 L280.97,576.67 L281.97,575.87 L282.98,575.06 L283.98,574.26 L284.99,573.47 L285.99,572.72 L287.00,572.07 L288.00,571.57 L288.00,654.65 L287.00,654.35 L285.99,653.95 L284.99,653.49 L283.98,653.00 L282.98,652.50 L281.97,651.99 L280.97,651.48 L279.96,650.98 L278.96,650.46 L277.95,649.95 L276.95,649.44 L275.94,648.92 L274.94,648.40 L273.93,647.88 L272.93,647.37 L271.92,646.85 L270.92,646.34 L269.91,645.82 L268.91,645.32 L267.90,644.81 L266.90,644.31 L265.89,643.81 L264.89,643.32 L263.88,642.83 L262.88,642.35 L261.87,641.88 L260.87,641.41 L259.86,640.95 L258.86,640.50 L257.85,640.05 L256.85,639.62 L255.84,639.19 L254.84,638.77 L253.83,638.35 L252.83,637.94 L251.82,637.53 L250.82,637.13 L249.81,636.73 L248.81,636.34 L247.80,635.95 L246.80,635.57 L245.79,635.18 L244.79,634.80 L243.78,634.42 L242.78,634.04 L241.77,633.66 L240.77,633.29 L239.76,632.91 L238.76,632.53 L237.75,632.15 L236.75,631.77 L235.74,631.39 L234.74,631.01 L233.73,630.63 L232.73,630.24 L231.72,629.85 L230.72,629.46 L229.71,629.06 L228.71,628.66 L227.70,628.26 L226.70,627.85 L225.69,627.43 L224.69,627.02 L223.68,626.59 L222.68,626.16 L221.67,625.73 L220.67,625.29 L219.66,624.84 L218.66,624.38 L217.65,623.92 L216.65,623.46 L215.64,622.98 L214.64,622.50 L213.63,622.02 L212.63,621.53 L211.62,621.03 L210.62,620.53 L209.61,620.03 L208.61,619.52 L207.60,619.00 L206.60,618.49 L205.59,617.96 L204.59,617.44 L203.58,616.91 L202.58,616.38 L201.57,615.84 L200.57,615.30 L199.56,614.76 L198.56,614.22 L197.55,613.68 L196.55,613.14 L195.54,612.61 L194.54,612.08 L193.53,611.56 L192.53,611.04 L191.52,610.54 L190.52,610.05 L189.51,609.57 L188.51,609.11 L187.50,608.66 L186.50,608.23 L185.49,607.83 L184.49,607.45 L183.48,607.09 L182.48,606.75 L181.47,606.45 L180.47,606.17 L179.46,605.92 L178.46,605.70 L177.45,605.51 L176.45,605.35 L175.45,605.21 L174.44,605.10 L173.44,605.01 L172.43,604.95 L171.43,604.90 L170.42,604.87 L169.42,604.86 L168.41,604.87 L167.41,604.89 L166.40,604.92 L165.40,604.97 L164.39,605.02 L163.39,605.08 L162.38,605.15 L161.38,605.23 L160.37,605.31 L159.37,605.39 L158.36,605.47 L157.36,605.55 L156.35,605.63 L155.35,605.70 L154.34,605.77 L153.34,605.84 L152.33,605.89 L151.33,605.94 L150.32,605.97 L149.32,606.00 L148.31,606.01 L147.31,606.02 L146.30,606.03 L145.30,606.03 L144.29,606.04 L143.29,606.05 L142.28,606.07 L141.28,606.10 L140.27,606.14 L139.27,606.20 L138.26,606.29 L137.26,606.39 L136.25,606.53 L135.25,606.69 L134.24,606.89 L133.24,607.13 L132.23,607.41 L131.23,607.73 L130.22,608.10 L129.22,608.51 L128.21,608.99 L127.21,609.51 L126.20,610.10 L125.20,610.74 L124.19,611.45 L123.19,612.22 L122.18,613.06 L121.18,613.96 L120.17,614.94 L119.17,615.99 L118.16,617.10 L117.16,618.28 L116.15,619.53 L115.15,620.85 L114.14,622.22 L113.14,623.66 L112.13,625.15 L111.13,626.70 L110.12,628.30 L109.12,629.95 L108.11,631.65 L107.11,633.39 L106.10,635.18 L105.10,637.01 L104.09,638.89 L103.09,640.80 L102.08,642.74 L101.08,644.73 L100.07,646.75 L99.07,648.81 L98.06,650.90 L97.06,653.04 L96.05,655.20 L95.05,657.41 L94.04,659.66 L93.04,661.94 L92.03,664.26 L91.03,666.61 L90.02,669.02 L89.02,671.47 L88.01,673.97 L87.01,676.55 L86.00,679.22 L85.00,681.98 L83.99,684.87 L82.99,687.88 L81.98,691.05 L80.98,694.38 L79.97,697.88 L78.97,701.58 L77.96,705.48 L76.96,709.59 L75.95,713.89 L74.95,718.38 L73.94,723.05 L72.94,727.87 L71.93,732.83 L70.93,737.91 L69.92,743.09 L68.92,748.34 L67.91,753.55 L66.91,758.51 L65.90,762.85 L64.90,766.18Z" fill="#FDCC8A" fill-opacity="0.5" clip-path="url(#clipBR0)"/>
<line x1="49.5" y1="589.3" x2="329.5" y2="589.3" stroke="#000" stroke-width="1.5" stroke-dasharray="6.6 6.6"/>
<path d="M65.60,655.79 L66.61,655.09 L67.61,654.16 L68.62,653.10 L69.63,651.97 L70.63,650.82 L71.64,649.66 L72.64,648.50 L73.65,647.34 L74.66,646.18 L75.66,645.02 L76.67,643.86 L77.68,642.69 L78.68,641.53 L79.69,640.36 L80.70,639.19 L81.70,638.02 L82.71,636.85 L83.71,635.67 L84.72,634.50 L85.73,633.33 L86.73,632.16 L87.74,630.99 L88.75,629.82 L89.75,628.65 L90.76,627.49 L91.76,626.33 L92.77,625.17 L93.78,624.02 L94.78,622.87 L95.79,621.73 L96.80,620.59 L97.80,619.46 L98.81,618.33 L99.82,617.22 L100.82,616.11 L101.83,615.01 L102.83,613.91 L103.84,612.83 L104.85,611.75 L105.85,610.69 L106.86,609.63 L107.87,608.59 L108.87,607.56 L109.88,606.54 L110.89,605.53 L111.89,604.53 L112.90,603.55 L113.90,602.58 L114.91,601.63 L115.92,600.69 L116.92,599.76 L117.93,598.85 L118.94,597.96 L119.94,597.08 L120.95,596.22 L121.95,595.37 L122.96,594.55 L123.97,593.74 L124.97,592.95 L125.98,592.19 L126.99,591.44 L127.99,590.72 L129.00,590.02 L130.01,589.34 L131.01,588.69 L132.02,588.06 L133.02,587.46 L134.03,586.88 L135.04,586.34 L136.04,585.82 L137.05,585.32 L138.06,584.86 L139.06,584.43 L140.07,584.02 L141.08,583.65 L142.08,583.31 L143.09,583.00 L144.09,582.72 L145.10,582.46 L146.11,582.24 L147.11,582.04 L148.12,581.87 L149.13,581.73 L150.13,581.62 L151.14,581.53 L152.14,581.46 L153.15,581.42 L154.16,581.41 L155.16,581.41 L156.17,581.44 L157.18,581.50 L158.18,581.57 L159.19,581.67 L160.20,581.80 L161.20,581.94 L162.21,582.11 L163.21,582.31 L164.22,582.53 L165.23,582.77 L166.23,583.03 L167.24,583.32 L168.25,583.64 L169.25,583.98 L170.26,584.35 L171.27,584.74 L172.27,585.16 L173.28,585.60 L174.28,586.06 L175.29,586.54 L176.30,587.05 L177.30,587.57 L178.31,588.11 L179.32,588.67 L180.32,589.23 L181.33,589.81 L182.33,590.40 L183.34,590.99 L184.35,591.60 L185.35,592.20 L186.36,592.81 L187.37,593.41 L188.37,594.02 L189.38,594.62 L190.39,595.22 L191.39,595.81 L192.40,596.40 L193.40,596.98 L194.41,597.56 L195.42,598.13 L196.42,598.70 L197.43,599.26 L198.44,599.82 L199.44,600.38 L200.45,600.93 L201.46,601.47 L202.46,602.01 L203.47,602.55 L204.47,603.09 L205.48,603.63 L206.49,604.16 L207.49,604.69 L208.50,605.21 L209.51,605.74 L210.51,606.26 L211.52,606.78 L212.52,607.30 L213.53,607.82 L214.54,608.33 L215.54,608.83 L216.55,609.33 L217.56,609.82 L218.56,610.31 L219.57,610.78 L220.58,611.25 L221.58,611.70 L222.59,612.14 L223.59,612.58 L224.60,612.99 L225.61,613.40 L226.61,613.78 L227.62,614.16 L228.63,614.51 L229.63,614.85 L230.64,615.17 L231.65,615.47 L232.65,615.76 L233.66,616.02 L234.66,616.27 L235.67,616.50 L236.68,616.71 L237.68,616.91 L238.69,617.09 L239.70,617.25 L240.70,617.39 L241.71,617.52 L242.71,617.63 L243.72,617.73 L244.73,617.81 L245.73,617.87 L246.74,617.92 L247.75,617.95 L248.75,617.97 L249.76,617.98 L250.77,617.97 L251.77,617.95 L252.78,617.91 L253.78,617.86 L254.79,617.80 L255.80,617.73 L256.80,617.65 L257.81,617.56 L258.82,617.46 L259.82,617.36 L260.83,617.24 L261.84,617.12 L262.84,617.00 L263.85,616.87 L264.85,616.73 L265.86,616.59 L266.87,616.45 L267.87,616.31 L268.88,616.16 L269.89,616.02 L270.89,615.87 L271.90,615.72 L272.90,615.58 L273.91,615.43 L274.92,615.29 L275.92,615.14 L276.93,614.99 L277.94,614.85 L278.94,614.70 L279.95,614.56 L280.96,614.41 L281.96,614.27 L282.97,614.12 L283.97,613.98 L284.98,613.84 L285.99,613.71 L286.99,613.59 L288.00,613.50" fill="none" stroke="#000" stroke-width="1.7"/>
<rect x="199.5" y="508.8" width="108.0" height="30" rx="5" fill="#fff" stroke="#000" stroke-width="0.9"/>
<text x="252.90" y="531.10" font-size="21.6" text-anchor="middle" font-weight="normal" fill="#000" >Stage 0/1</text>
<rect x="54.5" y="700.9" width="219.25" height="29.2" rx="5" fill="#fff" stroke="#000" stroke-width="0.9"/>
<text x="164.72" y="723.80" font-size="22.2" text-anchor="middle" font-weight="normal" fill="#000" >HR: 0.98 (0.90−1.07)</text>
</g>
<rect x="49.5" y="488.9" width="280.0" height="244.89999999999998" fill="none" stroke="#333333" stroke-width="1.1"/>
<path d="M351.25,459.31 L352.25,459.37 L353.26,459.44 L354.26,459.53 L355.27,459.61 L356.27,459.69 L357.28,459.77 L358.28,459.84 L359.29,459.91 L360.29,459.97 L361.30,460.02 L362.30,460.06 L363.31,460.09 L364.31,460.11 L365.32,460.12 L366.32,460.12 L367.33,460.10 L368.33,460.06 L369.34,460.01 L370.34,459.95 L371.35,459.87 L372.35,459.77 L373.36,459.66 L374.36,459.53 L375.37,459.39 L376.37,459.23 L377.38,459.07 L378.38,458.88 L379.39,458.69 L380.39,458.49 L381.40,458.27 L382.40,458.05 L383.41,457.81 L384.41,457.57 L385.42,457.32 L386.42,457.07 L387.43,456.80 L388.43,456.53 L389.44,456.26 L390.44,455.98 L391.45,455.69 L392.45,455.41 L393.46,455.12 L394.46,454.83 L395.47,454.54 L396.47,454.24 L397.48,453.95 L398.48,453.66 L399.49,453.37 L400.49,453.08 L401.50,452.79 L402.50,452.50 L403.50,452.22 L404.51,451.94 L405.51,451.66 L406.52,451.38 L407.52,451.10 L408.53,450.81 L409.53,450.51 L410.54,450.21 L411.54,449.90 L412.55,449.58 L413.55,449.25 L414.56,448.90 L415.56,448.53 L416.57,448.15 L417.57,447.75 L418.58,447.33 L419.58,446.89 L420.59,446.42 L421.59,445.93 L422.60,445.41 L423.60,444.87 L424.61,444.29 L425.61,443.68 L426.62,443.04 L427.62,442.36 L428.63,441.66 L429.63,440.92 L430.64,440.16 L431.64,439.38 L432.65,438.58 L433.65,437.77 L434.66,436.95 L435.66,436.13 L436.67,435.32 L437.67,434.51 L438.68,433.72 L439.68,432.95 L440.69,432.20 L441.69,431.47 L442.70,430.79 L443.70,430.13 L444.71,429.52 L445.71,428.96 L446.72,428.45 L447.72,428.00 L448.73,427.59 L449.73,427.24 L450.74,426.94 L451.74,426.67 L452.75,426.45 L453.75,426.25 L454.75,426.08 L455.76,425.94 L456.76,425.80 L457.77,425.67 L458.77,425.54 L459.78,425.41 L460.78,425.27 L461.79,425.11 L462.79,424.93 L463.80,424.73 L464.80,424.49 L465.81,424.23 L466.81,423.93 L467.82,423.60 L468.82,423.26 L469.83,422.89 L470.83,422.51 L471.84,422.13 L472.84,421.75 L473.85,421.38 L474.85,421.02 L475.86,420.68 L476.86,420.36 L477.87,420.08 L478.87,419.83 L479.88,419.63 L480.88,419.48 L481.89,419.38 L482.89,419.34 L483.90,419.36 L484.90,419.44 L485.91,419.58 L486.91,419.77 L487.92,420.01 L488.92,420.30 L489.93,420.64 L490.93,421.02 L491.94,421.45 L492.94,421.90 L493.95,422.40 L494.95,422.92 L495.96,423.47 L496.96,424.04 L497.97,424.64 L498.97,425.25 L499.98,425.88 L500.98,426.52 L501.99,427.17 L502.99,427.83 L504.00,428.49 L505.00,429.16 L506.00,429.83 L507.01,430.50 L508.01,431.17 L509.02,431.84 L510.02,432.52 L511.03,433.19 L512.03,433.86 L513.04,434.53 L514.04,435.20 L515.05,435.87 L516.05,436.54 L517.06,437.20 L518.06,437.86 L519.07,438.51 L520.07,439.16 L521.08,439.80 L522.08,440.44 L523.09,441.06 L524.09,441.69 L525.10,442.30 L526.10,442.91 L527.11,443.50 L528.11,444.09 L529.12,444.67 L530.12,445.24 L531.13,445.80 L532.13,446.36 L533.14,446.90 L534.14,447.44 L535.15,447.97 L536.15,448.49 L537.16,449.00 L538.16,449.51 L539.17,450.02 L540.17,450.51 L541.18,451.00 L542.18,451.49 L543.19,451.97 L544.19,452.45 L545.20,452.92 L546.20,453.38 L547.21,453.85 L548.21,454.31 L549.22,454.77 L550.22,455.22 L551.23,455.68 L552.23,456.13 L553.24,456.57 L554.24,457.02 L555.25,457.46 L556.25,457.90 L557.25,458.34 L558.26,458.77 L559.26,459.20 L560.27,459.62 L561.27,460.04 L562.28,460.45 L563.28,460.85 L564.29,461.25 L565.29,461.63 L566.30,462.01 L567.30,462.38 L568.31,462.74 L569.31,463.09 L570.32,463.43 L571.32,463.75 L572.33,464.07 L573.33,464.37 L574.34,464.66 L575.34,464.93 L576.35,465.19 L577.35,465.44 L578.36,465.67 L579.36,465.89 L580.37,466.09 L581.37,466.28 L582.38,466.46 L583.38,466.62 L584.39,466.77 L585.39,466.91 L586.40,467.04 L587.40,467.15 L588.41,467.26 L589.41,467.36 L590.42,467.44 L591.42,467.52 L592.43,467.59 L593.43,467.65 L594.44,467.71 L595.44,467.76 L596.45,467.80 L597.45,467.84 L598.46,467.87 L599.46,467.89 L600.47,467.92 L601.47,467.93 L602.48,467.95 L603.48,467.96 L604.49,467.97 L605.49,467.98 L606.50,467.99 L607.50,467.99 L607.50,468.00 L351.25,468.00Z" fill="#FDA47A"/>
<rect x="338.75" y="488.9" width="280.0" height="244.89999999999998" fill="#fff"/>
<line x1="351.45" y1="488.9" x2="351.45" y2="733.8" stroke="#EBEBEB" stroke-width="1.25"/>
<line x1="383.3" y1="488.9" x2="383.3" y2="733.8" stroke="#EBEBEB" stroke-width="0.65"/>
<line x1="415.15" y1="488.9" x2="415.15" y2="733.8" stroke="#EBEBEB" stroke-width="1.25"/>
<line x1="447.0" y1="488.9" x2="447.0" y2="733.8" stroke="#EBEBEB" stroke-width="0.65"/>
<line x1="478.85" y1="488.9" x2="478.85" y2="733.8" stroke="#EBEBEB" stroke-width="1.25"/>
<line x1="510.7" y1="488.9" x2="510.7" y2="733.8" stroke="#EBEBEB" stroke-width="0.65"/>
<line x1="542.55" y1="488.9" x2="542.55" y2="733.8" stroke="#EBEBEB" stroke-width="1.25"/>
<line x1="574.4" y1="488.9" x2="574.4" y2="733.8" stroke="#EBEBEB" stroke-width="0.65"/>
<line x1="606.25" y1="488.9" x2="606.25" y2="733.8" stroke="#EBEBEB" stroke-width="1.25"/>
<line x1="338.75" y1="523.75" x2="618.75" y2="523.75" stroke="#EBEBEB" stroke-width="1.25"/>
<line x1="338.75" y1="547.8" x2="618.75" y2="547.8" stroke="#EBEBEB" stroke-width="1.25"/>
<line x1="338.75" y1="589.4" x2="618.75" y2="589.4" stroke="#EBEBEB" stroke-width="1.25"/>
<line x1="338.75" y1="630.5" x2="618.75" y2="630.5" stroke="#EBEBEB" stroke-width="1.25"/>
<line x1="338.75" y1="685.3" x2="618.75" y2="685.3" stroke="#EBEBEB" stroke-width="1.25"/>
<line x1="338.75" y1="496.8" x2="618.75" y2="496.8" stroke="#EBEBEB" stroke-width="0.65"/>
<line x1="338.75" y1="535.3" x2="618.75" y2="535.3" stroke="#EBEBEB" stroke-width="0.65"/>
<line x1="338.75" y1="569.0" x2="618.75" y2="569.0" stroke="#EBEBEB" stroke-width="0.65"/>
<line x1="338.75" y1="609.8" x2="618.75" y2="609.8" stroke="#EBEBEB" stroke-width="0.65"/>
<line x1="338.75" y1="657.9" x2="618.75" y2="657.9" stroke="#EBEBEB" stroke-width="0.65"/>
<line x1="338.75" y1="712.0" x2="618.75" y2="712.0" stroke="#EBEBEB" stroke-width="0.65"/>
<clipPath id="clipB1"><rect x="338.75" y="488.9" width="280.0" height="244.89999999999998"/></clipPath>
<g clip-path="url(#clipB1)">
<clipPath id="clipBR1"><rect x="338.75" y="488.9" width="280.0" height="212.60000000000002"/></clipPath>
<path d="M358.25,515.02 L359.26,515.48 L360.26,516.08 L361.27,516.77 L362.28,517.50 L363.29,518.24 L364.29,518.99 L365.30,519.74 L366.31,520.48 L367.31,521.23 L368.32,521.98 L369.33,522.73 L370.34,523.48 L371.34,524.22 L372.35,524.97 L373.36,525.72 L374.36,526.47 L375.37,527.22 L376.38,527.97 L377.39,528.71 L378.39,529.46 L379.40,530.21 L380.41,530.96 L381.41,531.70 L382.42,532.44 L383.43,533.18 L384.44,533.91 L385.44,534.64 L386.45,535.36 L387.46,536.08 L388.46,536.79 L389.47,537.49 L390.48,538.18 L391.49,538.87 L392.49,539.54 L393.50,540.21 L394.51,540.86 L395.51,541.50 L396.52,542.13 L397.53,542.75 L398.54,543.35 L399.54,543.95 L400.55,544.53 L401.56,545.11 L402.56,545.67 L403.57,546.23 L404.58,546.78 L405.59,547.33 L406.59,547.86 L407.60,548.39 L408.61,548.92 L409.61,549.45 L410.62,549.97 L411.63,550.48 L412.64,551.00 L413.64,551.52 L414.65,552.03 L415.66,552.54 L416.66,553.06 L417.67,553.58 L418.68,554.10 L419.69,554.62 L420.69,555.15 L421.70,555.68 L422.71,556.21 L423.71,556.75 L424.72,557.30 L425.73,557.86 L426.74,558.42 L427.74,558.99 L428.75,559.57 L429.76,560.16 L430.76,560.76 L431.77,561.37 L432.78,561.99 L433.79,562.63 L434.79,563.27 L435.80,563.93 L436.81,564.59 L437.81,565.27 L438.82,565.96 L439.83,566.65 L440.84,567.36 L441.84,568.07 L442.85,568.79 L443.86,569.52 L444.86,570.25 L445.87,571.00 L446.88,571.74 L447.89,572.50 L448.89,573.26 L449.90,574.02 L450.91,574.79 L451.91,575.56 L452.92,576.33 L453.93,577.10 L454.94,577.87 L455.94,578.63 L456.95,579.39 L457.96,580.14 L458.96,580.89 L459.97,581.62 L460.98,582.33 L461.99,583.04 L462.99,583.72 L464.00,584.39 L465.01,585.03 L466.01,585.65 L467.02,586.25 L468.03,586.82 L469.04,587.37 L470.04,587.88 L471.05,588.37 L472.06,588.83 L473.06,589.26 L474.07,589.66 L475.08,590.04 L476.09,590.39 L477.09,590.72 L478.10,591.03 L479.11,591.32 L480.11,591.58 L481.12,591.83 L482.13,592.05 L483.14,592.26 L484.14,592.45 L485.15,592.63 L486.16,592.79 L487.16,592.93 L488.17,593.07 L489.18,593.19 L490.19,593.29 L491.19,593.39 L492.20,593.47 L493.21,593.55 L494.21,593.60 L495.22,593.65 L496.23,593.69 L497.24,593.71 L498.24,593.73 L499.25,593.73 L500.26,593.72 L501.26,593.70 L502.27,593.67 L503.28,593.63 L504.29,593.58 L505.29,593.52 L506.30,593.45 L507.31,593.36 L508.31,593.27 L509.32,593.16 L510.33,593.05 L511.34,592.92 L512.34,592.79 L513.35,592.64 L514.36,592.48 L515.36,592.31 L516.37,592.12 L517.38,591.93 L518.39,591.72 L519.39,591.50 L520.40,591.27 L521.41,591.02 L522.41,590.77 L523.42,590.50 L524.43,590.21 L525.44,589.92 L526.44,589.61 L527.45,589.30 L528.46,588.97 L529.46,588.63 L530.47,588.29 L531.48,587.93 L532.49,587.57 L533.49,587.21 L534.50,586.83 L535.51,586.46 L536.51,586.08 L537.52,585.70 L538.53,585.31 L539.54,584.93 L540.54,584.55 L541.55,584.16 L542.56,583.78 L543.56,583.40 L544.57,583.02 L545.58,582.65 L546.59,582.28 L547.59,581.90 L548.60,581.54 L549.61,581.17 L550.61,580.80 L551.62,580.44 L552.63,580.08 L553.64,579.71 L554.64,579.35 L555.65,579.00 L556.66,578.64 L557.66,578.28 L558.67,577.93 L559.68,577.58 L560.69,577.25 L561.69,576.97 L562.70,576.75 L562.70,609.94 L561.69,609.98 L560.69,610.03 L559.68,610.09 L558.67,610.15 L557.66,610.22 L556.66,610.28 L555.65,610.34 L554.64,610.41 L553.64,610.48 L552.63,610.54 L551.62,610.61 L550.61,610.68 L549.61,610.75 L548.60,610.83 L547.59,610.90 L546.59,610.98 L545.58,611.05 L544.57,611.13 L543.56,611.22 L542.56,611.30 L541.55,611.38 L540.54,611.47 L539.54,611.55 L538.53,611.64 L537.52,611.72 L536.51,611.80 L535.51,611.88 L534.50,611.96 L533.49,612.03 L532.49,612.09 L531.48,612.15 L530.47,612.20 L529.46,612.24 L528.46,612.27 L527.45,612.29 L526.44,612.30 L525.44,612.30 L524.43,612.28 L523.42,612.25 L522.41,612.21 L521.41,612.16 L520.40,612.09 L519.39,612.00 L518.39,611.90 L517.38,611.79 L516.37,611.67 L515.36,611.52 L514.36,611.37 L513.35,611.20 L512.34,611.02 L511.34,610.82 L510.33,610.61 L509.32,610.38 L508.31,610.14 L507.31,609.89 L506.30,609.62 L505.29,609.33 L504.29,609.04 L503.28,608.72 L502.27,608.40 L501.26,608.06 L500.26,607.71 L499.25,607.34 L498.24,606.96 L497.24,606.57 L496.23,606.17 L495.22,605.75 L494.21,605.33 L493.21,604.89 L492.20,604.44 L491.19,603.97 L490.19,603.50 L489.18,603.02 L488.17,602.52 L487.16,602.01 L486.16,601.50 L485.15,600.98 L484.14,600.45 L483.14,599.92 L482.13,599.38 L481.12,598.85 L480.11,598.31 L479.11,597.78 L478.10,597.25 L477.09,596.73 L476.09,596.21 L475.08,595.71 L474.07,595.21 L473.06,594.73 L472.06,594.26 L471.05,593.81 L470.04,593.38 L469.04,592.97 L468.03,592.57 L467.02,592.19 L466.01,591.83 L465.01,591.49 L464.00,591.16 L462.99,590.85 L461.99,590.55 L460.98,590.25 L459.97,589.97 L458.96,589.69 L457.96,589.42 L456.95,589.15 L455.94,588.88 L454.94,588.61 L453.93,588.35 L452.92,588.07 L451.91,587.80 L450.91,587.52 L449.90,587.23 L448.89,586.94 L447.89,586.64 L446.88,586.33 L445.87,586.01 L444.86,585.68 L443.86,585.35 L442.85,585.01 L441.84,584.67 L440.84,584.31 L439.83,583.95 L438.82,583.58 L437.81,583.20 L436.81,582.82 L435.80,582.42 L434.79,582.02 L433.79,581.62 L432.78,581.20 L431.77,580.78 L430.76,580.35 L429.76,579.92 L428.75,579.47 L427.74,579.02 L426.74,578.55 L425.73,578.08 L424.72,577.60 L423.71,577.10 L422.71,576.60 L421.70,576.09 L420.69,575.56 L419.69,575.02 L418.68,574.47 L417.67,573.91 L416.66,573.34 L415.66,572.75 L414.65,572.15 L413.64,571.54 L412.64,570.91 L411.63,570.28 L410.62,569.63 L409.61,568.97 L408.61,568.31 L407.60,567.65 L406.59,566.98 L405.59,566.31 L404.58,565.63 L403.57,564.97 L402.56,564.30 L401.56,563.64 L400.55,562.98 L399.54,562.33 L398.54,561.70 L397.53,561.07 L396.52,560.46 L395.51,559.86 L394.51,559.27 L393.50,558.70 L392.49,558.15 L391.49,557.61 L390.48,557.09 L389.47,556.58 L388.46,556.09 L387.46,555.62 L386.45,555.16 L385.44,554.72 L384.44,554.30 L383.43,553.89 L382.42,553.50 L381.41,553.12 L380.41,552.77 L379.40,552.43 L378.39,552.10 L377.39,551.79 L376.38,551.50 L375.37,551.22 L374.36,550.96 L373.36,550.72 L372.35,550.48 L371.34,550.26 L370.34,550.05 L369.33,549.85 L368.32,549.66 L367.31,549.48 L366.31,549.31 L365.30,549.14 L364.29,548.98 L363.29,548.82 L362.28,548.68 L361.27,548.53 L360.26,548.40 L359.26,548.28 L358.25,548.20Z" fill="#FC8D59" fill-opacity="0.5" clip-path="url(#clipBR1)"/>
<line x1="338.75" y1="589.3" x2="618.75" y2="589.3" stroke="#000" stroke-width="1.5" stroke-dasharray="6.6 6.6"/>
<path d="M358.25,531.96 L359.26,532.28 L360.26,532.70 L361.27,533.18 L362.28,533.69 L363.29,534.20 L364.29,534.73 L365.30,535.25 L366.31,535.77 L367.31,536.30 L368.32,536.82 L369.33,537.35 L370.34,537.88 L371.34,538.41 L372.35,538.95 L373.36,539.48 L374.36,540.02 L375.37,540.56 L376.38,541.10 L377.39,541.64 L378.39,542.19 L379.40,542.74 L380.41,543.29 L381.41,543.84 L382.42,544.40 L383.43,544.95 L384.44,545.51 L385.44,546.07 L386.45,546.62 L387.46,547.18 L388.46,547.74 L389.47,548.30 L390.48,548.86 L391.49,549.42 L392.49,549.98 L393.50,550.53 L394.51,551.09 L395.51,551.64 L396.52,552.19 L397.53,552.74 L398.54,553.29 L399.54,553.84 L400.55,554.39 L401.56,554.93 L402.56,555.48 L403.57,556.02 L404.58,556.56 L405.59,557.11 L406.59,557.65 L407.60,558.20 L408.61,558.75 L409.61,559.29 L410.62,559.84 L411.63,560.39 L412.64,560.94 L413.64,561.50 L414.65,562.05 L415.66,562.61 L416.66,563.17 L417.67,563.73 L418.68,564.29 L419.69,564.85 L420.69,565.41 L421.70,565.97 L422.71,566.54 L423.71,567.10 L424.72,567.66 L425.73,568.21 L426.74,568.77 L427.74,569.32 L428.75,569.87 L429.76,570.42 L430.76,570.96 L431.77,571.50 L432.78,572.04 L433.79,572.57 L434.79,573.10 L435.80,573.63 L436.81,574.15 L437.81,574.66 L438.82,575.18 L439.83,575.69 L440.84,576.19 L441.84,576.70 L442.85,577.20 L443.86,577.70 L444.86,578.20 L445.87,578.69 L446.88,579.19 L447.89,579.68 L448.89,580.17 L449.90,580.66 L450.91,581.15 L451.91,581.64 L452.92,582.13 L453.93,582.61 L454.94,583.10 L455.94,583.58 L456.95,584.06 L457.96,584.54 L458.96,585.02 L459.97,585.49 L460.98,585.96 L461.99,586.43 L462.99,586.90 L464.00,587.36 L465.01,587.82 L466.01,588.28 L467.02,588.73 L468.03,589.18 L469.04,589.62 L470.04,590.06 L471.05,590.49 L472.06,590.92 L473.06,591.35 L474.07,591.77 L475.08,592.18 L476.09,592.59 L477.09,592.99 L478.10,593.38 L479.11,593.77 L480.11,594.15 L481.12,594.52 L482.13,594.88 L483.14,595.24 L484.14,595.59 L485.15,595.93 L486.16,596.26 L487.16,596.58 L488.17,596.89 L489.18,597.20 L490.19,597.49 L491.19,597.77 L492.20,598.05 L493.21,598.31 L494.21,598.56 L495.22,598.81 L496.23,599.04 L497.24,599.26 L498.24,599.47 L499.25,599.67 L500.26,599.86 L501.26,600.03 L502.27,600.20 L503.28,600.35 L504.29,600.49 L505.29,600.62 L506.30,600.74 L507.31,600.84 L508.31,600.93 L509.32,601.01 L510.33,601.08 L511.34,601.13 L512.34,601.18 L513.35,601.21 L514.36,601.23 L515.36,601.24 L516.37,601.24 L517.38,601.23 L518.39,601.21 L519.39,601.18 L520.40,601.13 L521.41,601.08 L522.41,601.02 L523.42,600.95 L524.43,600.87 L525.44,600.77 L526.44,600.67 L527.45,600.57 L528.46,600.45 L529.46,600.32 L530.47,600.19 L531.48,600.05 L532.49,599.90 L533.49,599.75 L534.50,599.58 L535.51,599.41 L536.51,599.24 L537.52,599.06 L538.53,598.87 L539.54,598.68 L540.54,598.49 L541.55,598.29 L542.56,598.08 L543.56,597.87 L544.57,597.66 L545.58,597.44 L546.59,597.22 L547.59,597.00 L548.60,596.77 L549.61,596.54 L550.61,596.31 L551.62,596.08 L552.63,595.84 L553.64,595.60 L554.64,595.36 L555.65,595.12 L556.66,594.88 L557.66,594.63 L558.67,594.39 L559.68,594.15 L560.69,593.92 L561.69,593.72 L562.70,593.57" fill="none" stroke="#000" stroke-width="1.7"/>
<rect x="497.5" y="508.8" width="90.0" height="30" rx="5" fill="#fff" stroke="#000" stroke-width="0.9"/>
<text x="541.90" y="531.10" font-size="21.6" text-anchor="middle" font-weight="normal" fill="#000" >Stage 2</text>
<rect x="343.25" y="700.9" width="220.0" height="29.2" rx="5" fill="#fff" stroke="#000" stroke-width="0.9"/>
<text x="453.85" y="723.80" font-size="22.2" text-anchor="middle" font-weight="normal" fill="#000" >HR: 0.86 (0.80−0.91)</text>
</g>
<rect x="338.75" y="488.9" width="280.0" height="244.89999999999998" fill="none" stroke="#333333" stroke-width="1.1"/>
<path d="M640.50,461.76 L641.51,461.77 L642.51,461.78 L643.52,461.80 L644.53,461.81 L645.53,461.81 L646.54,461.81 L647.55,461.81 L648.56,461.79 L649.56,461.77 L650.57,461.73 L651.58,461.69 L652.58,461.63 L653.59,461.56 L654.60,461.47 L655.60,461.37 L656.61,461.25 L657.62,461.12 L658.62,460.96 L659.63,460.78 L660.64,460.59 L661.64,460.37 L662.65,460.12 L663.66,459.86 L664.67,459.57 L665.67,459.25 L666.68,458.90 L667.69,458.53 L668.69,458.13 L669.70,457.71 L670.71,457.25 L671.71,456.76 L672.72,456.24 L673.73,455.69 L674.73,455.11 L675.74,454.49 L676.75,453.85 L677.75,453.17 L678.76,452.47 L679.77,451.74 L680.78,450.99 L681.78,450.21 L682.79,449.42 L683.80,448.61 L684.80,447.79 L685.81,446.95 L686.82,446.11 L687.82,445.26 L688.83,444.40 L689.84,443.54 L690.84,442.67 L691.85,441.81 L692.86,440.95 L693.87,440.10 L694.87,439.25 L695.88,438.40 L696.89,437.57 L697.89,436.74 L698.90,435.91 L699.91,435.10 L700.91,434.29 L701.92,433.50 L702.93,432.71 L703.93,431.94 L704.94,431.18 L705.95,430.42 L706.95,429.68 L707.96,428.95 L708.97,428.24 L709.98,427.54 L710.98,426.85 L711.99,426.18 L713.00,425.52 L714.00,424.87 L715.01,424.24 L716.02,423.62 L717.02,423.02 L718.03,422.42 L719.04,421.84 L720.04,421.27 L721.05,420.72 L722.06,420.17 L723.06,419.64 L724.07,419.12 L725.08,418.61 L726.09,418.11 L727.09,417.62 L728.10,417.14 L729.11,416.67 L730.11,416.22 L731.12,415.78 L732.13,415.36 L733.13,414.95 L734.14,414.58 L735.15,414.23 L736.15,413.92 L737.16,413.66 L738.17,413.43 L739.18,413.26 L740.18,413.14 L741.19,413.09 L742.20,413.09 L743.20,413.17 L744.21,413.30 L745.22,413.50 L746.22,413.75 L747.23,414.05 L748.24,414.40 L749.24,414.79 L750.25,415.22 L751.26,415.67 L752.26,416.14 L753.27,416.64 L754.28,417.14 L755.29,417.65 L756.29,418.17 L757.30,418.70 L758.31,419.22 L759.31,419.75 L760.32,420.29 L761.33,420.84 L762.33,421.39 L763.34,421.94 L764.35,422.51 L765.35,423.09 L766.36,423.67 L767.37,424.27 L768.38,424.88 L769.38,425.50 L770.39,426.14 L771.40,426.79 L772.40,427.46 L773.41,428.14 L774.42,428.84 L775.42,429.55 L776.43,430.27 L777.44,431.01 L778.44,431.75 L779.45,432.51 L780.46,433.27 L781.46,434.03 L782.47,434.81 L783.48,435.58 L784.49,436.36 L785.49,437.14 L786.50,437.92 L787.51,438.70 L788.51,439.47 L789.52,440.24 L790.53,441.01 L791.53,441.77 L792.54,442.52 L793.55,443.26 L794.55,443.99 L795.56,444.71 L796.57,445.42 L797.57,446.12 L798.58,446.81 L799.59,447.49 L800.60,448.16 L801.60,448.82 L802.61,449.46 L803.62,450.10 L804.62,450.72 L805.63,451.33 L806.64,451.92 L807.64,452.51 L808.65,453.08 L809.66,453.63 L810.66,454.17 L811.67,454.70 L812.68,455.22 L813.69,455.72 L814.69,456.20 L815.70,456.67 L816.71,457.13 L817.71,457.57 L818.72,457.99 L819.73,458.40 L820.73,458.80 L821.74,459.18 L822.75,459.54 L823.75,459.90 L824.76,460.24 L825.77,460.56 L826.77,460.88 L827.78,461.18 L828.79,461.47 L829.80,461.75 L830.80,462.02 L831.81,462.28 L832.82,462.53 L833.82,462.77 L834.83,463.00 L835.84,463.22 L836.84,463.43 L837.85,463.64 L838.86,463.84 L839.86,464.03 L840.87,464.21 L841.88,464.38 L842.88,464.55 L843.89,464.72 L844.90,464.88 L845.91,465.03 L846.91,465.18 L847.92,465.32 L848.93,465.46 L849.93,465.59 L850.94,465.72 L851.95,465.84 L852.95,465.95 L853.96,466.07 L854.97,466.17 L855.97,466.28 L856.98,466.38 L857.99,466.47 L859.00,466.56 L860.00,466.65 L861.01,466.73 L862.02,466.81 L863.02,466.89 L864.03,466.96 L865.04,467.03 L866.04,467.09 L867.05,467.15 L868.06,467.21 L869.06,467.26 L870.07,467.32 L871.08,467.37 L872.08,467.41 L873.09,467.46 L874.10,467.50 L875.11,467.54 L876.11,467.58 L877.12,467.61 L878.13,467.64 L879.13,467.67 L880.14,467.70 L881.15,467.73 L882.15,467.75 L883.16,467.78 L884.17,467.80 L885.17,467.82 L886.18,467.84 L887.19,467.86 L888.19,467.88 L889.20,467.90 L890.21,467.91 L891.22,467.93 L892.22,467.94 L893.23,467.96 L894.24,467.97 L895.24,467.98 L896.25,467.99 L896.25,468.00 L640.50,468.00Z" fill="#E96E5C"/>
<rect x="628.0" y="488.9" width="280.0" height="244.89999999999998" fill="#fff"/>
<line x1="640.7" y1="488.9" x2="640.7" y2="733.8" stroke="#EBEBEB" stroke-width="1.25"/>
<line x1="672.5500000000001" y1="488.9" x2="672.5500000000001" y2="733.8" stroke="#EBEBEB" stroke-width="0.65"/>
<line x1="704.4000000000001" y1="488.9" x2="704.4000000000001" y2="733.8" stroke="#EBEBEB" stroke-width="1.25"/>
<line x1="736.25" y1="488.9" x2="736.25" y2="733.8" stroke="#EBEBEB" stroke-width="0.65"/>
<line x1="768.1" y1="488.9" x2="768.1" y2="733.8" stroke="#EBEBEB" stroke-width="1.25"/>
<line x1="799.95" y1="488.9" x2="799.95" y2="733.8" stroke="#EBEBEB" stroke-width="0.65"/>
<line x1="831.8000000000001" y1="488.9" x2="831.8000000000001" y2="733.8" stroke="#EBEBEB" stroke-width="1.25"/>
<line x1="863.6500000000001" y1="488.9" x2="863.6500000000001" y2="733.8" stroke="#EBEBEB" stroke-width="0.65"/>
<line x1="895.5" y1="488.9" x2="895.5" y2="733.8" stroke="#EBEBEB" stroke-width="1.25"/>
<line x1="628.0" y1="523.75" x2="908.0" y2="523.75" stroke="#EBEBEB" stroke-width="1.25"/>
<line x1="628.0" y1="547.8" x2="908.0" y2="547.8" stroke="#EBEBEB" stroke-width="1.25"/>
<line x1="628.0" y1="589.4" x2="908.0" y2="589.4" stroke="#EBEBEB" stroke-width="1.25"/>
<line x1="628.0" y1="630.5" x2="908.0" y2="630.5" stroke="#EBEBEB" stroke-width="1.25"/>
<line x1="628.0" y1="685.3" x2="908.0" y2="685.3" stroke="#EBEBEB" stroke-width="1.25"/>
<line x1="628.0" y1="496.8" x2="908.0" y2="496.8" stroke="#EBEBEB" stroke-width="0.65"/>
<line x1="628.0" y1="535.3" x2="908.0" y2="535.3" stroke="#EBEBEB" stroke-width="0.65"/>
<line x1="628.0" y1="569.0" x2="908.0" y2="569.0" stroke="#EBEBEB" stroke-width="0.65"/>
<line x1="628.0" y1="609.8" x2="908.0" y2="609.8" stroke="#EBEBEB" stroke-width="0.65"/>
<line x1="628.0" y1="657.9" x2="908.0" y2="657.9" stroke="#EBEBEB" stroke-width="0.65"/>
<line x1="628.0" y1="712.0" x2="908.0" y2="712.0" stroke="#EBEBEB" stroke-width="0.65"/>
<clipPath id="clipB2"><rect x="628.0" y="488.9" width="280.0" height="244.89999999999998"/></clipPath>
<g clip-path="url(#clipB2)">
<clipPath id="clipBR2"><rect x="628.0" y="488.9" width="280.0" height="212.60000000000002"/></clipPath>
<path d="M653.30,508.01 L654.31,508.45 L655.32,509.04 L656.32,509.71 L657.33,510.43 L658.34,511.16 L659.35,511.89 L660.36,512.63 L661.36,513.38 L662.37,514.13 L663.38,514.88 L664.39,515.64 L665.39,516.41 L666.40,517.19 L667.41,517.97 L668.42,518.76 L669.43,519.56 L670.43,520.36 L671.44,521.18 L672.45,522.00 L673.46,522.84 L674.47,523.68 L675.47,524.52 L676.48,525.38 L677.49,526.23 L678.50,527.10 L679.51,527.96 L680.51,528.83 L681.52,529.70 L682.53,530.58 L683.54,531.45 L684.55,532.33 L685.55,533.20 L686.56,534.08 L687.57,534.95 L688.58,535.82 L689.58,536.69 L690.59,537.56 L691.60,538.42 L692.61,539.29 L693.62,540.15 L694.62,541.01 L695.63,541.86 L696.64,542.72 L697.65,543.57 L698.66,544.42 L699.66,545.26 L700.67,546.11 L701.68,546.95 L702.69,547.79 L703.70,548.62 L704.70,549.46 L705.71,550.29 L706.72,551.11 L707.73,551.94 L708.74,552.76 L709.74,553.57 L710.75,554.39 L711.76,555.20 L712.77,556.01 L713.77,556.81 L714.78,557.61 L715.79,558.41 L716.80,559.20 L717.81,559.99 L718.81,560.77 L719.82,561.56 L720.83,562.33 L721.84,563.11 L722.85,563.88 L723.85,564.65 L724.86,565.41 L725.87,566.17 L726.88,566.93 L727.89,567.68 L728.89,568.44 L729.90,569.19 L730.91,569.93 L731.92,570.68 L732.92,571.42 L733.93,572.17 L734.94,572.91 L735.95,573.65 L736.96,574.38 L737.96,575.12 L738.97,575.85 L739.98,576.58 L740.99,577.30 L742.00,578.01 L743.00,578.71 L744.01,579.40 L745.02,580.08 L746.03,580.74 L747.04,581.39 L748.04,582.02 L749.05,582.63 L750.06,583.22 L751.07,583.79 L752.08,584.33 L753.08,584.85 L754.09,585.34 L755.10,585.81 L756.11,586.24 L757.11,586.66 L758.12,587.05 L759.13,587.41 L760.14,587.75 L761.15,588.07 L762.15,588.36 L763.16,588.63 L764.17,588.89 L765.18,589.12 L766.19,589.33 L767.19,589.53 L768.20,589.70 L769.21,589.86 L770.22,590.00 L771.23,590.13 L772.23,590.24 L773.24,590.34 L774.25,590.42 L775.26,590.49 L776.26,590.54 L777.27,590.59 L778.28,590.62 L779.29,590.64 L780.30,590.65 L781.30,590.65 L782.31,590.63 L783.32,590.61 L784.33,590.59 L785.34,590.55 L786.34,590.51 L787.35,590.45 L788.36,590.39 L789.37,590.33 L790.38,590.25 L791.38,590.17 L792.39,590.07 L793.40,589.97 L794.41,589.85 L795.42,589.73 L796.42,589.59 L797.43,589.44 L798.44,589.27 L799.45,589.10 L800.45,588.90 L801.46,588.69 L802.47,588.47 L803.48,588.23 L804.49,587.97 L805.49,587.70 L806.50,587.40 L807.51,587.09 L808.52,586.77 L809.53,586.42 L810.53,586.05 L811.54,585.67 L812.55,585.27 L813.56,584.84 L814.57,584.40 L815.57,583.94 L816.58,583.46 L817.59,582.95 L818.60,582.43 L819.61,581.89 L820.61,581.32 L821.62,580.74 L822.63,580.14 L823.64,579.52 L824.64,578.89 L825.65,578.24 L826.66,577.58 L827.67,576.92 L828.68,576.27 L829.68,575.64 L830.69,575.10 L831.70,574.68 L831.70,604.26 L830.69,604.30 L829.68,604.37 L828.68,604.44 L827.67,604.51 L826.66,604.59 L825.65,604.66 L824.64,604.73 L823.64,604.79 L822.63,604.85 L821.62,604.91 L820.61,604.96 L819.61,605.01 L818.60,605.05 L817.59,605.09 L816.58,605.12 L815.57,605.14 L814.57,605.16 L813.56,605.17 L812.55,605.18 L811.54,605.18 L810.53,605.18 L809.53,605.17 L808.52,605.16 L807.51,605.14 L806.50,605.11 L805.49,605.08 L804.49,605.04 L803.48,605.00 L802.47,604.95 L801.46,604.90 L800.45,604.84 L799.45,604.77 L798.44,604.70 L797.43,604.62 L796.42,604.53 L795.42,604.44 L794.41,604.34 L793.40,604.23 L792.39,604.11 L791.38,603.98 L790.38,603.85 L789.37,603.71 L788.36,603.56 L787.35,603.39 L786.34,603.22 L785.34,603.04 L784.33,602.85 L783.32,602.65 L782.31,602.45 L781.30,602.23 L780.30,602.00 L779.29,601.76 L778.28,601.52 L777.27,601.27 L776.26,601.00 L775.26,600.73 L774.25,600.45 L773.24,600.17 L772.23,599.87 L771.23,599.57 L770.22,599.26 L769.21,598.94 L768.20,598.61 L767.19,598.27 L766.19,597.92 L765.18,597.57 L764.17,597.20 L763.16,596.83 L762.15,596.44 L761.15,596.04 L760.14,595.63 L759.13,595.20 L758.12,594.77 L757.11,594.31 L756.11,593.85 L755.10,593.37 L754.09,592.87 L753.08,592.36 L752.08,591.84 L751.07,591.30 L750.06,590.75 L749.05,590.18 L748.04,589.60 L747.04,589.01 L746.03,588.41 L745.02,587.80 L744.01,587.18 L743.00,586.55 L742.00,585.91 L740.99,585.27 L739.98,584.63 L738.97,583.98 L737.96,583.32 L736.96,582.66 L735.95,582.01 L734.94,581.35 L733.93,580.69 L732.92,580.02 L731.92,579.36 L730.91,578.70 L729.90,578.04 L728.89,577.39 L727.89,576.73 L726.88,576.08 L725.87,575.43 L724.86,574.78 L723.85,574.13 L722.85,573.49 L721.84,572.86 L720.83,572.22 L719.82,571.60 L718.81,570.98 L717.81,570.36 L716.80,569.75 L715.79,569.14 L714.78,568.53 L713.77,567.93 L712.77,567.33 L711.76,566.73 L710.75,566.13 L709.74,565.53 L708.74,564.94 L707.73,564.34 L706.72,563.74 L705.71,563.14 L704.70,562.54 L703.70,561.93 L702.69,561.33 L701.68,560.72 L700.67,560.10 L699.66,559.49 L698.66,558.88 L697.65,558.26 L696.64,557.64 L695.63,557.03 L694.62,556.42 L693.62,555.81 L692.61,555.20 L691.60,554.59 L690.59,553.99 L689.58,553.39 L688.58,552.80 L687.57,552.21 L686.56,551.63 L685.55,551.06 L684.55,550.49 L683.54,549.93 L682.53,549.38 L681.52,548.84 L680.51,548.30 L679.51,547.78 L678.50,547.26 L677.49,546.75 L676.48,546.26 L675.47,545.77 L674.47,545.29 L673.46,544.83 L672.45,544.37 L671.44,543.93 L670.43,543.50 L669.43,543.08 L668.42,542.68 L667.41,542.28 L666.40,541.89 L665.39,541.52 L664.39,541.15 L663.38,540.79 L662.37,540.44 L661.36,540.10 L660.36,539.76 L659.35,539.43 L658.34,539.10 L657.33,538.78 L656.32,538.46 L655.32,538.17 L654.31,537.91 L653.30,537.72Z" fill="#E34A33" fill-opacity="0.5" clip-path="url(#clipBR2)"/>
<line x1="628.0" y1="589.3" x2="908.0" y2="589.3" stroke="#000" stroke-width="1.5" stroke-dasharray="6.6 6.6"/>
<path d="M653.30,522.91 L654.31,523.27 L655.32,523.74 L656.32,524.28 L657.33,524.85 L658.34,525.44 L659.35,526.03 L660.36,526.62 L661.36,527.22 L662.37,527.82 L663.38,528.42 L664.39,529.03 L665.39,529.64 L666.40,530.26 L667.41,530.88 L668.42,531.51 L669.43,532.15 L670.43,532.79 L671.44,533.43 L672.45,534.09 L673.46,534.75 L674.47,535.41 L675.47,536.08 L676.48,536.75 L677.49,537.43 L678.50,538.11 L679.51,538.79 L680.51,539.48 L681.52,540.16 L682.53,540.85 L683.54,541.54 L684.55,542.23 L685.55,542.92 L686.56,543.60 L687.57,544.29 L688.58,544.98 L689.58,545.66 L690.59,546.35 L691.60,547.03 L692.61,547.72 L693.62,548.40 L694.62,549.08 L695.63,549.77 L696.64,550.45 L697.65,551.14 L698.66,551.82 L699.66,552.51 L700.67,553.20 L701.68,553.89 L702.69,554.58 L703.70,555.28 L704.70,555.97 L705.71,556.67 L706.72,557.37 L707.73,558.07 L708.74,558.77 L709.74,559.48 L710.75,560.18 L711.76,560.89 L712.77,561.60 L713.77,562.30 L714.78,563.01 L715.79,563.73 L716.80,564.44 L717.81,565.15 L718.81,565.86 L719.82,566.57 L720.83,567.29 L721.84,568.00 L722.85,568.71 L723.85,569.42 L724.86,570.14 L725.87,570.85 L726.88,571.55 L727.89,572.26 L728.89,572.96 L729.90,573.66 L730.91,574.36 L731.92,575.05 L732.92,575.74 L733.93,576.43 L734.94,577.11 L735.95,577.79 L736.96,578.46 L737.96,579.13 L738.97,579.79 L739.98,580.44 L740.99,581.09 L742.00,581.73 L743.00,582.36 L744.01,582.99 L745.02,583.60 L746.03,584.21 L747.04,584.81 L748.04,585.39 L749.05,585.97 L750.06,586.54 L751.07,587.09 L752.08,587.64 L753.08,588.17 L754.09,588.69 L755.10,589.19 L756.11,589.69 L757.11,590.17 L758.12,590.63 L759.13,591.08 L760.14,591.52 L761.15,591.94 L762.15,592.35 L763.16,592.74 L764.17,593.12 L765.18,593.48 L766.19,593.82 L767.19,594.15 L768.20,594.46 L769.21,594.75 L770.22,595.03 L771.23,595.29 L772.23,595.53 L773.24,595.75 L774.25,595.96 L775.26,596.15 L776.26,596.32 L777.27,596.47 L778.28,596.61 L779.29,596.74 L780.30,596.85 L781.30,596.94 L782.31,597.01 L783.32,597.08 L784.33,597.12 L785.34,597.16 L786.34,597.17 L787.35,597.18 L788.36,597.17 L789.37,597.15 L790.38,597.11 L791.38,597.07 L792.39,597.01 L793.40,596.94 L794.41,596.86 L795.42,596.77 L796.42,596.67 L797.43,596.56 L798.44,596.45 L799.45,596.32 L800.45,596.19 L801.46,596.06 L802.47,595.91 L803.48,595.76 L804.49,595.61 L805.49,595.45 L806.50,595.29 L807.51,595.12 L808.52,594.94 L809.53,594.76 L810.53,594.57 L811.54,594.38 L812.55,594.18 L813.56,593.97 L814.57,593.76 L815.57,593.54 L816.58,593.31 L817.59,593.08 L818.60,592.84 L819.61,592.59 L820.61,592.33 L821.62,592.07 L822.63,591.80 L823.64,591.53 L824.64,591.25 L825.65,590.96 L826.66,590.68 L827.67,590.39 L828.68,590.10 L829.68,589.83 L830.69,589.59 L831.70,589.41" fill="none" stroke="#000" stroke-width="1.7"/>
<rect x="787" y="508.8" width="89.25" height="30" rx="5" fill="#fff" stroke="#000" stroke-width="0.9"/>
<text x="831.02" y="531.10" font-size="21.6" text-anchor="middle" font-weight="normal" fill="#000" >Stage 3</text>
<rect x="632.5" y="700.9" width="219.5" height="29.2" rx="5" fill="#fff" stroke="#000" stroke-width="0.9"/>
<text x="742.85" y="723.80" font-size="22.2" text-anchor="middle" font-weight="normal" fill="#000" >HR: 0.82 (0.78−0.87)</text>
</g>
<rect x="628.0" y="488.9" width="280.0" height="244.89999999999998" fill="none" stroke="#333333" stroke-width="1.1"/>
<path d="M929.50,459.65 L930.50,459.34 L931.51,458.94 L932.51,458.48 L933.52,457.99 L934.52,457.49 L935.53,456.99 L936.53,456.50 L937.54,456.00 L938.54,455.50 L939.55,455.01 L940.55,454.52 L941.56,454.03 L942.56,453.54 L943.57,453.05 L944.57,452.57 L945.58,452.09 L946.58,451.61 L947.59,451.13 L948.59,450.66 L949.60,450.19 L950.60,449.72 L951.61,449.26 L952.61,448.80 L953.62,448.33 L954.62,447.87 L955.63,447.40 L956.63,446.93 L957.64,446.46 L958.64,445.98 L959.65,445.49 L960.65,444.99 L961.66,444.48 L962.66,443.97 L963.67,443.43 L964.67,442.89 L965.68,442.33 L966.68,441.76 L967.69,441.16 L968.69,440.55 L969.70,439.92 L970.70,439.27 L971.71,438.59 L972.71,437.89 L973.72,437.17 L974.72,436.42 L975.73,435.65 L976.73,434.86 L977.74,434.05 L978.74,433.22 L979.75,432.39 L980.75,431.56 L981.76,430.73 L982.76,429.91 L983.77,429.10 L984.77,428.31 L985.78,427.55 L986.78,426.81 L987.79,426.11 L988.79,425.45 L989.80,424.82 L990.80,424.23 L991.81,423.68 L992.81,423.16 L993.82,422.69 L994.82,422.25 L995.83,421.84 L996.83,421.48 L997.84,421.15 L998.84,420.85 L999.85,420.59 L1000.85,420.36 L1001.86,420.17 L1002.86,420.00 L1003.87,419.86 L1004.87,419.74 L1005.88,419.64 L1006.88,419.56 L1007.89,419.50 L1008.89,419.45 L1009.90,419.42 L1010.90,419.40 L1011.91,419.40 L1012.91,419.41 L1013.92,419.44 L1014.92,419.49 L1015.92,419.55 L1016.93,419.63 L1017.93,419.73 L1018.94,419.85 L1019.94,419.98 L1020.95,420.14 L1021.95,420.32 L1022.96,420.52 L1023.96,420.74 L1024.97,420.98 L1025.97,421.24 L1026.98,421.53 L1027.98,421.84 L1028.99,422.18 L1029.99,422.54 L1031.00,422.92 L1032.00,423.33 L1033.01,423.76 L1034.01,424.20 L1035.02,424.67 L1036.02,425.15 L1037.03,425.65 L1038.03,426.15 L1039.04,426.67 L1040.04,427.20 L1041.05,427.73 L1042.05,428.27 L1043.06,428.81 L1044.06,429.36 L1045.07,429.90 L1046.07,430.44 L1047.08,430.97 L1048.08,431.50 L1049.09,432.02 L1050.09,432.53 L1051.10,433.03 L1052.10,433.52 L1053.11,434.00 L1054.11,434.47 L1055.12,434.93 L1056.12,435.39 L1057.13,435.84 L1058.13,436.28 L1059.14,436.72 L1060.14,437.16 L1061.15,437.59 L1062.15,438.02 L1063.16,438.45 L1064.16,438.88 L1065.17,439.31 L1066.17,439.75 L1067.18,440.18 L1068.18,440.62 L1069.19,441.06 L1070.19,441.51 L1071.20,441.97 L1072.20,442.43 L1073.21,442.90 L1074.21,443.38 L1075.22,443.87 L1076.22,444.37 L1077.23,444.88 L1078.23,445.39 L1079.24,445.91 L1080.24,446.43 L1081.25,446.96 L1082.25,447.49 L1083.26,448.02 L1084.26,448.55 L1085.27,449.07 L1086.27,449.60 L1087.28,450.11 L1088.28,450.62 L1089.29,451.12 L1090.29,451.61 L1091.30,452.08 L1092.30,452.55 L1093.31,453.00 L1094.31,453.43 L1095.32,453.85 L1096.32,454.25 L1097.33,454.64 L1098.33,455.00 L1099.33,455.35 L1100.34,455.69 L1101.34,456.01 L1102.35,456.32 L1103.35,456.61 L1104.36,456.89 L1105.36,457.16 L1106.37,457.42 L1107.37,457.67 L1108.38,457.92 L1109.38,458.15 L1110.39,458.37 L1111.39,458.59 L1112.40,458.80 L1113.40,459.01 L1114.41,459.21 L1115.41,459.41 L1116.42,459.60 L1117.42,459.80 L1118.43,459.99 L1119.43,460.18 L1120.44,460.37 L1121.44,460.56 L1122.45,460.75 L1123.45,460.95 L1124.46,461.15 L1125.46,461.35 L1126.47,461.55 L1127.47,461.76 L1128.48,461.97 L1129.48,462.19 L1130.49,462.40 L1131.49,462.62 L1132.50,462.83 L1133.50,463.05 L1134.51,463.27 L1135.51,463.49 L1136.52,463.70 L1137.52,463.92 L1138.53,464.13 L1139.53,464.34 L1140.54,464.55 L1141.54,464.75 L1142.55,464.95 L1143.55,465.14 L1144.56,465.33 L1145.56,465.51 L1146.57,465.69 L1147.57,465.86 L1148.58,466.02 L1149.58,466.17 L1150.59,466.32 L1151.59,466.46 L1152.60,466.59 L1153.60,466.71 L1154.61,466.83 L1155.61,466.94 L1156.62,467.04 L1157.62,467.13 L1158.63,467.22 L1159.63,467.30 L1160.64,467.38 L1161.64,467.45 L1162.65,467.51 L1163.65,467.57 L1164.66,467.62 L1165.66,467.67 L1166.67,467.71 L1167.67,467.75 L1168.68,467.79 L1169.68,467.82 L1170.69,467.85 L1171.69,467.87 L1172.70,467.89 L1173.70,467.91 L1174.71,467.93 L1175.71,467.94 L1176.72,467.95 L1177.72,467.96 L1178.73,467.97 L1179.73,467.98 L1180.74,467.98 L1181.74,467.99 L1182.75,467.99 L1183.75,468.00 L1183.75,468.00 L929.50,468.00Z" fill="#C23333"/>
<rect x="917.0" y="488.9" width="280.0" height="244.89999999999998" fill="#fff"/>
<line x1="929.7" y1="488.9" x2="929.7" y2="733.8" stroke="#EBEBEB" stroke-width="1.25"/>
<line x1="961.5500000000001" y1="488.9" x2="961.5500000000001" y2="733.8" stroke="#EBEBEB" stroke-width="0.65"/>
<line x1="993.4000000000001" y1="488.9" x2="993.4000000000001" y2="733.8" stroke="#EBEBEB" stroke-width="1.25"/>
<line x1="1025.25" y1="488.9" x2="1025.25" y2="733.8" stroke="#EBEBEB" stroke-width="0.65"/>
<line x1="1057.1000000000001" y1="488.9" x2="1057.1000000000001" y2="733.8" stroke="#EBEBEB" stroke-width="1.25"/>
<line x1="1088.95" y1="488.9" x2="1088.95" y2="733.8" stroke="#EBEBEB" stroke-width="0.65"/>
<line x1="1120.8000000000002" y1="488.9" x2="1120.8000000000002" y2="733.8" stroke="#EBEBEB" stroke-width="1.25"/>
<line x1="1152.65" y1="488.9" x2="1152.65" y2="733.8" stroke="#EBEBEB" stroke-width="0.65"/>
<line x1="1184.5" y1="488.9" x2="1184.5" y2="733.8" stroke="#EBEBEB" stroke-width="1.25"/>
<line x1="917.0" y1="523.75" x2="1197.0" y2="523.75" stroke="#EBEBEB" stroke-width="1.25"/>
<line x1="917.0" y1="547.8" x2="1197.0" y2="547.8" stroke="#EBEBEB" stroke-width="1.25"/>
<line x1="917.0" y1="589.4" x2="1197.0" y2="589.4" stroke="#EBEBEB" stroke-width="1.25"/>
<line x1="917.0" y1="630.5" x2="1197.0" y2="630.5" stroke="#EBEBEB" stroke-width="1.25"/>
<line x1="917.0" y1="685.3" x2="1197.0" y2="685.3" stroke="#EBEBEB" stroke-width="1.25"/>
<line x1="917.0" y1="496.8" x2="1197.0" y2="496.8" stroke="#EBEBEB" stroke-width="0.65"/>
<line x1="917.0" y1="535.3" x2="1197.0" y2="535.3" stroke="#EBEBEB" stroke-width="0.65"/>
<line x1="917.0" y1="569.0" x2="1197.0" y2="569.0" stroke="#EBEBEB" stroke-width="0.65"/>
<line x1="917.0" y1="609.8" x2="1197.0" y2="609.8" stroke="#EBEBEB" stroke-width="0.65"/>
<line x1="917.0" y1="657.9" x2="1197.0" y2="657.9" stroke="#EBEBEB" stroke-width="0.65"/>
<line x1="917.0" y1="712.0" x2="1197.0" y2="712.0" stroke="#EBEBEB" stroke-width="0.65"/>
<clipPath id="clipB3"><rect x="917.0" y="488.9" width="280.0" height="244.89999999999998"/></clipPath>
<g clip-path="url(#clipB3)">
<clipPath id="clipBR3"><rect x="917.0" y="488.9" width="280.0" height="212.60000000000002"/></clipPath>
<path d="M939.20,513.76 L940.21,514.17 L941.22,514.70 L942.23,515.31 L943.24,515.95 L944.24,516.60 L945.25,517.25 L946.26,517.90 L947.27,518.55 L948.28,519.19 L949.29,519.82 L950.30,520.45 L951.31,521.07 L952.32,521.69 L953.32,522.30 L954.33,522.89 L955.34,523.48 L956.35,524.06 L957.36,524.64 L958.37,525.20 L959.38,525.75 L960.39,526.29 L961.40,526.82 L962.40,527.34 L963.41,527.86 L964.42,528.36 L965.43,528.85 L966.44,529.33 L967.45,529.81 L968.46,530.27 L969.47,530.72 L970.48,531.16 L971.48,531.59 L972.49,532.02 L973.50,532.43 L974.51,532.84 L975.52,533.25 L976.53,533.66 L977.54,534.06 L978.55,534.47 L979.56,534.89 L980.56,535.31 L981.57,535.74 L982.58,536.18 L983.59,536.64 L984.60,537.12 L985.61,537.61 L986.62,538.13 L987.63,538.67 L988.64,539.23 L989.64,539.83 L990.65,540.44 L991.66,541.09 L992.67,541.77 L993.68,542.47 L994.69,543.20 L995.70,543.97 L996.71,544.76 L997.72,545.58 L998.72,546.43 L999.73,547.31 L1000.74,548.22 L1001.75,549.15 L1002.76,550.12 L1003.77,551.10 L1004.78,552.11 L1005.79,553.14 L1006.80,554.18 L1007.80,555.24 L1008.81,556.30 L1009.82,557.38 L1010.83,558.47 L1011.84,559.56 L1012.85,560.65 L1013.86,561.74 L1014.87,562.83 L1015.88,563.92 L1016.88,565.00 L1017.89,566.06 L1018.90,567.12 L1019.91,568.16 L1020.92,569.19 L1021.93,570.19 L1022.94,571.18 L1023.95,572.15 L1024.96,573.09 L1025.96,574.01 L1026.97,574.91 L1027.98,575.78 L1028.99,576.63 L1030.00,577.46 L1031.01,578.26 L1032.02,579.03 L1033.03,579.78 L1034.04,580.50 L1035.04,581.20 L1036.05,581.87 L1037.06,582.51 L1038.07,583.12 L1039.08,583.70 L1040.09,584.26 L1041.10,584.79 L1042.11,585.29 L1043.12,585.77 L1044.12,586.23 L1045.13,586.67 L1046.14,587.08 L1047.15,587.47 L1048.16,587.85 L1049.17,588.20 L1050.18,588.54 L1051.19,588.87 L1052.20,589.18 L1053.20,589.48 L1054.21,589.77 L1055.22,590.04 L1056.23,590.31 L1057.24,590.57 L1058.25,590.81 L1059.26,591.05 L1060.27,591.28 L1061.28,591.50 L1062.28,591.71 L1063.29,591.92 L1064.30,592.11 L1065.31,592.30 L1066.32,592.47 L1067.33,592.64 L1068.34,592.80 L1069.35,592.96 L1070.36,593.10 L1071.36,593.24 L1072.37,593.37 L1073.38,593.49 L1074.39,593.60 L1075.40,593.70 L1076.41,593.79 L1077.42,593.86 L1078.43,593.91 L1079.44,593.94 L1080.44,593.96 L1081.45,593.96 L1082.46,593.93 L1083.47,593.88 L1084.48,593.80 L1085.49,593.70 L1086.50,593.56 L1087.51,593.40 L1088.52,593.20 L1089.52,592.98 L1090.53,592.72 L1091.54,592.44 L1092.55,592.13 L1093.56,591.79 L1094.57,591.43 L1095.58,591.04 L1096.59,590.64 L1097.60,590.22 L1098.60,589.77 L1099.61,589.32 L1100.62,588.85 L1101.63,588.37 L1102.64,587.87 L1103.65,587.37 L1104.66,586.87 L1105.67,586.35 L1106.68,585.83 L1107.68,585.31 L1108.69,584.79 L1109.70,584.26 L1110.71,583.73 L1111.72,583.19 L1112.73,582.65 L1113.74,582.11 L1114.75,581.57 L1115.76,581.03 L1116.76,580.49 L1117.77,579.96 L1118.78,579.45 L1119.79,579.02 L1120.80,578.68 L1120.80,619.78 L1119.79,619.58 L1118.78,619.33 L1117.77,619.03 L1116.76,618.72 L1115.76,618.40 L1114.75,618.08 L1113.74,617.76 L1112.73,617.44 L1111.72,617.12 L1110.71,616.81 L1109.70,616.49 L1108.69,616.17 L1107.68,615.85 L1106.68,615.53 L1105.67,615.21 L1104.66,614.89 L1103.65,614.57 L1102.64,614.26 L1101.63,613.94 L1100.62,613.63 L1099.61,613.31 L1098.60,613.00 L1097.60,612.69 L1096.59,612.39 L1095.58,612.08 L1094.57,611.78 L1093.56,611.49 L1092.55,611.19 L1091.54,610.90 L1090.53,610.62 L1089.52,610.34 L1088.52,610.07 L1087.51,609.80 L1086.50,609.53 L1085.49,609.27 L1084.48,609.01 L1083.47,608.76 L1082.46,608.51 L1081.45,608.26 L1080.44,608.01 L1079.44,607.76 L1078.43,607.51 L1077.42,607.26 L1076.41,607.01 L1075.40,606.76 L1074.39,606.50 L1073.38,606.24 L1072.37,605.97 L1071.36,605.70 L1070.36,605.42 L1069.35,605.14 L1068.34,604.85 L1067.33,604.55 L1066.32,604.24 L1065.31,603.93 L1064.30,603.60 L1063.29,603.26 L1062.28,602.91 L1061.28,602.55 L1060.27,602.17 L1059.26,601.78 L1058.25,601.38 L1057.24,600.96 L1056.23,600.53 L1055.22,600.07 L1054.21,599.61 L1053.20,599.12 L1052.20,598.62 L1051.19,598.10 L1050.18,597.56 L1049.17,597.00 L1048.16,596.43 L1047.15,595.84 L1046.14,595.24 L1045.13,594.62 L1044.12,593.98 L1043.12,593.32 L1042.11,592.65 L1041.10,591.96 L1040.09,591.26 L1039.08,590.54 L1038.07,589.81 L1037.06,589.06 L1036.05,588.30 L1035.04,587.52 L1034.04,586.74 L1033.03,585.94 L1032.02,585.13 L1031.01,584.32 L1030.00,583.50 L1028.99,582.68 L1027.98,581.85 L1026.97,581.02 L1025.96,580.19 L1024.96,579.37 L1023.95,578.54 L1022.94,577.71 L1021.93,576.89 L1020.92,576.08 L1019.91,575.27 L1018.90,574.46 L1017.89,573.66 L1016.88,572.86 L1015.88,572.06 L1014.87,571.26 L1013.86,570.46 L1012.85,569.66 L1011.84,568.86 L1010.83,568.05 L1009.82,567.24 L1008.81,566.43 L1007.80,565.61 L1006.80,564.78 L1005.79,563.94 L1004.78,563.10 L1003.77,562.25 L1002.76,561.40 L1001.75,560.54 L1000.74,559.68 L999.73,558.82 L998.72,557.97 L997.72,557.13 L996.71,556.29 L995.70,555.47 L994.69,554.66 L993.68,553.87 L992.67,553.10 L991.66,552.35 L990.65,551.63 L989.64,550.93 L988.64,550.27 L987.63,549.63 L986.62,549.04 L985.61,548.47 L984.60,547.93 L983.59,547.43 L982.58,546.96 L981.57,546.52 L980.56,546.11 L979.56,545.74 L978.55,545.39 L977.54,545.07 L976.53,544.77 L975.52,544.51 L974.51,544.27 L973.50,544.06 L972.49,543.87 L971.48,543.71 L970.48,543.57 L969.47,543.46 L968.46,543.37 L967.45,543.30 L966.44,543.26 L965.43,543.24 L964.42,543.24 L963.41,543.26 L962.40,543.30 L961.40,543.37 L960.39,543.45 L959.38,543.56 L958.37,543.68 L957.36,543.82 L956.35,543.98 L955.34,544.16 L954.33,544.36 L953.32,544.57 L952.32,544.80 L951.31,545.05 L950.30,545.30 L949.29,545.57 L948.28,545.85 L947.27,546.14 L946.26,546.44 L945.25,546.75 L944.24,547.07 L943.24,547.38 L942.23,547.70 L941.22,548.00 L940.21,548.27 L939.20,548.47Z" fill="#B30000" fill-opacity="0.5" clip-path="url(#clipBR3)"/>
<line x1="917.0" y1="589.3" x2="1197.0" y2="589.3" stroke="#000" stroke-width="1.5" stroke-dasharray="6.6 6.6"/>
<path d="M939.20,531.41 L940.21,531.51 L941.22,531.64 L942.23,531.80 L943.24,531.96 L944.24,532.13 L945.25,532.30 L946.26,532.47 L947.27,532.65 L948.28,532.83 L949.29,533.02 L950.30,533.22 L951.31,533.42 L952.32,533.62 L953.32,533.84 L954.33,534.06 L955.34,534.29 L956.35,534.53 L957.36,534.78 L958.37,535.04 L959.38,535.30 L960.39,535.58 L961.40,535.86 L962.40,536.15 L963.41,536.45 L964.42,536.76 L965.43,537.08 L966.44,537.40 L967.45,537.73 L968.46,538.07 L969.47,538.42 L970.48,538.77 L971.48,539.13 L972.49,539.50 L973.50,539.88 L974.51,540.27 L975.52,540.67 L976.53,541.07 L977.54,541.49 L978.55,541.92 L979.56,542.35 L980.56,542.80 L981.57,543.27 L982.58,543.74 L983.59,544.24 L984.60,544.74 L985.61,545.26 L986.62,545.80 L987.63,546.35 L988.64,546.92 L989.64,547.50 L990.65,548.11 L991.66,548.73 L992.67,549.36 L993.68,550.01 L994.69,550.68 L995.70,551.36 L996.71,552.06 L997.72,552.77 L998.72,553.50 L999.73,554.24 L1000.74,554.99 L1001.75,555.76 L1002.76,556.54 L1003.77,557.33 L1004.78,558.14 L1005.79,558.96 L1006.80,559.79 L1007.80,560.62 L1008.81,561.47 L1009.82,562.32 L1010.83,563.18 L1011.84,564.05 L1012.85,564.92 L1013.86,565.79 L1014.87,566.66 L1015.88,567.53 L1016.88,568.40 L1017.89,569.27 L1018.90,570.13 L1019.91,570.98 L1020.92,571.83 L1021.93,572.68 L1022.94,573.51 L1023.95,574.34 L1024.96,575.15 L1025.96,575.96 L1026.97,576.75 L1027.98,577.54 L1028.99,578.32 L1030.00,579.08 L1031.01,579.84 L1032.02,580.58 L1033.03,581.32 L1034.04,582.04 L1035.04,582.76 L1036.05,583.46 L1037.06,584.15 L1038.07,584.83 L1039.08,585.50 L1040.09,586.15 L1041.10,586.79 L1042.11,587.43 L1043.12,588.04 L1044.12,588.65 L1045.13,589.24 L1046.14,589.81 L1047.15,590.37 L1048.16,590.91 L1049.17,591.44 L1050.18,591.96 L1051.19,592.45 L1052.20,592.93 L1053.20,593.39 L1054.21,593.84 L1055.22,594.26 L1056.23,594.67 L1057.24,595.06 L1058.25,595.44 L1059.26,595.79 L1060.27,596.14 L1061.28,596.46 L1062.28,596.78 L1063.29,597.08 L1064.30,597.37 L1065.31,597.65 L1066.32,597.91 L1067.33,598.17 L1068.34,598.42 L1069.35,598.66 L1070.36,598.89 L1071.36,599.12 L1072.37,599.34 L1073.38,599.55 L1074.39,599.75 L1075.40,599.95 L1076.41,600.14 L1077.42,600.33 L1078.43,600.50 L1079.44,600.67 L1080.44,600.82 L1081.45,600.97 L1082.46,601.11 L1083.47,601.23 L1084.48,601.35 L1085.49,601.45 L1086.50,601.55 L1087.51,601.63 L1088.52,601.69 L1089.52,601.75 L1090.53,601.79 L1091.54,601.82 L1092.55,601.84 L1093.56,601.84 L1094.57,601.84 L1095.58,601.83 L1096.59,601.80 L1097.60,601.77 L1098.60,601.73 L1099.61,601.68 L1100.62,601.62 L1101.63,601.55 L1102.64,601.48 L1103.65,601.40 L1104.66,601.32 L1105.67,601.23 L1106.68,601.14 L1107.68,601.04 L1108.69,600.94 L1109.70,600.83 L1110.71,600.72 L1111.72,600.61 L1112.73,600.49 L1113.74,600.37 L1114.75,600.25 L1115.76,600.13 L1116.76,600.01 L1117.77,599.89 L1118.78,599.77 L1119.79,599.67 L1120.80,599.59" fill="none" stroke="#000" stroke-width="1.7"/>
<rect x="1076.25" y="508.8" width="89.25" height="30" rx="5" fill="#fff" stroke="#000" stroke-width="0.9"/>
<text x="1120.28" y="531.10" font-size="21.6" text-anchor="middle" font-weight="normal" fill="#000" >Stage 4</text>
<rect x="922" y="700.9" width="219.25" height="29.2" rx="5" fill="#fff" stroke="#000" stroke-width="0.9"/>
<text x="1032.22" y="723.80" font-size="22.2" text-anchor="middle" font-weight="normal" fill="#000" >HR: 0.80 (0.77−0.84)</text>
</g>
<rect x="917.0" y="488.9" width="280.0" height="244.89999999999998" fill="none" stroke="#333333" stroke-width="1.1"/>
<line x1="45" y1="523.75" x2="49.5" y2="523.75" stroke="#333333" stroke-width="1.1"/>
<text x="41.50" y="528.55" font-size="13.44" text-anchor="end" font-weight="normal" fill="#4D4D4D" >3.0</text>
<line x1="45" y1="547.8" x2="49.5" y2="547.8" stroke="#333333" stroke-width="1.1"/>
<text x="41.50" y="552.60" font-size="13.44" text-anchor="end" font-weight="normal" fill="#4D4D4D" >2.0</text>
<line x1="45" y1="589.4" x2="49.5" y2="589.4" stroke="#333333" stroke-width="1.1"/>
<text x="41.50" y="594.20" font-size="13.44" text-anchor="end" font-weight="normal" fill="#4D4D4D" >1.0</text>
<line x1="45" y1="630.5" x2="49.5" y2="630.5" stroke="#333333" stroke-width="1.1"/>
<text x="41.50" y="635.30" font-size="13.44" text-anchor="end" font-weight="normal" fill="#4D4D4D" >0.5</text>
<line x1="45" y1="685.3" x2="49.5" y2="685.3" stroke="#333333" stroke-width="1.1"/>
<text x="41.50" y="690.10" font-size="13.44" text-anchor="end" font-weight="normal" fill="#4D4D4D" >0.2</text>
<text x="0" y="0" font-size="17.1" text-anchor="middle" transform="translate(15.4,614.6) rotate(-90)">Hazard ratio</text>
<rect x="49.6" y="793.3" width="280.0" height="245.0" fill="#fff"/>
<line x1="62.25" y1="793.3" x2="62.25" y2="1038.3" stroke="#EBEBEB" stroke-width="1.25"/>
<line x1="94.10" y1="793.3" x2="94.10" y2="1038.3" stroke="#EBEBEB" stroke-width="0.65"/>
<line x1="125.95" y1="793.3" x2="125.95" y2="1038.3" stroke="#EBEBEB" stroke-width="1.25"/>
<line x1="157.80" y1="793.3" x2="157.80" y2="1038.3" stroke="#EBEBEB" stroke-width="0.65"/>
<line x1="189.65" y1="793.3" x2="189.65" y2="1038.3" stroke="#EBEBEB" stroke-width="1.25"/>
<line x1="221.50" y1="793.3" x2="221.50" y2="1038.3" stroke="#EBEBEB" stroke-width="0.65"/>
<line x1="253.35" y1="793.3" x2="253.35" y2="1038.3" stroke="#EBEBEB" stroke-width="1.25"/>
<line x1="285.20" y1="793.3" x2="285.20" y2="1038.3" stroke="#EBEBEB" stroke-width="0.65"/>
<line x1="317.05" y1="793.3" x2="317.05" y2="1038.3" stroke="#EBEBEB" stroke-width="1.25"/>
<line x1="49.6" y1="1028.20" x2="329.6" y2="1028.20" stroke="#EBEBEB" stroke-width="1.25"/>
<line x1="49.6" y1="1005.79" x2="329.6" y2="1005.79" stroke="#EBEBEB" stroke-width="0.65"/>
<line x1="49.6" y1="983.38" x2="329.6" y2="983.38" stroke="#EBEBEB" stroke-width="1.25"/>
<line x1="49.6" y1="960.97" x2="329.6" y2="960.97" stroke="#EBEBEB" stroke-width="0.65"/>
<line x1="49.6" y1="938.56" x2="329.6" y2="938.56" stroke="#EBEBEB" stroke-width="1.25"/>
<line x1="49.6" y1="916.15" x2="329.6" y2="916.15" stroke="#EBEBEB" stroke-width="0.65"/>
<line x1="49.6" y1="893.74" x2="329.6" y2="893.74" stroke="#EBEBEB" stroke-width="1.25"/>
<line x1="49.6" y1="871.33" x2="329.6" y2="871.33" stroke="#EBEBEB" stroke-width="0.65"/>
<line x1="49.6" y1="848.92" x2="329.6" y2="848.92" stroke="#EBEBEB" stroke-width="1.25"/>
<line x1="49.6" y1="826.51" x2="329.6" y2="826.51" stroke="#EBEBEB" stroke-width="0.65"/>
<line x1="49.6" y1="804.10" x2="329.6" y2="804.10" stroke="#EBEBEB" stroke-width="1.25"/>
<clipPath id="clipC0"><rect x="49.6" y="793.3" width="280.0" height="245.0"/></clipPath>
<g clip-path="url(#clipC0)">
<clipPath id="clipCR0"><rect x="49.6" y="793.3" width="280.0" height="235.10000000000014"/></clipPath>
<path d="M80.20,990.00 L81.21,989.66 L82.21,989.20 L83.22,988.68 L84.23,988.12 L85.23,987.55 L86.24,986.97 L87.25,986.39 L88.26,985.80 L89.26,985.20 L90.27,984.60 L91.28,983.99 L92.28,983.37 L93.29,982.74 L94.30,982.09 L95.30,981.44 L96.31,980.77 L97.32,980.09 L98.32,979.40 L99.33,978.70 L100.34,977.98 L101.35,977.26 L102.35,976.52 L103.36,975.78 L104.37,975.02 L105.37,974.26 L106.38,973.48 L107.39,972.70 L108.39,971.92 L109.40,971.12 L110.41,970.32 L111.41,969.52 L112.42,968.71 L113.43,967.90 L114.44,967.08 L115.44,966.26 L116.45,965.44 L117.46,964.62 L118.46,963.79 L119.47,962.97 L120.48,962.15 L121.48,961.33 L122.49,960.52 L123.50,959.71 L124.50,958.90 L125.51,958.11 L126.52,957.31 L127.53,956.53 L128.53,955.75 L129.54,954.99 L130.55,954.24 L131.55,953.51 L132.56,952.80 L133.57,952.11 L134.57,951.45 L135.58,950.82 L136.59,950.22 L137.59,949.66 L138.60,949.13 L139.61,948.65 L140.61,948.21 L141.62,947.83 L142.63,947.49 L143.64,947.21 L144.64,946.98 L145.65,946.82 L146.66,946.73 L147.66,946.70 L148.67,946.73 L149.68,946.83 L150.68,946.98 L151.69,947.20 L152.70,947.46 L153.70,947.78 L154.71,948.14 L155.72,948.55 L156.73,948.99 L157.73,949.47 L158.74,949.97 L159.75,950.51 L160.75,951.08 L161.76,951.67 L162.77,952.28 L163.77,952.91 L164.78,953.56 L165.79,954.22 L166.79,954.90 L167.80,955.58 L168.81,956.28 L169.82,956.98 L170.82,957.68 L171.83,958.38 L172.84,959.09 L173.84,959.79 L174.85,960.49 L175.86,961.17 L176.86,961.86 L177.87,962.53 L178.88,963.19 L179.88,963.85 L180.89,964.49 L181.90,965.12 L182.91,965.75 L183.91,966.36 L184.92,966.96 L185.93,967.55 L186.93,968.12 L187.94,968.69 L188.95,969.24 L189.95,969.78 L190.96,970.30 L191.97,970.81 L192.97,971.31 L193.98,971.79 L194.99,972.26 L196.00,972.71 L197.00,973.15 L198.01,973.57 L199.02,973.97 L200.02,974.36 L201.03,974.73 L202.04,975.09 L203.04,975.43 L204.05,975.75 L205.06,976.05 L206.06,976.34 L207.07,976.60 L208.08,976.85 L209.09,977.08 L210.09,977.29 L211.10,977.48 L212.11,977.65 L213.11,977.80 L214.12,977.92 L215.13,978.03 L216.13,978.12 L217.14,978.19 L218.15,978.23 L219.15,978.26 L220.16,978.26 L221.17,978.24 L222.18,978.20 L223.18,978.13 L224.19,978.04 L225.20,977.93 L226.20,977.79 L227.21,977.63 L228.22,977.43 L229.22,977.21 L230.23,976.95 L231.24,976.66 L232.24,976.34 L233.25,975.98 L234.26,975.58 L235.26,975.14 L236.27,974.66 L237.28,974.13 L238.29,973.56 L239.29,972.95 L240.30,972.29 L241.31,971.60 L242.31,970.87 L243.32,970.10 L244.33,969.30 L245.33,968.46 L246.34,967.61 L247.35,966.72 L248.35,965.81 L249.36,964.89 L250.37,963.94 L251.38,962.99 L252.38,962.02 L253.39,961.04 L254.40,960.07 L255.40,959.10 L256.41,958.14 L257.42,957.19 L258.42,956.27 L259.43,955.37 L260.44,954.51 L261.44,953.69 L262.45,952.91 L263.46,952.17 L264.47,951.48 L265.47,950.82 L266.48,950.20 L267.49,949.64 L268.49,949.16 L269.50,948.81 L269.50,1027.99 L268.49,1027.80 L267.49,1027.53 L266.48,1027.20 L265.47,1026.81 L264.47,1026.36 L263.46,1025.83 L262.45,1025.23 L261.44,1024.56 L260.44,1023.81 L259.43,1023.02 L258.42,1022.19 L257.42,1021.34 L256.41,1020.51 L255.40,1019.70 L254.40,1018.94 L253.39,1018.24 L252.38,1017.61 L251.38,1017.05 L250.37,1016.56 L249.36,1016.13 L248.35,1015.76 L247.35,1015.44 L246.34,1015.16 L245.33,1014.92 L244.33,1014.71 L243.32,1014.52 L242.31,1014.35 L241.31,1014.19 L240.30,1014.04 L239.29,1013.89 L238.29,1013.74 L237.28,1013.58 L236.27,1013.42 L235.26,1013.25 L234.26,1013.09 L233.25,1012.92 L232.24,1012.75 L231.24,1012.57 L230.23,1012.40 L229.22,1012.22 L228.22,1012.05 L227.21,1011.88 L226.20,1011.70 L225.20,1011.53 L224.19,1011.36 L223.18,1011.20 L222.18,1011.03 L221.17,1010.88 L220.16,1010.72 L219.15,1010.57 L218.15,1010.43 L217.14,1010.29 L216.13,1010.15 L215.13,1010.03 L214.12,1009.91 L213.11,1009.79 L212.11,1009.69 L211.10,1009.59 L210.09,1009.50 L209.09,1009.41 L208.08,1009.33 L207.07,1009.25 L206.06,1009.18 L205.06,1009.11 L204.05,1009.05 L203.04,1008.99 L202.04,1008.94 L201.03,1008.89 L200.02,1008.84 L199.02,1008.80 L198.01,1008.76 L197.00,1008.72 L196.00,1008.68 L194.99,1008.65 L193.98,1008.61 L192.97,1008.58 L191.97,1008.55 L190.96,1008.52 L189.95,1008.49 L188.95,1008.46 L187.94,1008.43 L186.93,1008.40 L185.93,1008.37 L184.92,1008.33 L183.91,1008.30 L182.91,1008.27 L181.90,1008.23 L180.89,1008.19 L179.88,1008.15 L178.88,1008.10 L177.87,1008.05 L176.86,1008.00 L175.86,1007.94 L174.85,1007.88 L173.84,1007.82 L172.84,1007.76 L171.83,1007.69 L170.82,1007.62 L169.82,1007.55 L168.81,1007.48 L167.80,1007.42 L166.79,1007.35 L165.79,1007.29 L164.78,1007.23 L163.77,1007.18 L162.77,1007.13 L161.76,1007.09 L160.75,1007.06 L159.75,1007.04 L158.74,1007.02 L157.73,1007.02 L156.73,1007.02 L155.72,1007.04 L154.71,1007.07 L153.70,1007.11 L152.70,1007.17 L151.69,1007.23 L150.68,1007.31 L149.68,1007.40 L148.67,1007.49 L147.66,1007.61 L146.66,1007.73 L145.65,1007.86 L144.64,1008.01 L143.64,1008.16 L142.63,1008.33 L141.62,1008.51 L140.61,1008.70 L139.61,1008.90 L138.60,1009.11 L137.59,1009.34 L136.59,1009.58 L135.58,1009.83 L134.57,1010.10 L133.57,1010.38 L132.56,1010.68 L131.55,1010.99 L130.55,1011.33 L129.54,1011.68 L128.53,1012.05 L127.53,1012.44 L126.52,1012.86 L125.51,1013.29 L124.50,1013.76 L123.50,1014.25 L122.49,1014.77 L121.48,1015.32 L120.48,1015.91 L119.47,1016.53 L118.46,1017.19 L117.46,1017.89 L116.45,1018.63 L115.44,1019.41 L114.44,1020.23 L113.43,1021.09 L112.42,1021.97 L111.41,1022.87 L110.41,1023.79 L109.40,1024.70 L108.39,1025.61 L107.39,1026.51 L106.38,1027.39 L105.37,1028.23 L104.37,1029.03 L103.36,1029.79 L102.35,1030.49 L101.35,1031.13 L100.34,1031.70 L99.33,1032.21 L98.32,1032.64 L97.32,1033.00 L96.31,1033.30 L95.30,1033.53 L94.30,1033.70 L93.29,1033.81 L92.28,1033.87 L91.28,1033.89 L90.27,1033.85 L89.26,1033.78 L88.26,1033.68 L87.25,1033.54 L86.24,1033.37 L85.23,1033.18 L84.23,1032.97 L83.22,1032.75 L82.21,1032.53 L81.21,1032.33 L80.20,1032.18Z" fill="#FDCC8A" fill-opacity="0.5" clip-path="url(#clipCR0)"/>
<path d="M80.20,1014.81 L81.21,1014.47 L82.21,1014.02 L83.22,1013.50 L84.23,1012.95 L85.23,1012.39 L86.24,1011.83 L87.25,1011.26 L88.26,1010.69 L89.26,1010.12 L90.27,1009.55 L91.28,1008.97 L92.28,1008.39 L93.29,1007.80 L94.30,1007.21 L95.30,1006.61 L96.31,1006.01 L97.32,1005.40 L98.32,1004.79 L99.33,1004.17 L100.34,1003.54 L101.35,1002.91 L102.35,1002.26 L103.36,1001.61 L104.37,1000.95 L105.37,1000.27 L106.38,999.59 L107.39,998.89 L108.39,998.19 L109.40,997.47 L110.41,996.74 L111.41,996.00 L112.42,995.24 L113.43,994.47 L114.44,993.68 L115.44,992.89 L116.45,992.08 L117.46,991.28 L118.46,990.46 L119.47,989.65 L120.48,988.85 L121.48,988.05 L122.49,987.26 L123.50,986.48 L124.50,985.73 L125.51,984.99 L126.52,984.28 L127.53,983.59 L128.53,982.93 L129.54,982.30 L130.55,981.69 L131.55,981.12 L132.56,980.57 L133.57,980.06 L134.57,979.58 L135.58,979.13 L136.59,978.72 L137.59,978.34 L138.60,977.99 L139.61,977.68 L140.61,977.41 L141.62,977.16 L142.63,976.96 L143.64,976.78 L144.64,976.64 L145.65,976.54 L146.66,976.47 L147.66,976.44 L148.67,976.43 L149.68,976.46 L150.68,976.52 L151.69,976.61 L152.70,976.73 L153.70,976.87 L154.71,977.04 L155.72,977.24 L156.73,977.45 L157.73,977.69 L158.74,977.95 L159.75,978.23 L160.75,978.53 L161.76,978.85 L162.77,979.19 L163.77,979.56 L164.78,979.94 L165.79,980.35 L166.79,980.79 L167.80,981.24 L168.81,981.72 L169.82,982.21 L170.82,982.71 L171.83,983.23 L172.84,983.74 L173.84,984.25 L174.85,984.74 L175.86,985.23 L176.86,985.69 L177.87,986.13 L178.88,986.54 L179.88,986.93 L180.89,987.29 L181.90,987.63 L182.91,987.95 L183.91,988.24 L184.92,988.52 L185.93,988.77 L186.93,989.01 L187.94,989.23 L188.95,989.43 L189.95,989.63 L190.96,989.80 L191.97,989.97 L192.97,990.12 L193.98,990.27 L194.99,990.40 L196.00,990.53 L197.00,990.66 L198.01,990.77 L199.02,990.89 L200.02,991.00 L201.03,991.11 L202.04,991.21 L203.04,991.32 L204.05,991.42 L205.06,991.52 L206.06,991.62 L207.07,991.72 L208.08,991.81 L209.09,991.90 L210.09,991.99 L211.10,992.08 L212.11,992.17 L213.11,992.25 L214.12,992.33 L215.13,992.41 L216.13,992.48 L217.14,992.55 L218.15,992.62 L219.15,992.68 L220.16,992.75 L221.17,992.80 L222.18,992.86 L223.18,992.91 L224.19,992.96 L225.20,993.00 L226.20,993.04 L227.21,993.08 L228.22,993.11 L229.22,993.13 L230.23,993.15 L231.24,993.17 L232.24,993.18 L233.25,993.18 L234.26,993.18 L235.26,993.17 L236.27,993.15 L237.28,993.12 L238.29,993.09 L239.29,993.05 L240.30,992.99 L241.31,992.93 L242.31,992.86 L243.32,992.78 L244.33,992.69 L245.33,992.59 L246.34,992.48 L247.35,992.36 L248.35,992.22 L249.36,992.08 L250.37,991.92 L251.38,991.75 L252.38,991.56 L253.39,991.36 L254.40,991.15 L255.40,990.93 L256.41,990.69 L257.42,990.45 L258.42,990.19 L259.43,989.92 L260.44,989.64 L261.44,989.36 L262.45,989.07 L263.46,988.77 L264.47,988.47 L265.47,988.16 L266.48,987.86 L267.49,987.57 L268.49,987.32 L269.50,987.12" fill="none" stroke="#000" stroke-width="1.7"/>
<line x1="113.8" y1="993.9" x2="177.1" y2="993.9" stroke="#000" stroke-width="1.5" stroke-dasharray="6.6 6.6"/>
<line x1="101.5" y1="1003.5" x2="177.1" y2="1003.5" stroke="#000" stroke-width="1.5" stroke-dasharray="6.6 6.6"/>
<rect x="177.1" y="981.6" width="76.30000000000001" height="34.69999999999993" rx="5" fill="#fff" stroke="#000" stroke-width="0.9"/>
<text x="215.25" y="1008.30" font-size="26" text-anchor="middle" font-weight="normal" fill="#000" >2.1%</text>
</g>
<rect x="49.6" y="793.3" width="280.0" height="245.0" fill="none" stroke="#333333" stroke-width="1.1"/>
<line x1="62.25" y1="1038.3" x2="62.25" y2="1043.3" stroke="#333333" stroke-width="1.1"/>
<text x="62.25" y="1057.50" font-size="13.44" text-anchor="middle" font-weight="normal" fill="#4D4D4D" >0.0</text>
<line x1="125.95" y1="1038.3" x2="125.95" y2="1043.3" stroke="#333333" stroke-width="1.1"/>
<text x="125.95" y="1057.50" font-size="13.44" text-anchor="middle" font-weight="normal" fill="#4D4D4D" >2.5</text>
<line x1="189.65" y1="1038.3" x2="189.65" y2="1043.3" stroke="#333333" stroke-width="1.1"/>
<text x="189.65" y="1057.50" font-size="13.44" text-anchor="middle" font-weight="normal" fill="#4D4D4D" >5.0</text>
<line x1="253.35" y1="1038.3" x2="253.35" y2="1043.3" stroke="#333333" stroke-width="1.1"/>
<text x="253.35" y="1057.50" font-size="13.44" text-anchor="middle" font-weight="normal" fill="#4D4D4D" >7.5</text>
<line x1="317.05" y1="1038.3" x2="317.05" y2="1043.3" stroke="#333333" stroke-width="1.1"/>
<text x="317.05" y="1057.50" font-size="13.44" text-anchor="middle" font-weight="normal" fill="#4D4D4D" >10.0</text>
<rect x="338.9" y="793.3" width="280.0" height="245.0" fill="#fff"/>
<line x1="351.55" y1="793.3" x2="351.55" y2="1038.3" stroke="#EBEBEB" stroke-width="1.25"/>
<line x1="383.40" y1="793.3" x2="383.40" y2="1038.3" stroke="#EBEBEB" stroke-width="0.65"/>
<line x1="415.25" y1="793.3" x2="415.25" y2="1038.3" stroke="#EBEBEB" stroke-width="1.25"/>
<line x1="447.10" y1="793.3" x2="447.10" y2="1038.3" stroke="#EBEBEB" stroke-width="0.65"/>
<line x1="478.95" y1="793.3" x2="478.95" y2="1038.3" stroke="#EBEBEB" stroke-width="1.25"/>
<line x1="510.80" y1="793.3" x2="510.80" y2="1038.3" stroke="#EBEBEB" stroke-width="0.65"/>
<line x1="542.65" y1="793.3" x2="542.65" y2="1038.3" stroke="#EBEBEB" stroke-width="1.25"/>
<line x1="574.50" y1="793.3" x2="574.50" y2="1038.3" stroke="#EBEBEB" stroke-width="0.65"/>
<line x1="606.35" y1="793.3" x2="606.35" y2="1038.3" stroke="#EBEBEB" stroke-width="1.25"/>
<line x1="338.9" y1="1028.20" x2="618.9" y2="1028.20" stroke="#EBEBEB" stroke-width="1.25"/>
<line x1="338.9" y1="1005.79" x2="618.9" y2="1005.79" stroke="#EBEBEB" stroke-width="0.65"/>
<line x1="338.9" y1="983.38" x2="618.9" y2="983.38" stroke="#EBEBEB" stroke-width="1.25"/>
<line x1="338.9" y1="960.97" x2="618.9" y2="960.97" stroke="#EBEBEB" stroke-width="0.65"/>
<line x1="338.9" y1="938.56" x2="618.9" y2="938.56" stroke="#EBEBEB" stroke-width="1.25"/>
<line x1="338.9" y1="916.15" x2="618.9" y2="916.15" stroke="#EBEBEB" stroke-width="0.65"/>
<line x1="338.9" y1="893.74" x2="618.9" y2="893.74" stroke="#EBEBEB" stroke-width="1.25"/>
<line x1="338.9" y1="871.33" x2="618.9" y2="871.33" stroke="#EBEBEB" stroke-width="0.65"/>
<line x1="338.9" y1="848.92" x2="618.9" y2="848.92" stroke="#EBEBEB" stroke-width="1.25"/>
<line x1="338.9" y1="826.51" x2="618.9" y2="826.51" stroke="#EBEBEB" stroke-width="0.65"/>
<line x1="338.9" y1="804.10" x2="618.9" y2="804.10" stroke="#EBEBEB" stroke-width="1.25"/>
<clipPath id="clipC1"><rect x="338.9" y="793.3" width="280.0" height="245.0"/></clipPath>
<g clip-path="url(#clipC1)">
<clipPath id="clipCR1"><rect x="338.9" y="793.3" width="280.0" height="235.10000000000014"/></clipPath>
<path d="M376.60,900.00 L377.61,900.88 L378.61,902.02 L379.62,903.33 L380.63,904.70 L381.63,906.09 L382.64,907.47 L383.64,908.83 L384.65,910.16 L385.66,911.47 L386.66,912.75 L387.67,914.00 L388.68,915.22 L389.68,916.42 L390.69,917.59 L391.70,918.73 L392.70,919.86 L393.71,920.95 L394.72,922.03 L395.72,923.09 L396.73,924.14 L397.73,925.16 L398.74,926.18 L399.75,927.18 L400.75,928.17 L401.76,929.14 L402.77,930.11 L403.77,931.07 L404.78,932.02 L405.79,932.96 L406.79,933.89 L407.80,934.82 L408.80,935.73 L409.81,936.64 L410.82,937.54 L411.82,938.43 L412.83,939.31 L413.84,940.18 L414.84,941.05 L415.85,941.90 L416.86,942.75 L417.86,943.59 L418.87,944.42 L419.88,945.24 L420.88,946.06 L421.89,946.88 L422.89,947.69 L423.90,948.49 L424.91,949.29 L425.91,950.09 L426.92,950.89 L427.93,951.70 L428.93,952.50 L429.94,953.30 L430.95,954.11 L431.95,954.92 L432.96,955.73 L433.96,956.55 L434.97,957.37 L435.98,958.20 L436.98,959.02 L437.99,959.85 L439.00,960.68 L440.00,961.50 L441.01,962.32 L442.02,963.14 L443.02,963.95 L444.03,964.75 L445.03,965.54 L446.04,966.32 L447.05,967.08 L448.05,967.83 L449.06,968.57 L450.07,969.29 L451.07,970.00 L452.08,970.69 L453.09,971.36 L454.09,972.02 L455.10,972.66 L456.11,973.28 L457.11,973.89 L458.12,974.49 L459.12,975.07 L460.13,975.63 L461.14,976.18 L462.14,976.72 L463.15,977.25 L464.16,977.76 L465.16,978.26 L466.17,978.75 L467.18,979.22 L468.18,979.68 L469.19,980.13 L470.19,980.57 L471.20,981.00 L472.21,981.41 L473.21,981.82 L474.22,982.21 L475.23,982.59 L476.23,982.96 L477.24,983.31 L478.25,983.66 L479.25,983.99 L480.26,984.31 L481.27,984.62 L482.27,984.92 L483.28,985.21 L484.28,985.49 L485.29,985.75 L486.30,986.00 L487.30,986.23 L488.31,986.45 L489.32,986.66 L490.32,986.85 L491.33,987.02 L492.34,987.18 L493.34,987.32 L494.35,987.45 L495.35,987.56 L496.36,987.64 L497.37,987.71 L498.37,987.77 L499.38,987.80 L500.39,987.82 L501.39,987.82 L502.40,987.81 L503.41,987.77 L504.41,987.73 L505.42,987.67 L506.43,987.59 L507.43,987.51 L508.44,987.41 L509.44,987.29 L510.45,987.17 L511.46,987.03 L512.46,986.89 L513.47,986.74 L514.48,986.57 L515.48,986.40 L516.49,986.22 L517.50,986.03 L518.50,985.84 L519.51,985.64 L520.51,985.43 L521.52,985.22 L522.53,985.00 L523.53,984.78 L524.54,984.56 L525.55,984.33 L526.55,984.10 L527.56,983.87 L528.57,983.63 L529.57,983.39 L530.58,983.14 L531.58,982.88 L532.59,982.60 L533.60,982.29 L534.60,981.96 L535.61,981.60 L536.62,981.20 L537.62,980.76 L538.63,980.27 L539.64,979.73 L540.64,979.13 L541.65,978.48 L542.66,977.77 L543.66,977.01 L544.67,976.22 L545.67,975.38 L546.68,974.54 L547.69,973.72 L548.69,973.00 L549.70,972.44 L549.70,1012.10 L548.69,1012.02 L547.69,1011.91 L546.68,1011.79 L545.67,1011.66 L544.67,1011.53 L543.66,1011.40 L542.66,1011.27 L541.65,1011.15 L540.64,1011.02 L539.64,1010.91 L538.63,1010.80 L537.62,1010.69 L536.62,1010.59 L535.61,1010.49 L534.60,1010.40 L533.60,1010.32 L532.59,1010.25 L531.58,1010.18 L530.58,1010.12 L529.57,1010.07 L528.57,1010.02 L527.56,1009.99 L526.55,1009.97 L525.55,1009.95 L524.54,1009.94 L523.53,1009.95 L522.53,1009.95 L521.52,1009.97 L520.51,1010.00 L519.51,1010.03 L518.50,1010.06 L517.50,1010.11 L516.49,1010.16 L515.48,1010.21 L514.48,1010.27 L513.47,1010.34 L512.46,1010.41 L511.46,1010.48 L510.45,1010.56 L509.44,1010.64 L508.44,1010.72 L507.43,1010.80 L506.43,1010.87 L505.42,1010.95 L504.41,1011.02 L503.41,1011.09 L502.40,1011.16 L501.39,1011.22 L500.39,1011.27 L499.38,1011.31 L498.37,1011.35 L497.37,1011.37 L496.36,1011.39 L495.35,1011.39 L494.35,1011.38 L493.34,1011.37 L492.34,1011.34 L491.33,1011.31 L490.32,1011.26 L489.32,1011.21 L488.31,1011.16 L487.30,1011.10 L486.30,1011.03 L485.29,1010.96 L484.28,1010.88 L483.28,1010.80 L482.27,1010.72 L481.27,1010.64 L480.26,1010.55 L479.25,1010.47 L478.25,1010.38 L477.24,1010.29 L476.23,1010.20 L475.23,1010.11 L474.22,1010.01 L473.21,1009.91 L472.21,1009.81 L471.20,1009.71 L470.19,1009.60 L469.19,1009.49 L468.18,1009.38 L467.18,1009.26 L466.17,1009.14 L465.16,1009.01 L464.16,1008.88 L463.15,1008.75 L462.14,1008.61 L461.14,1008.46 L460.13,1008.32 L459.12,1008.17 L458.12,1008.02 L457.11,1007.87 L456.11,1007.72 L455.10,1007.57 L454.09,1007.42 L453.09,1007.26 L452.08,1007.12 L451.07,1006.97 L450.07,1006.83 L449.06,1006.69 L448.05,1006.55 L447.05,1006.41 L446.04,1006.28 L445.03,1006.14 L444.03,1006.01 L443.02,1005.87 L442.02,1005.73 L441.01,1005.59 L440.00,1005.45 L439.00,1005.29 L437.99,1005.13 L436.98,1004.97 L435.98,1004.79 L434.97,1004.61 L433.96,1004.42 L432.96,1004.21 L431.95,1004.00 L430.95,1003.77 L429.94,1003.53 L428.93,1003.29 L427.93,1003.04 L426.92,1002.78 L425.91,1002.52 L424.91,1002.26 L423.90,1001.99 L422.89,1001.72 L421.89,1001.45 L420.88,1001.18 L419.88,1000.92 L418.87,1000.66 L417.86,1000.40 L416.86,1000.15 L415.85,999.90 L414.84,999.66 L413.84,999.43 L412.83,999.21 L411.82,998.99 L410.82,998.78 L409.81,998.57 L408.80,998.38 L407.80,998.19 L406.79,998.01 L405.79,997.83 L404.78,997.67 L403.77,997.51 L402.77,997.36 L401.76,997.22 L400.75,997.09 L399.75,996.97 L398.74,996.85 L397.73,996.74 L396.73,996.64 L395.72,996.54 L394.72,996.46 L393.71,996.37 L392.70,996.30 L391.70,996.23 L390.69,996.16 L389.68,996.10 L388.68,996.05 L387.67,996.00 L386.66,995.95 L385.66,995.90 L384.65,995.86 L383.64,995.82 L382.64,995.79 L381.63,995.75 L380.63,995.72 L379.62,995.69 L378.61,995.66 L377.61,995.64 L376.60,995.62Z" fill="#FC8D59" fill-opacity="0.5" clip-path="url(#clipCR1)"/>
<path d="M376.60,944.70 L377.61,945.22 L378.61,945.91 L379.62,946.69 L380.63,947.53 L381.63,948.38 L382.64,949.23 L383.64,950.09 L384.65,950.94 L385.66,951.80 L386.66,952.65 L387.67,953.51 L388.68,954.37 L389.68,955.22 L390.69,956.08 L391.70,956.93 L392.70,957.78 L393.71,958.63 L394.72,959.48 L395.72,960.32 L396.73,961.15 L397.73,961.98 L398.74,962.79 L399.75,963.60 L400.75,964.40 L401.76,965.18 L402.77,965.95 L403.77,966.70 L404.78,967.45 L405.79,968.17 L406.79,968.89 L407.80,969.59 L408.80,970.27 L409.81,970.95 L410.82,971.61 L411.82,972.27 L412.83,972.91 L413.84,973.55 L414.84,974.17 L415.85,974.79 L416.86,975.40 L417.86,976.01 L418.87,976.60 L419.88,977.20 L420.88,977.78 L421.89,978.36 L422.89,978.94 L423.90,979.50 L424.91,980.06 L425.91,980.62 L426.92,981.17 L427.93,981.71 L428.93,982.24 L429.94,982.77 L430.95,983.29 L431.95,983.81 L432.96,984.32 L433.96,984.82 L434.97,985.31 L435.98,985.80 L436.98,986.28 L437.99,986.76 L439.00,987.23 L440.00,987.69 L441.01,988.14 L442.02,988.59 L443.02,989.03 L444.03,989.46 L445.03,989.89 L446.04,990.31 L447.05,990.73 L448.05,991.13 L449.06,991.53 L450.07,991.93 L451.07,992.32 L452.08,992.70 L453.09,993.07 L454.09,993.43 L455.10,993.79 L456.11,994.14 L457.11,994.47 L458.12,994.80 L459.12,995.12 L460.13,995.43 L461.14,995.73 L462.14,996.02 L463.15,996.30 L464.16,996.57 L465.16,996.82 L466.17,997.07 L467.18,997.30 L468.18,997.52 L469.19,997.73 L470.19,997.93 L471.20,998.12 L472.21,998.30 L473.21,998.47 L474.22,998.63 L475.23,998.78 L476.23,998.93 L477.24,999.07 L478.25,999.19 L479.25,999.32 L480.26,999.43 L481.27,999.54 L482.27,999.64 L483.28,999.73 L484.28,999.82 L485.29,999.90 L486.30,999.98 L487.30,1000.04 L488.31,1000.10 L489.32,1000.15 L490.32,1000.20 L491.33,1000.23 L492.34,1000.26 L493.34,1000.28 L494.35,1000.29 L495.35,1000.30 L496.36,1000.29 L497.37,1000.28 L498.37,1000.25 L499.38,1000.22 L500.39,1000.18 L501.39,1000.13 L502.40,1000.08 L503.41,1000.01 L504.41,999.94 L505.42,999.86 L506.43,999.77 L507.43,999.68 L508.44,999.58 L509.44,999.47 L510.45,999.35 L511.46,999.22 L512.46,999.09 L513.47,998.96 L514.48,998.81 L515.48,998.66 L516.49,998.51 L517.50,998.35 L518.50,998.19 L519.51,998.02 L520.51,997.84 L521.52,997.67 L522.53,997.48 L523.53,997.30 L524.54,997.11 L525.55,996.92 L526.55,996.73 L527.56,996.54 L528.57,996.35 L529.57,996.15 L530.58,995.95 L531.58,995.76 L532.59,995.56 L533.60,995.36 L534.60,995.16 L535.61,994.96 L536.62,994.76 L537.62,994.56 L538.63,994.35 L539.64,994.15 L540.64,993.95 L541.65,993.74 L542.66,993.54 L543.66,993.33 L544.67,993.13 L545.67,992.92 L546.68,992.72 L547.69,992.53 L548.69,992.37 L549.70,992.24" fill="none" stroke="#000" stroke-width="1.7"/>
<line x1="390.6" y1="956" x2="461.8" y2="956" stroke="#000" stroke-width="1.5" stroke-dasharray="6.6 6.6"/>
<line x1="403.2" y1="966.3" x2="461.8" y2="966.3" stroke="#000" stroke-width="1.5" stroke-dasharray="6.6 6.6"/>
<rect x="461.8" y="943.3" width="85.19999999999999" height="35.200000000000045" rx="5" fill="#fff" stroke="#000" stroke-width="0.9"/>
<text x="504.40" y="970.50" font-size="26" text-anchor="middle" font-weight="normal" fill="#000" >-2.2%</text>
</g>
<rect x="338.9" y="793.3" width="280.0" height="245.0" fill="none" stroke="#333333" stroke-width="1.1"/>
<line x1="351.55" y1="1038.3" x2="351.55" y2="1043.3" stroke="#333333" stroke-width="1.1"/>
<text x="351.55" y="1057.50" font-size="13.44" text-anchor="middle" font-weight="normal" fill="#4D4D4D" >0.0</text>
<line x1="415.25" y1="1038.3" x2="415.25" y2="1043.3" stroke="#333333" stroke-width="1.1"/>
<text x="415.25" y="1057.50" font-size="13.44" text-anchor="middle" font-weight="normal" fill="#4D4D4D" >2.5</text>
<line x1="478.95" y1="1038.3" x2="478.95" y2="1043.3" stroke="#333333" stroke-width="1.1"/>
<text x="478.95" y="1057.50" font-size="13.44" text-anchor="middle" font-weight="normal" fill="#4D4D4D" >5.0</text>
<line x1="542.65" y1="1038.3" x2="542.65" y2="1043.3" stroke="#333333" stroke-width="1.1"/>
<text x="542.65" y="1057.50" font-size="13.44" text-anchor="middle" font-weight="normal" fill="#4D4D4D" >7.5</text>
<line x1="606.35" y1="1038.3" x2="606.35" y2="1043.3" stroke="#333333" stroke-width="1.1"/>
<text x="606.35" y="1057.50" font-size="13.44" text-anchor="middle" font-weight="normal" fill="#4D4D4D" >10.0</text>
<rect x="628.4" y="793.3" width="280.0" height="245.0" fill="#fff"/>
<line x1="641.05" y1="793.3" x2="641.05" y2="1038.3" stroke="#EBEBEB" stroke-width="1.25"/>
<line x1="672.90" y1="793.3" x2="672.90" y2="1038.3" stroke="#EBEBEB" stroke-width="0.65"/>
<line x1="704.75" y1="793.3" x2="704.75" y2="1038.3" stroke="#EBEBEB" stroke-width="1.25"/>
<line x1="736.60" y1="793.3" x2="736.60" y2="1038.3" stroke="#EBEBEB" stroke-width="0.65"/>
<line x1="768.45" y1="793.3" x2="768.45" y2="1038.3" stroke="#EBEBEB" stroke-width="1.25"/>
<line x1="800.30" y1="793.3" x2="800.30" y2="1038.3" stroke="#EBEBEB" stroke-width="0.65"/>
<line x1="832.15" y1="793.3" x2="832.15" y2="1038.3" stroke="#EBEBEB" stroke-width="1.25"/>
<line x1="864.00" y1="793.3" x2="864.00" y2="1038.3" stroke="#EBEBEB" stroke-width="0.65"/>
<line x1="895.85" y1="793.3" x2="895.85" y2="1038.3" stroke="#EBEBEB" stroke-width="1.25"/>
<line x1="628.4" y1="1028.20" x2="908.4" y2="1028.20" stroke="#EBEBEB" stroke-width="1.25"/>
<line x1="628.4" y1="1005.79" x2="908.4" y2="1005.79" stroke="#EBEBEB" stroke-width="0.65"/>
<line x1="628.4" y1="983.38" x2="908.4" y2="983.38" stroke="#EBEBEB" stroke-width="1.25"/>
<line x1="628.4" y1="960.97" x2="908.4" y2="960.97" stroke="#EBEBEB" stroke-width="0.65"/>
<line x1="628.4" y1="938.56" x2="908.4" y2="938.56" stroke="#EBEBEB" stroke-width="1.25"/>
<line x1="628.4" y1="916.15" x2="908.4" y2="916.15" stroke="#EBEBEB" stroke-width="0.65"/>
<line x1="628.4" y1="893.74" x2="908.4" y2="893.74" stroke="#EBEBEB" stroke-width="1.25"/>
<line x1="628.4" y1="871.33" x2="908.4" y2="871.33" stroke="#EBEBEB" stroke-width="0.65"/>
<line x1="628.4" y1="848.92" x2="908.4" y2="848.92" stroke="#EBEBEB" stroke-width="1.25"/>
<line x1="628.4" y1="826.51" x2="908.4" y2="826.51" stroke="#EBEBEB" stroke-width="0.65"/>
<line x1="628.4" y1="804.10" x2="908.4" y2="804.10" stroke="#EBEBEB" stroke-width="1.25"/>
<clipPath id="clipC2"><rect x="628.4" y="793.3" width="280.0" height="245.0"/></clipPath>
<g clip-path="url(#clipC2)">
<clipPath id="clipCR2"><rect x="628.4" y="793.3" width="280.0" height="235.10000000000014"/></clipPath>
<path d="M670.60,819.09 L671.61,820.64 L672.63,822.68 L673.64,825.00 L674.65,827.44 L675.67,829.90 L676.68,832.33 L677.69,834.71 L678.71,837.05 L679.72,839.32 L680.73,841.53 L681.75,843.69 L682.76,845.78 L683.77,847.84 L684.79,849.85 L685.80,851.84 L686.81,853.82 L687.83,855.79 L688.84,857.77 L689.85,859.76 L690.87,861.78 L691.88,863.81 L692.89,865.86 L693.91,867.92 L694.92,869.98 L695.93,872.02 L696.95,874.05 L697.96,876.04 L698.97,878.00 L699.99,879.90 L701.00,881.74 L702.01,883.53 L703.03,885.26 L704.04,886.94 L705.05,888.58 L706.07,890.20 L707.08,891.79 L708.10,893.38 L709.11,894.97 L710.12,896.56 L711.14,898.16 L712.15,899.79 L713.16,901.42 L714.18,903.07 L715.19,904.71 L716.20,906.35 L717.22,907.98 L718.23,909.59 L719.24,911.17 L720.26,912.72 L721.27,914.22 L722.28,915.69 L723.30,917.11 L724.31,918.48 L725.32,919.81 L726.34,921.10 L727.35,922.35 L728.36,923.56 L729.38,924.73 L730.39,925.86 L731.40,926.96 L732.42,928.03 L733.43,929.06 L734.44,930.06 L735.46,931.04 L736.47,931.99 L737.48,932.91 L738.50,933.80 L739.51,934.68 L740.52,935.53 L741.54,936.36 L742.55,937.17 L743.56,937.97 L744.58,938.74 L745.59,939.50 L746.60,940.24 L747.62,940.97 L748.63,941.68 L749.64,942.37 L750.66,943.04 L751.67,943.71 L752.68,944.35 L753.70,944.98 L754.71,945.60 L755.72,946.20 L756.74,946.79 L757.75,947.36 L758.76,947.92 L759.78,948.47 L760.79,949.01 L761.80,949.53 L762.82,950.04 L763.83,950.54 L764.84,951.02 L765.86,951.48 L766.87,951.92 L767.88,952.34 L768.90,952.74 L769.91,953.11 L770.92,953.45 L771.94,953.77 L772.95,954.05 L773.96,954.30 L774.98,954.52 L775.99,954.70 L777.00,954.84 L778.02,954.94 L779.03,955.01 L780.05,955.03 L781.06,955.01 L782.07,954.95 L783.09,954.86 L784.10,954.72 L785.11,954.56 L786.13,954.35 L787.14,954.11 L788.15,953.84 L789.17,953.54 L790.18,953.21 L791.19,952.84 L792.21,952.45 L793.22,952.02 L794.23,951.56 L795.25,951.07 L796.26,950.53 L797.27,949.95 L798.29,949.33 L799.30,948.65 L800.31,947.92 L801.33,947.13 L802.34,946.28 L803.35,945.36 L804.37,944.38 L805.38,943.32 L806.39,942.19 L807.41,940.99 L808.42,939.72 L809.43,938.39 L810.45,937.02 L811.46,935.64 L812.47,934.31 L813.49,933.14 L814.50,932.24 L814.50,1014.89 L813.49,1014.36 L812.47,1013.68 L811.46,1012.92 L810.45,1012.14 L809.43,1011.40 L808.42,1010.71 L807.41,1010.08 L806.39,1009.53 L805.38,1009.06 L804.37,1008.67 L803.35,1008.36 L802.34,1008.12 L801.33,1007.95 L800.31,1007.84 L799.30,1007.79 L798.29,1007.78 L797.27,1007.82 L796.26,1007.89 L795.25,1007.99 L794.23,1008.12 L793.22,1008.26 L792.21,1008.41 L791.19,1008.57 L790.18,1008.73 L789.17,1008.90 L788.15,1009.06 L787.14,1009.23 L786.13,1009.39 L785.11,1009.54 L784.10,1009.69 L783.09,1009.83 L782.07,1009.97 L781.06,1010.09 L780.05,1010.20 L779.03,1010.29 L778.02,1010.37 L777.00,1010.44 L775.99,1010.48 L774.98,1010.51 L773.96,1010.52 L772.95,1010.51 L771.94,1010.47 L770.92,1010.41 L769.91,1010.32 L768.90,1010.21 L767.88,1010.08 L766.87,1009.93 L765.86,1009.76 L764.84,1009.56 L763.83,1009.35 L762.82,1009.11 L761.80,1008.86 L760.79,1008.58 L759.78,1008.30 L758.76,1007.99 L757.75,1007.67 L756.74,1007.33 L755.72,1006.98 L754.71,1006.62 L753.70,1006.24 L752.68,1005.85 L751.67,1005.45 L750.66,1005.04 L749.64,1004.62 L748.63,1004.19 L747.62,1003.75 L746.60,1003.30 L745.59,1002.85 L744.58,1002.39 L743.56,1001.93 L742.55,1001.46 L741.54,1000.99 L740.52,1000.52 L739.51,1000.05 L738.50,999.57 L737.48,999.10 L736.47,998.63 L735.46,998.15 L734.44,997.68 L733.43,997.22 L732.42,996.76 L731.40,996.30 L730.39,995.85 L729.38,995.41 L728.36,994.97 L727.35,994.54 L726.34,994.12 L725.32,993.71 L724.31,993.30 L723.30,992.91 L722.28,992.53 L721.27,992.16 L720.26,991.80 L719.24,991.45 L718.23,991.12 L717.22,990.80 L716.20,990.50 L715.19,990.21 L714.18,989.93 L713.16,989.67 L712.15,989.43 L711.14,989.20 L710.12,988.99 L709.11,988.80 L708.10,988.63 L707.08,988.47 L706.07,988.34 L705.05,988.23 L704.04,988.14 L703.03,988.06 L702.01,988.02 L701.00,987.99 L699.99,987.98 L698.97,988.00 L697.96,988.05 L696.95,988.11 L695.93,988.21 L694.92,988.33 L693.91,988.48 L692.89,988.66 L691.88,988.87 L690.87,989.12 L689.85,989.40 L688.84,989.72 L687.83,990.09 L686.81,990.50 L685.80,990.95 L684.79,991.45 L683.77,992.00 L682.76,992.60 L681.75,993.26 L680.73,993.97 L679.72,994.73 L678.71,995.55 L677.69,996.41 L676.68,997.31 L675.67,998.25 L674.65,999.22 L673.64,1000.19 L672.63,1001.12 L671.61,1001.94 L670.60,1002.57Z" fill="#E34A33" fill-opacity="0.5" clip-path="url(#clipCR2)"/>
<path d="M670.60,898.24 L671.61,898.80 L672.63,899.54 L673.64,900.40 L674.65,901.31 L675.67,902.26 L676.68,903.22 L677.69,904.21 L678.71,905.21 L679.72,906.24 L680.73,907.30 L681.75,908.37 L682.76,909.47 L683.77,910.59 L684.79,911.72 L685.80,912.87 L686.81,914.01 L687.83,915.16 L688.84,916.31 L689.85,917.45 L690.87,918.58 L691.88,919.70 L692.89,920.79 L693.91,921.87 L694.92,922.93 L695.93,923.97 L696.95,924.99 L697.96,926.00 L698.97,927.00 L699.99,927.99 L701.00,928.96 L702.01,929.93 L703.03,930.90 L704.04,931.86 L705.05,932.82 L706.07,933.78 L707.08,934.74 L708.10,935.70 L709.11,936.68 L710.12,937.66 L711.14,938.64 L712.15,939.64 L713.16,940.64 L714.18,941.66 L715.19,942.67 L716.20,943.70 L717.22,944.73 L718.23,945.76 L719.24,946.79 L720.26,947.82 L721.27,948.85 L722.28,949.88 L723.30,950.90 L724.31,951.91 L725.32,952.92 L726.34,953.93 L727.35,954.92 L728.36,955.90 L729.38,956.87 L730.39,957.82 L731.40,958.76 L732.42,959.69 L733.43,960.59 L734.44,961.49 L735.46,962.36 L736.47,963.22 L737.48,964.06 L738.50,964.89 L739.51,965.69 L740.52,966.48 L741.54,967.25 L742.55,968.01 L743.56,968.74 L744.58,969.46 L745.59,970.16 L746.60,970.84 L747.62,971.51 L748.63,972.15 L749.64,972.77 L750.66,973.38 L751.67,973.97 L752.68,974.53 L753.70,975.08 L754.71,975.60 L755.72,976.11 L756.74,976.59 L757.75,977.06 L758.76,977.50 L759.78,977.91 L760.79,978.31 L761.80,978.68 L762.82,979.02 L763.83,979.34 L764.84,979.64 L765.86,979.91 L766.87,980.15 L767.88,980.37 L768.90,980.56 L769.91,980.72 L770.92,980.86 L771.94,980.97 L772.95,981.05 L773.96,981.10 L774.98,981.12 L775.99,981.12 L777.00,981.09 L778.02,981.03 L779.03,980.95 L780.05,980.85 L781.06,980.72 L782.07,980.56 L783.09,980.39 L784.10,980.19 L785.11,979.97 L786.13,979.73 L787.14,979.47 L788.15,979.19 L789.17,978.88 L790.18,978.56 L791.19,978.23 L792.21,977.87 L793.22,977.50 L794.23,977.11 L795.25,976.70 L796.26,976.28 L797.27,975.85 L798.29,975.40 L799.30,974.95 L800.31,974.48 L801.33,973.99 L802.34,973.50 L803.35,973.00 L804.37,972.49 L805.38,971.98 L806.39,971.45 L807.41,970.92 L808.42,970.39 L809.43,969.85 L810.45,969.30 L811.46,968.77 L812.47,968.26 L813.49,967.82 L814.50,967.49" fill="none" stroke="#000" stroke-width="1.7"/>
<line x1="680.3" y1="906.5" x2="761.7" y2="906.5" stroke="#000" stroke-width="1.5" stroke-dasharray="6.6 6.6"/>
<line x1="692.5" y1="920.4" x2="761.7" y2="920.4" stroke="#000" stroke-width="1.5" stroke-dasharray="6.6 6.6"/>
<rect x="761.7" y="895.6" width="63.799999999999955" height="35.39999999999998" rx="5" fill="#fff" stroke="#000" stroke-width="0.9"/>
<text x="793.60" y="923.00" font-size="26" text-anchor="middle" font-weight="normal" fill="#000" >-3%</text>
</g>
<rect x="628.4" y="793.3" width="280.0" height="245.0" fill="none" stroke="#333333" stroke-width="1.1"/>
<line x1="641.05" y1="1038.3" x2="641.05" y2="1043.3" stroke="#333333" stroke-width="1.1"/>
<text x="641.05" y="1057.50" font-size="13.44" text-anchor="middle" font-weight="normal" fill="#4D4D4D" >0.0</text>
<line x1="704.75" y1="1038.3" x2="704.75" y2="1043.3" stroke="#333333" stroke-width="1.1"/>
<text x="704.75" y="1057.50" font-size="13.44" text-anchor="middle" font-weight="normal" fill="#4D4D4D" >2.5</text>
<line x1="768.45" y1="1038.3" x2="768.45" y2="1043.3" stroke="#333333" stroke-width="1.1"/>
<text x="768.45" y="1057.50" font-size="13.44" text-anchor="middle" font-weight="normal" fill="#4D4D4D" >5.0</text>
<line x1="832.15" y1="1038.3" x2="832.15" y2="1043.3" stroke="#333333" stroke-width="1.1"/>
<text x="832.15" y="1057.50" font-size="13.44" text-anchor="middle" font-weight="normal" fill="#4D4D4D" >7.5</text>
<line x1="895.85" y1="1038.3" x2="895.85" y2="1043.3" stroke="#333333" stroke-width="1.1"/>
<text x="895.85" y="1057.50" font-size="13.44" text-anchor="middle" font-weight="normal" fill="#4D4D4D" >10.0</text>
<rect x="917.3" y="793.3" width="280.0" height="245.0" fill="#fff"/>
<line x1="929.95" y1="793.3" x2="929.95" y2="1038.3" stroke="#EBEBEB" stroke-width="1.25"/>
<line x1="961.80" y1="793.3" x2="961.80" y2="1038.3" stroke="#EBEBEB" stroke-width="0.65"/>
<line x1="993.65" y1="793.3" x2="993.65" y2="1038.3" stroke="#EBEBEB" stroke-width="1.25"/>
<line x1="1025.50" y1="793.3" x2="1025.50" y2="1038.3" stroke="#EBEBEB" stroke-width="0.65"/>
<line x1="1057.35" y1="793.3" x2="1057.35" y2="1038.3" stroke="#EBEBEB" stroke-width="1.25"/>
<line x1="1089.20" y1="793.3" x2="1089.20" y2="1038.3" stroke="#EBEBEB" stroke-width="0.65"/>
<line x1="1121.05" y1="793.3" x2="1121.05" y2="1038.3" stroke="#EBEBEB" stroke-width="1.25"/>
<line x1="1152.90" y1="793.3" x2="1152.90" y2="1038.3" stroke="#EBEBEB" stroke-width="0.65"/>
<line x1="1184.75" y1="793.3" x2="1184.75" y2="1038.3" stroke="#EBEBEB" stroke-width="1.25"/>
<line x1="917.3" y1="1028.20" x2="1197.3" y2="1028.20" stroke="#EBEBEB" stroke-width="1.25"/>
<line x1="917.3" y1="1005.79" x2="1197.3" y2="1005.79" stroke="#EBEBEB" stroke-width="0.65"/>
<line x1="917.3" y1="983.38" x2="1197.3" y2="983.38" stroke="#EBEBEB" stroke-width="1.25"/>
<line x1="917.3" y1="960.97" x2="1197.3" y2="960.97" stroke="#EBEBEB" stroke-width="0.65"/>
<line x1="917.3" y1="938.56" x2="1197.3" y2="938.56" stroke="#EBEBEB" stroke-width="1.25"/>
<line x1="917.3" y1="916.15" x2="1197.3" y2="916.15" stroke="#EBEBEB" stroke-width="0.65"/>
<line x1="917.3" y1="893.74" x2="1197.3" y2="893.74" stroke="#EBEBEB" stroke-width="1.25"/>
<line x1="917.3" y1="871.33" x2="1197.3" y2="871.33" stroke="#EBEBEB" stroke-width="0.65"/>
<line x1="917.3" y1="848.92" x2="1197.3" y2="848.92" stroke="#EBEBEB" stroke-width="1.25"/>
<line x1="917.3" y1="826.51" x2="1197.3" y2="826.51" stroke="#EBEBEB" stroke-width="0.65"/>
<line x1="917.3" y1="804.10" x2="1197.3" y2="804.10" stroke="#EBEBEB" stroke-width="1.25"/>
<clipPath id="clipC3"><rect x="917.3" y="793.3" width="280.0" height="245.0"/></clipPath>
<g clip-path="url(#clipC3)">
<clipPath id="clipCR3"><rect x="917.3" y="793.3" width="280.0" height="235.10000000000014"/></clipPath>
<path d="M948.40,780.00 L993.10,780.00 L993.10,794.59 L994.11,795.72 L995.13,797.21 L996.14,798.92 L997.16,800.74 L998.17,802.60 L999.19,804.49 L1000.20,806.39 L1001.21,808.31 L1002.23,810.25 L1003.24,812.21 L1004.26,814.19 L1005.27,816.18 L1006.29,818.18 L1007.30,820.19 L1008.31,822.22 L1009.33,824.25 L1010.34,826.28 L1011.36,828.31 L1012.37,830.35 L1013.39,832.38 L1014.40,834.41 L1015.41,836.45 L1016.43,838.48 L1017.44,840.52 L1018.46,842.56 L1019.47,844.61 L1020.49,846.66 L1021.50,848.71 L1022.51,850.77 L1023.53,852.83 L1024.54,854.89 L1025.56,856.94 L1026.57,858.98 L1027.59,861.00 L1028.60,863.01 L1029.61,864.99 L1030.63,866.94 L1031.64,868.86 L1032.66,870.74 L1033.67,872.59 L1034.69,874.40 L1035.70,876.17 L1036.71,877.90 L1037.73,879.58 L1038.74,881.22 L1039.76,882.81 L1040.77,884.36 L1041.79,885.85 L1042.80,887.30 L1043.81,888.70 L1044.83,890.05 L1045.84,891.35 L1046.86,892.61 L1047.87,893.83 L1048.89,895.01 L1049.90,896.15 L1050.91,897.26 L1051.93,898.33 L1052.94,899.38 L1053.96,900.40 L1054.97,901.39 L1055.99,902.36 L1057.00,903.31 L1058.01,904.24 L1059.03,905.15 L1060.04,906.04 L1061.06,906.90 L1062.07,907.74 L1063.09,908.55 L1064.10,909.34 L1065.11,910.11 L1066.13,910.84 L1067.14,911.54 L1068.16,912.22 L1069.17,912.86 L1070.19,913.48 L1071.20,914.06 L1072.21,914.61 L1073.23,915.13 L1074.24,915.62 L1075.26,916.07 L1076.27,916.50 L1077.29,916.90 L1078.30,917.27 L1079.31,917.61 L1080.33,917.92 L1081.34,918.21 L1082.36,918.46 L1083.37,918.69 L1084.39,918.90 L1085.40,919.07 L1086.41,919.23 L1087.43,919.35 L1088.44,919.45 L1089.46,919.51 L1090.47,919.55 L1091.49,919.56 L1092.50,919.54 L1093.51,919.49 L1094.53,919.40 L1095.54,919.28 L1096.56,919.12 L1097.57,918.94 L1098.59,918.72 L1099.60,918.47 L1100.61,918.19 L1101.63,917.90 L1102.64,917.58 L1103.66,917.26 L1104.67,916.94 L1105.69,916.67 L1106.70,916.45 L1106.70,990.55 L1105.69,990.16 L1104.68,989.65 L1103.68,989.06 L1102.67,988.43 L1101.66,987.80 L1100.65,987.16 L1099.64,986.52 L1098.63,985.89 L1097.63,985.26 L1096.62,984.63 L1095.61,984.00 L1094.60,983.38 L1093.59,982.76 L1092.58,982.15 L1091.58,981.53 L1090.57,980.93 L1089.56,980.33 L1088.55,979.74 L1087.54,979.16 L1086.53,978.58 L1085.53,978.02 L1084.52,977.48 L1083.51,976.95 L1082.50,976.44 L1081.49,975.95 L1080.48,975.48 L1079.48,975.03 L1078.47,974.60 L1077.46,974.21 L1076.45,973.84 L1075.44,973.50 L1074.44,973.18 L1073.43,972.89 L1072.42,972.63 L1071.41,972.39 L1070.40,972.16 L1069.39,971.95 L1068.39,971.75 L1067.38,971.57 L1066.37,971.38 L1065.36,971.20 L1064.35,971.02 L1063.34,970.84 L1062.34,970.65 L1061.33,970.45 L1060.32,970.24 L1059.31,970.02 L1058.30,969.79 L1057.29,969.54 L1056.29,969.27 L1055.28,968.99 L1054.27,968.69 L1053.26,968.37 L1052.25,968.03 L1051.24,967.67 L1050.24,967.29 L1049.23,966.88 L1048.22,966.45 L1047.21,965.99 L1046.20,965.51 L1045.19,965.00 L1044.19,964.47 L1043.18,963.91 L1042.17,963.33 L1041.16,962.72 L1040.15,962.09 L1039.15,961.44 L1038.14,960.77 L1037.13,960.08 L1036.12,959.36 L1035.11,958.63 L1034.10,957.89 L1033.10,957.12 L1032.09,956.35 L1031.08,955.55 L1030.07,954.74 L1029.06,953.92 L1028.05,953.08 L1027.05,952.22 L1026.04,951.36 L1025.03,950.48 L1024.02,949.58 L1023.01,948.67 L1022.00,947.75 L1021.00,946.82 L1019.99,945.87 L1018.98,944.91 L1017.97,943.94 L1016.96,942.95 L1015.95,941.95 L1014.95,940.94 L1013.94,939.91 L1012.93,938.86 L1011.92,937.80 L1010.91,936.72 L1009.91,935.62 L1008.90,934.49 L1007.89,933.34 L1006.88,932.17 L1005.87,930.97 L1004.86,929.75 L1003.86,928.50 L1002.85,927.21 L1001.84,925.90 L1000.83,924.56 L999.82,923.19 L998.81,921.80 L997.81,920.38 L996.80,918.95 L995.79,917.50 L994.78,916.03 L993.77,914.56 L992.76,913.07 L991.76,911.59 L990.75,910.10 L989.74,908.62 L988.73,907.14 L987.72,905.67 L986.71,904.21 L985.71,902.76 L984.70,901.31 L983.69,899.87 L982.68,898.43 L981.67,897.00 L980.66,895.57 L979.66,894.14 L978.65,892.71 L977.64,891.28 L976.63,889.85 L975.62,888.41 L974.62,886.97 L973.61,885.54 L972.60,884.10 L971.59,882.67 L970.58,881.26 L969.57,879.86 L968.57,878.50 L967.56,877.16 L966.55,875.87 L965.54,874.62 L964.53,873.42 L963.52,872.28 L962.52,871.20 L961.51,870.20 L960.50,869.27 L959.49,868.43 L958.48,867.67 L957.47,867.00 L956.47,866.44 L955.46,865.97 L954.45,865.60 L953.44,865.32 L952.43,865.11 L951.42,864.98 L950.42,864.89 L949.41,864.84 L948.40,864.82Z" fill="#B30000" fill-opacity="0.5" clip-path="url(#clipCR3)"/>
<path d="M945.00,779.09 L946.01,780.05 L947.02,781.29 L948.03,782.72 L949.04,784.22 L950.05,785.75 L951.06,787.26 L952.07,788.76 L953.09,790.24 L954.10,791.69 L955.11,793.13 L956.12,794.53 L957.13,795.92 L958.14,797.28 L959.15,798.63 L960.16,799.96 L961.17,801.28 L962.18,802.60 L963.19,803.92 L964.20,805.25 L965.21,806.58 L966.22,807.93 L967.23,809.29 L968.24,810.67 L969.25,812.07 L970.27,813.50 L971.28,814.95 L972.29,816.42 L973.30,817.90 L974.31,819.40 L975.32,820.91 L976.33,822.43 L977.34,823.95 L978.35,825.47 L979.36,826.99 L980.37,828.50 L981.38,830.01 L982.39,831.51 L983.40,832.99 L984.41,834.47 L985.42,835.94 L986.44,837.40 L987.45,838.85 L988.46,840.29 L989.47,841.73 L990.48,843.17 L991.49,844.60 L992.50,846.04 L993.51,847.47 L994.52,848.90 L995.53,850.33 L996.54,851.76 L997.55,853.19 L998.56,854.63 L999.57,856.06 L1000.58,857.50 L1001.60,858.94 L1002.61,860.39 L1003.62,861.83 L1004.63,863.28 L1005.64,864.73 L1006.65,866.19 L1007.66,867.64 L1008.67,869.10 L1009.68,870.57 L1010.69,872.03 L1011.70,873.49 L1012.71,874.95 L1013.72,876.40 L1014.73,877.86 L1015.74,879.30 L1016.75,880.74 L1017.76,882.17 L1018.78,883.59 L1019.79,884.99 L1020.80,886.39 L1021.81,887.77 L1022.82,889.14 L1023.83,890.49 L1024.84,891.83 L1025.85,893.16 L1026.86,894.47 L1027.87,895.78 L1028.88,897.07 L1029.89,898.36 L1030.90,899.63 L1031.91,900.90 L1032.92,902.15 L1033.93,903.40 L1034.95,904.64 L1035.96,905.88 L1036.97,907.11 L1037.98,908.33 L1038.99,909.54 L1040.00,910.74 L1041.01,911.93 L1042.02,913.11 L1043.03,914.27 L1044.04,915.43 L1045.05,916.57 L1046.06,917.69 L1047.07,918.80 L1048.08,919.89 L1049.09,920.97 L1050.11,922.03 L1051.12,923.07 L1052.13,924.09 L1053.14,925.09 L1054.15,926.06 L1055.16,927.02 L1056.17,927.95 L1057.18,928.86 L1058.19,929.75 L1059.20,930.62 L1060.21,931.45 L1061.22,932.27 L1062.23,933.06 L1063.24,933.83 L1064.25,934.58 L1065.26,935.31 L1066.28,936.01 L1067.29,936.70 L1068.30,937.37 L1069.31,938.01 L1070.32,938.64 L1071.33,939.25 L1072.34,939.84 L1073.35,940.42 L1074.36,940.98 L1075.37,941.52 L1076.38,942.04 L1077.39,942.54 L1078.40,943.03 L1079.41,943.50 L1080.42,943.95 L1081.43,944.38 L1082.45,944.80 L1083.46,945.19 L1084.47,945.57 L1085.48,945.93 L1086.49,946.28 L1087.50,946.60 L1088.51,946.92 L1089.52,947.22 L1090.53,947.51 L1091.54,947.79 L1092.55,948.06 L1093.56,948.32 L1094.57,948.58 L1095.58,948.84 L1096.59,949.10 L1097.60,949.35 L1098.62,949.61 L1099.63,949.87 L1100.64,950.13 L1101.65,950.39 L1102.66,950.65 L1103.67,950.90 L1104.68,951.15 L1105.69,951.36 L1106.70,951.52" fill="none" stroke="#000" stroke-width="1.7"/>
<line x1="968.8" y1="811.2" x2="1040.3" y2="811.2" stroke="#000" stroke-width="1.5" stroke-dasharray="6.6 6.6"/>
<line x1="981.5" y1="830.2" x2="1040.3" y2="830.2" stroke="#000" stroke-width="1.5" stroke-dasharray="6.6 6.6"/>
<rect x="1040.3" y="803.6" width="84.90000000000009" height="34.60000000000002" rx="5" fill="#fff" stroke="#000" stroke-width="0.9"/>
<text x="1082.75" y="830.20" font-size="26" text-anchor="middle" font-weight="normal" fill="#000" >-4.2%</text>
</g>
<rect x="917.3" y="793.3" width="280.0" height="245.0" fill="none" stroke="#333333" stroke-width="1.1"/>
<line x1="929.95" y1="1038.3" x2="929.95" y2="1043.3" stroke="#333333" stroke-width="1.1"/>
<text x="929.95" y="1057.50" font-size="13.44" text-anchor="middle" font-weight="normal" fill="#4D4D4D" >0.0</text>
<line x1="993.65" y1="1038.3" x2="993.65" y2="1043.3" stroke="#333333" stroke-width="1.1"/>
<text x="993.65" y="1057.50" font-size="13.44" text-anchor="middle" font-weight="normal" fill="#4D4D4D" >2.5</text>
<line x1="1057.35" y1="1038.3" x2="1057.35" y2="1043.3" stroke="#333333" stroke-width="1.1"/>
<text x="1057.35" y="1057.50" font-size="13.44" text-anchor="middle" font-weight="normal" fill="#4D4D4D" >5.0</text>
<line x1="1121.05" y1="1038.3" x2="1121.05" y2="1043.3" stroke="#333333" stroke-width="1.1"/>
<text x="1121.05" y="1057.50" font-size="13.44" text-anchor="middle" font-weight="normal" fill="#4D4D4D" >7.5</text>
<line x1="1184.75" y1="1038.3" x2="1184.75" y2="1043.3" stroke="#333333" stroke-width="1.1"/>
<text x="1184.75" y="1057.50" font-size="13.44" text-anchor="middle" font-weight="normal" fill="#4D4D4D" >10.0</text>
<line x1="45" y1="1028.20" x2="49.6" y2="1028.20" stroke="#333333" stroke-width="1.1"/>
<text x="41.50" y="1033.00" font-size="13.44" text-anchor="end" font-weight="normal" fill="#4D4D4D" >0.0</text>
<line x1="45" y1="983.38" x2="49.6" y2="983.38" stroke="#333333" stroke-width="1.1"/>
<text x="41.50" y="988.18" font-size="13.44" text-anchor="end" font-weight="normal" fill="#4D4D4D" >0.1</text>
<line x1="45" y1="938.56" x2="49.6" y2="938.56" stroke="#333333" stroke-width="1.1"/>
<text x="41.50" y="943.36" font-size="13.44" text-anchor="end" font-weight="normal" fill="#4D4D4D" >0.2</text>
<line x1="45" y1="893.74" x2="49.6" y2="893.74" stroke="#333333" stroke-width="1.1"/>
<text x="41.50" y="898.54" font-size="13.44" text-anchor="end" font-weight="normal" fill="#4D4D4D" >0.3</text>
<line x1="45" y1="848.92" x2="49.6" y2="848.92" stroke="#333333" stroke-width="1.1"/>
<text x="41.50" y="853.72" font-size="13.44" text-anchor="end" font-weight="normal" fill="#4D4D4D" >0.4</text>
<line x1="45" y1="804.10" x2="49.6" y2="804.10" stroke="#333333" stroke-width="1.1"/>
<text x="41.50" y="808.90" font-size="13.44" text-anchor="end" font-weight="normal" fill="#4D4D4D" >0.5</text>
<text x="0" y="0" font-size="17.6" text-anchor="middle" transform="translate(15.6,926.6) rotate(-90)">15-y risk</text>
<text x="623.60" y="1075.80" font-size="16.8" text-anchor="middle" font-weight="normal" fill="#000" >Light activity (hours/day)</text>
</svg></body></html>
